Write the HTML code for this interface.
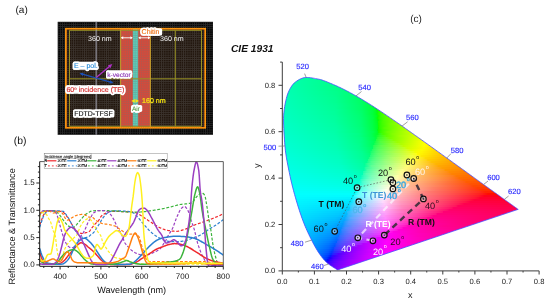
<!DOCTYPE html>
<html><head><meta charset="utf-8"><title>figure</title>
<style>html,body{margin:0;padding:0;background:#fff}body{width:550px;height:304px;overflow:hidden}svg{display:block;font-family:'Liberation Sans', sans-serif}text{text-rendering:geometricPrecision}</style></head>
<body>
<svg width="550" height="304" viewBox="0 0 550 304">
<rect width="550" height="304" fill="#fff"/>
<g opacity="0.999">
<defs><linearGradient id="r0"><stop offset="0" stop-color="#00ffa4"/><stop offset="1" stop-color="#00ff9b"/></linearGradient><linearGradient id="r1"><stop offset="0" stop-color="#00ffa7"/><stop offset="1" stop-color="#00ff93"/></linearGradient><linearGradient id="r2"><stop offset="0" stop-color="#00ffaa"/><stop offset="1" stop-color="#00ff8f"/></linearGradient><linearGradient id="r3"><stop offset="0" stop-color="#00ffac"/><stop offset="1" stop-color="#00ff8b"/></linearGradient><linearGradient id="r4"><stop offset="0" stop-color="#00ffae"/><stop offset="1" stop-color="#00ff86"/></linearGradient><linearGradient id="r5"><stop offset="0" stop-color="#00ffb0"/><stop offset="0.92" stop-color="#00ff87"/><stop offset="1" stop-color="#00ff81"/></linearGradient><linearGradient id="r6"><stop offset="0" stop-color="#00ffb1"/><stop offset="0.86" stop-color="#00ff88"/><stop offset="1" stop-color="#00ff7c"/></linearGradient><linearGradient id="r7"><stop offset="0" stop-color="#00ffb2"/><stop offset="0.78" stop-color="#00ff8c"/><stop offset="1" stop-color="#00ff77"/></linearGradient><linearGradient id="r8"><stop offset="0" stop-color="#00ffb4"/><stop offset="0.76" stop-color="#00ff8b"/><stop offset="1" stop-color="#00ff71"/></linearGradient><linearGradient id="r9"><stop offset="0" stop-color="#00ffb5"/><stop offset="0.69" stop-color="#00ff8f"/><stop offset="1" stop-color="#00ff6a"/></linearGradient><linearGradient id="r10"><stop offset="0" stop-color="#00ffb6"/><stop offset="0.66" stop-color="#00ff91"/><stop offset="0.99" stop-color="#00ff65"/><stop offset="1" stop-color="#00ff62"/></linearGradient><linearGradient id="r11"><stop offset="0" stop-color="#00ffb8"/><stop offset="0.65" stop-color="#00ff90"/><stop offset="0.95" stop-color="#00ff66"/><stop offset="1" stop-color="#00ff5a"/></linearGradient><linearGradient id="r12"><stop offset="0" stop-color="#00ffb9"/><stop offset="0.61" stop-color="#00ff92"/><stop offset="0.9" stop-color="#00ff69"/><stop offset="1" stop-color="#00ff4f"/></linearGradient><linearGradient id="r13"><stop offset="0" stop-color="#00ffba"/><stop offset="0.6" stop-color="#00ff93"/><stop offset="0.89" stop-color="#00ff67"/><stop offset="1" stop-color="#00ff42"/></linearGradient><linearGradient id="r14"><stop offset="0" stop-color="#00ffbb"/><stop offset="0.58" stop-color="#00ff95"/><stop offset="0.86" stop-color="#00ff68"/><stop offset="0.98" stop-color="#00ff3d"/><stop offset="1" stop-color="#00ff2f"/></linearGradient><linearGradient id="r15"><stop offset="0" stop-color="#00ffbc"/><stop offset="0.55" stop-color="#00ff97"/><stop offset="0.83" stop-color="#00ff69"/><stop offset="0.95" stop-color="#00ff3e"/><stop offset="0.99" stop-color="#00ff1c"/><stop offset="1" stop-color="#08ff00"/></linearGradient><linearGradient id="r16"><stop offset="0" stop-color="#00ffbe"/><stop offset="0.56" stop-color="#00ff96"/><stop offset="0.81" stop-color="#00ff68"/><stop offset="0.93" stop-color="#00ff39"/><stop offset="0.96" stop-color="#00ff1d"/><stop offset="0.97" stop-color="#00ff05"/><stop offset="0.98" stop-color="#1dff00"/><stop offset="1" stop-color="#32ff00"/></linearGradient><linearGradient id="r17"><stop offset="0" stop-color="#00ffbf"/><stop offset="0.52" stop-color="#00ff9a"/><stop offset="0.78" stop-color="#00ff6c"/><stop offset="0.89" stop-color="#00ff41"/><stop offset="0.93" stop-color="#00ff20"/><stop offset="0.94" stop-color="#00ff0c"/><stop offset="0.95" stop-color="#1bff00"/><stop offset="1" stop-color="#48ff00"/></linearGradient><linearGradient id="r18"><stop offset="0" stop-color="#00ffc0"/><stop offset="0.51" stop-color="#00ff9a"/><stop offset="0.76" stop-color="#00ff6e"/><stop offset="0.87" stop-color="#00ff3d"/><stop offset="0.9" stop-color="#00ff23"/><stop offset="0.91" stop-color="#00ff12"/><stop offset="0.92" stop-color="#18ff00"/><stop offset="0.96" stop-color="#41ff00"/><stop offset="1" stop-color="#58ff00"/></linearGradient><linearGradient id="r19"><stop offset="0" stop-color="#00ffc1"/><stop offset="0.49" stop-color="#00ff9d"/><stop offset="0.73" stop-color="#00ff72"/><stop offset="0.84" stop-color="#00ff45"/><stop offset="0.88" stop-color="#00ff26"/><stop offset="0.89" stop-color="#00ff17"/><stop offset="0.9" stop-color="#14ff00"/><stop offset="0.93" stop-color="#40ff00"/><stop offset="1" stop-color="#67ff00"/></linearGradient><linearGradient id="r20"><stop offset="0" stop-color="#00ffc2"/><stop offset="0.49" stop-color="#00ff9d"/><stop offset="0.72" stop-color="#00ff71"/><stop offset="0.83" stop-color="#00ff41"/><stop offset="0.86" stop-color="#00ff1c"/><stop offset="0.87" stop-color="#0dff00"/><stop offset="0.89" stop-color="#2eff00"/><stop offset="0.96" stop-color="#62ff00"/><stop offset="1" stop-color="#74ff00"/></linearGradient><linearGradient id="r21"><stop offset="0" stop-color="#00ffc3"/><stop offset="0.46" stop-color="#00ffa0"/><stop offset="0.7" stop-color="#00ff73"/><stop offset="0.8" stop-color="#00ff44"/><stop offset="0.84" stop-color="#00ff20"/><stop offset="0.85" stop-color="#00ff06"/><stop offset="0.86" stop-color="#1fff00"/><stop offset="0.9" stop-color="#4cff00"/><stop offset="1" stop-color="#80ff00"/></linearGradient><linearGradient id="r22"><stop offset="0" stop-color="#00ffc4"/><stop offset="0.45" stop-color="#00ffa1"/><stop offset="0.68" stop-color="#00ff75"/><stop offset="0.78" stop-color="#00ff46"/><stop offset="0.82" stop-color="#00ff23"/><stop offset="0.83" stop-color="#00ff11"/><stop offset="0.83" stop-color="#1bff00"/><stop offset="0.87" stop-color="#45ff00"/><stop offset="0.98" stop-color="#85ff00"/><stop offset="1" stop-color="#8cff00"/></linearGradient><linearGradient id="r23"><stop offset="0" stop-color="#00ffc6"/><stop offset="0.44" stop-color="#00ffa3"/><stop offset="0.66" stop-color="#00ff77"/><stop offset="0.76" stop-color="#00ff48"/><stop offset="0.8" stop-color="#00ff27"/><stop offset="0.81" stop-color="#00ff17"/><stop offset="0.81" stop-color="#16ff00"/><stop offset="0.84" stop-color="#3cff00"/><stop offset="0.92" stop-color="#76ff00"/><stop offset="1" stop-color="#98ff00"/></linearGradient><linearGradient id="r24"><stop offset="0" stop-color="#00ffc7"/><stop offset="0.45" stop-color="#00ffa2"/><stop offset="0.65" stop-color="#00ff76"/><stop offset="0.74" stop-color="#00ff4a"/><stop offset="0.78" stop-color="#00ff2a"/><stop offset="0.79" stop-color="#00ff1c"/><stop offset="0.79" stop-color="#10ff00"/><stop offset="0.81" stop-color="#31ff00"/><stop offset="0.88" stop-color="#68ff00"/><stop offset="1" stop-color="#a3ff00"/></linearGradient><linearGradient id="r25"><stop offset="0" stop-color="#00ffc8"/><stop offset="0.43" stop-color="#00ffa5"/><stop offset="0.64" stop-color="#00ff78"/><stop offset="0.73" stop-color="#00ff47"/><stop offset="0.77" stop-color="#00ff21"/><stop offset="0.77" stop-color="#00ff02"/><stop offset="0.78" stop-color="#21ff00"/><stop offset="0.82" stop-color="#51ff00"/><stop offset="0.94" stop-color="#93ff00"/><stop offset="1" stop-color="#aeff00"/></linearGradient><linearGradient id="r26"><stop offset="0" stop-color="#00ffc9"/><stop offset="0.43" stop-color="#00ffa5"/><stop offset="0.62" stop-color="#00ff7b"/><stop offset="0.71" stop-color="#00ff4b"/><stop offset="0.75" stop-color="#00ff28"/><stop offset="0.75" stop-color="#00ff17"/><stop offset="0.76" stop-color="#18ff00"/><stop offset="0.79" stop-color="#3fff00"/><stop offset="0.87" stop-color="#7bff00"/><stop offset="1" stop-color="#b9ff00"/></linearGradient><linearGradient id="r27"><stop offset="0" stop-color="#00ffca"/><stop offset="0.4" stop-color="#00ffa9"/><stop offset="0.6" stop-color="#00ff7d"/><stop offset="0.7" stop-color="#00ff4e"/><stop offset="0.73" stop-color="#00ff2c"/><stop offset="0.74" stop-color="#00ff1d"/><stop offset="0.74" stop-color="#13ff08"/><stop offset="0.76" stop-color="#33ff00"/><stop offset="0.81" stop-color="#67ff00"/><stop offset="0.95" stop-color="#b2ff00"/><stop offset="1" stop-color="#c4ff00"/></linearGradient><linearGradient id="r28"><stop offset="0" stop-color="#00ffcb"/><stop offset="0.39" stop-color="#00ffab"/><stop offset="0.58" stop-color="#00ff84"/><stop offset="0.67" stop-color="#00ff56"/><stop offset="0.71" stop-color="#00ff30"/><stop offset="0.72" stop-color="#07ff23"/><stop offset="0.73" stop-color="#1fff1f"/><stop offset="0.75" stop-color="#3eff0e"/><stop offset="0.76" stop-color="#45ff00"/><stop offset="0.83" stop-color="#81ff00"/><stop offset="0.99" stop-color="#ccff00"/><stop offset="1" stop-color="#cfff00"/></linearGradient><linearGradient id="r29"><stop offset="0" stop-color="#00ffcd"/><stop offset="0.39" stop-color="#00ffac"/><stop offset="0.57" stop-color="#00ff82"/><stop offset="0.66" stop-color="#00ff55"/><stop offset="0.69" stop-color="#00ff36"/><stop offset="0.72" stop-color="#30ff29"/><stop offset="0.76" stop-color="#5bff0d"/><stop offset="0.77" stop-color="#60ff00"/><stop offset="0.87" stop-color="#a3ff00"/><stop offset="1" stop-color="#daff00"/></linearGradient><linearGradient id="r30"><stop offset="0" stop-color="#00ffce"/><stop offset="0.39" stop-color="#00ffac"/><stop offset="0.57" stop-color="#00ff82"/><stop offset="0.66" stop-color="#00ff51"/><stop offset="0.67" stop-color="#00ff43"/><stop offset="0.68" stop-color="#09ff3a"/><stop offset="0.69" stop-color="#2dff36"/><stop offset="0.75" stop-color="#64ff1d"/><stop offset="0.78" stop-color="#78ff00"/><stop offset="0.93" stop-color="#c8ff00"/><stop offset="1" stop-color="#e6ff00"/></linearGradient><linearGradient id="r31"><stop offset="0" stop-color="#00ffcf"/><stop offset="0.38" stop-color="#00ffae"/><stop offset="0.56" stop-color="#00ff84"/><stop offset="0.64" stop-color="#00ff54"/><stop offset="0.66" stop-color="#00ff46"/><stop offset="0.66" stop-color="#1bff42"/><stop offset="0.69" stop-color="#45ff3a"/><stop offset="0.77" stop-color="#80ff17"/><stop offset="0.79" stop-color="#88ff00"/><stop offset="0.93" stop-color="#d4ff00"/><stop offset="1" stop-color="#f1ff00"/></linearGradient><linearGradient id="r32"><stop offset="0" stop-color="#00ffd0"/><stop offset="0.37" stop-color="#00ffb1"/><stop offset="0.54" stop-color="#00ff87"/><stop offset="0.63" stop-color="#00ff59"/><stop offset="0.64" stop-color="#09ff4c"/><stop offset="0.65" stop-color="#21ff4a"/><stop offset="0.68" stop-color="#4fff41"/><stop offset="0.77" stop-color="#8fff1c"/><stop offset="0.8" stop-color="#9bff00"/><stop offset="0.96" stop-color="#efff00"/><stop offset="1" stop-color="#fdff00"/></linearGradient><linearGradient id="r33"><stop offset="0" stop-color="#00ffd2"/><stop offset="0.36" stop-color="#00ffb2"/><stop offset="0.53" stop-color="#00ff8a"/><stop offset="0.61" stop-color="#00ff5c"/><stop offset="0.62" stop-color="#00ff55"/><stop offset="0.63" stop-color="#1cff53"/><stop offset="0.66" stop-color="#46ff4c"/><stop offset="0.74" stop-color="#8bff31"/><stop offset="0.79" stop-color="#a7ff14"/><stop offset="0.81" stop-color="#aeff00"/><stop offset="0.97" stop-color="#ffff00"/><stop offset="1" stop-color="#fff500"/></linearGradient><linearGradient id="r34"><stop offset="0" stop-color="#00ffd3"/><stop offset="0.35" stop-color="#00ffb4"/><stop offset="0.51" stop-color="#00ff8f"/><stop offset="0.59" stop-color="#00ff64"/><stop offset="0.6" stop-color="#00ff5e"/><stop offset="0.61" stop-color="#27ff59"/><stop offset="0.66" stop-color="#5fff4f"/><stop offset="0.78" stop-color="#aeff23"/><stop offset="0.8" stop-color="#b9ff11"/><stop offset="0.81" stop-color="#bdff00"/><stop offset="0.95" stop-color="#fffe00"/><stop offset="1" stop-color="#ffea00"/></linearGradient><linearGradient id="r35"><stop offset="0" stop-color="#00ffd4"/><stop offset="0.35" stop-color="#00ffb5"/><stop offset="0.51" stop-color="#00ff8d"/><stop offset="0.59" stop-color="#00ff64"/><stop offset="0.59" stop-color="#1cff61"/><stop offset="0.62" stop-color="#47ff5c"/><stop offset="0.71" stop-color="#8eff47"/><stop offset="0.8" stop-color="#c4ff1e"/><stop offset="0.82" stop-color="#cfff00"/><stop offset="0.93" stop-color="#fffa00"/><stop offset="1" stop-color="#ffdf00"/></linearGradient><linearGradient id="r36"><stop offset="0" stop-color="#00ffd6"/><stop offset="0.35" stop-color="#00ffb6"/><stop offset="0.5" stop-color="#00ff90"/><stop offset="0.57" stop-color="#00ff6c"/><stop offset="0.58" stop-color="#28ff67"/><stop offset="0.62" stop-color="#5aff60"/><stop offset="0.73" stop-color="#a7ff46"/><stop offset="0.8" stop-color="#d3ff22"/><stop offset="0.83" stop-color="#e1ff00"/><stop offset="0.9" stop-color="#fffb00"/><stop offset="1" stop-color="#ffd500"/></linearGradient><linearGradient id="r37"><stop offset="0" stop-color="#00ffd7"/><stop offset="0.35" stop-color="#00ffb8"/><stop offset="0.5" stop-color="#00ff91"/><stop offset="0.55" stop-color="#00ff71"/><stop offset="0.56" stop-color="#1dff6f"/><stop offset="0.59" stop-color="#49ff6a"/><stop offset="0.67" stop-color="#91ff59"/><stop offset="0.79" stop-color="#dbff2e"/><stop offset="0.83" stop-color="#ecff14"/><stop offset="0.84" stop-color="#f3ff00"/><stop offset="0.88" stop-color="#fff700"/><stop offset="1" stop-color="#ffcc00"/></linearGradient><linearGradient id="r38"><stop offset="0" stop-color="#00ffd9"/><stop offset="0.34" stop-color="#00ffba"/><stop offset="0.49" stop-color="#00ff94"/><stop offset="0.54" stop-color="#00ff78"/><stop offset="0.55" stop-color="#29ff75"/><stop offset="0.59" stop-color="#5dff6e"/><stop offset="0.7" stop-color="#aeff57"/><stop offset="0.81" stop-color="#f1ff2a"/><stop offset="0.84" stop-color="#ffff11"/><stop offset="0.84" stop-color="#fffb00"/><stop offset="0.99" stop-color="#ffc600"/><stop offset="1" stop-color="#ffc300"/></linearGradient><linearGradient id="r39"><stop offset="0" stop-color="#00ffda"/><stop offset="0.34" stop-color="#00ffbc"/><stop offset="0.48" stop-color="#00ff95"/><stop offset="0.53" stop-color="#00ff7d"/><stop offset="0.53" stop-color="#1fff7c"/><stop offset="0.56" stop-color="#4bff78"/><stop offset="0.64" stop-color="#94ff69"/><stop offset="0.79" stop-color="#f2ff3c"/><stop offset="0.83" stop-color="#fff724"/><stop offset="0.85" stop-color="#ffea00"/><stop offset="1" stop-color="#ffba00"/></linearGradient><linearGradient id="r40"><stop offset="0" stop-color="#00ffdc"/><stop offset="0.33" stop-color="#00ffbe"/><stop offset="0.47" stop-color="#00ff98"/><stop offset="0.51" stop-color="#00ff84"/><stop offset="0.52" stop-color="#2cff81"/><stop offset="0.56" stop-color="#5fff7c"/><stop offset="0.66" stop-color="#b3ff68"/><stop offset="0.79" stop-color="#fffc3e"/><stop offset="0.85" stop-color="#ffe013"/><stop offset="0.86" stop-color="#ffda00"/><stop offset="1" stop-color="#ffb100"/></linearGradient><linearGradient id="r41"><stop offset="0" stop-color="#00ffdd"/><stop offset="0.33" stop-color="#00ffc0"/><stop offset="0.46" stop-color="#00ff9c"/><stop offset="0.5" stop-color="#00ff89"/><stop offset="0.5" stop-color="#22ff88"/><stop offset="0.53" stop-color="#4dff85"/><stop offset="0.6" stop-color="#93ff79"/><stop offset="0.76" stop-color="#fffe4f"/><stop offset="0.85" stop-color="#ffd318"/><stop offset="0.86" stop-color="#ffce00"/><stop offset="1" stop-color="#ffa900"/></linearGradient><linearGradient id="r42"><stop offset="0" stop-color="#00ffdf"/><stop offset="0.32" stop-color="#00ffc2"/><stop offset="0.45" stop-color="#00ff9f"/><stop offset="0.48" stop-color="#00ff90"/><stop offset="0.49" stop-color="#1fff8f"/><stop offset="0.51" stop-color="#4dff8c"/><stop offset="0.59" stop-color="#99ff80"/><stop offset="0.74" stop-color="#fffc5a"/><stop offset="0.85" stop-color="#ffc81b"/><stop offset="0.87" stop-color="#ffc100"/><stop offset="1" stop-color="#ffa100"/></linearGradient><linearGradient id="r43"><stop offset="0" stop-color="#00ffe0"/><stop offset="0.31" stop-color="#00ffc5"/><stop offset="0.45" stop-color="#00ffa1"/><stop offset="0.46" stop-color="#00ff98"/><stop offset="0.48" stop-color="#34ff94"/><stop offset="0.53" stop-color="#72ff8e"/><stop offset="0.65" stop-color="#d0ff7a"/><stop offset="0.72" stop-color="#fffa65"/><stop offset="0.86" stop-color="#ffbb19"/><stop offset="0.88" stop-color="#ffb500"/><stop offset="1" stop-color="#ff9900"/></linearGradient><linearGradient id="r44"><stop offset="0" stop-color="#00ffe2"/><stop offset="0.32" stop-color="#00ffc6"/><stop offset="0.44" stop-color="#00ffa3"/><stop offset="0.45" stop-color="#00ff9d"/><stop offset="0.47" stop-color="#2bff9b"/><stop offset="0.49" stop-color="#5cff97"/><stop offset="0.58" stop-color="#aeff8b"/><stop offset="0.7" stop-color="#fffd72"/><stop offset="0.83" stop-color="#ffbd32"/><stop offset="0.87" stop-color="#ffac10"/><stop offset="0.88" stop-color="#ffa900"/><stop offset="1" stop-color="#ff9200"/></linearGradient><linearGradient id="r45"><stop offset="0" stop-color="#00ffe3"/><stop offset="0.31" stop-color="#00ffc9"/><stop offset="0.43" stop-color="#00ffa7"/><stop offset="0.44" stop-color="#00ffa4"/><stop offset="0.45" stop-color="#2affa1"/><stop offset="0.49" stop-color="#63ff9d"/><stop offset="0.58" stop-color="#bdff90"/><stop offset="0.68" stop-color="#fffa7b"/><stop offset="0.82" stop-color="#ffb638"/><stop offset="0.87" stop-color="#ffa314"/><stop offset="0.89" stop-color="#ff9f00"/><stop offset="1" stop-color="#ff8a00"/></linearGradient><linearGradient id="r46"><stop offset="0" stop-color="#00ffe5"/><stop offset="0.31" stop-color="#00ffcc"/><stop offset="0.42" stop-color="#00ffac"/><stop offset="0.43" stop-color="#00ffa9"/><stop offset="0.44" stop-color="#1effa8"/><stop offset="0.45" stop-color="#46ffa6"/><stop offset="0.51" stop-color="#8bffa0"/><stop offset="0.65" stop-color="#fdff89"/><stop offset="0.78" stop-color="#ffbb4a"/><stop offset="0.88" stop-color="#ff9a17"/><stop offset="0.89" stop-color="#ff9500"/><stop offset="1" stop-color="#ff8300"/></linearGradient><linearGradient id="r47"><stop offset="0" stop-color="#00ffe7"/><stop offset="0.31" stop-color="#00ffcd"/><stop offset="0.42" stop-color="#00ffb0"/><stop offset="0.42" stop-color="#1dffae"/><stop offset="0.44" stop-color="#46ffad"/><stop offset="0.49" stop-color="#8cffa7"/><stop offset="0.63" stop-color="#fffe92"/><stop offset="0.75" stop-color="#ffbd57"/><stop offset="0.88" stop-color="#ff9019"/><stop offset="0.9" stop-color="#ff8b00"/><stop offset="1" stop-color="#ff7b00"/></linearGradient><linearGradient id="r48"><stop offset="0" stop-color="#00ffe9"/><stop offset="0.31" stop-color="#00ffd0"/><stop offset="0.41" stop-color="#00ffb5"/><stop offset="0.41" stop-color="#24ffb5"/><stop offset="0.43" stop-color="#53ffb3"/><stop offset="0.5" stop-color="#a0ffac"/><stop offset="0.62" stop-color="#fffd9a"/><stop offset="0.73" stop-color="#ffbb5f"/><stop offset="0.88" stop-color="#ff8618"/><stop offset="0.9" stop-color="#ff8200"/><stop offset="1" stop-color="#ff7400"/></linearGradient><linearGradient id="r49"><stop offset="0" stop-color="#00ffeb"/><stop offset="0.3" stop-color="#00ffd3"/><stop offset="0.39" stop-color="#00ffbd"/><stop offset="0.41" stop-color="#39ffbb"/><stop offset="0.45" stop-color="#7cffb7"/><stop offset="0.59" stop-color="#feffa6"/><stop offset="0.71" stop-color="#ffbb69"/><stop offset="0.89" stop-color="#ff7e1a"/><stop offset="0.91" stop-color="#ff7800"/><stop offset="1" stop-color="#ff6c00"/></linearGradient><linearGradient id="r50"><stop offset="0" stop-color="#00ffec"/><stop offset="0.3" stop-color="#00ffd6"/><stop offset="0.38" stop-color="#00ffc4"/><stop offset="0.4" stop-color="#38ffc1"/><stop offset="0.43" stop-color="#6fffbf"/><stop offset="0.52" stop-color="#ceffb6"/><stop offset="0.58" stop-color="#fffdad"/><stop offset="0.68" stop-color="#ffbd75"/><stop offset="0.87" stop-color="#ff7b28"/><stop offset="0.9" stop-color="#ff710f"/><stop offset="0.91" stop-color="#ff6f00"/><stop offset="1" stop-color="#ff6500"/></linearGradient><linearGradient id="r51"><stop offset="0" stop-color="#00ffee"/><stop offset="0.31" stop-color="#00ffd9"/><stop offset="0.37" stop-color="#00ffca"/><stop offset="0.38" stop-color="#30ffc8"/><stop offset="0.41" stop-color="#6cffc6"/><stop offset="0.5" stop-color="#c9ffbf"/><stop offset="0.56" stop-color="#fffbb5"/><stop offset="0.67" stop-color="#ffb979"/><stop offset="0.86" stop-color="#ff752e"/><stop offset="0.91" stop-color="#ff670d"/><stop offset="0.92" stop-color="#ff6600"/><stop offset="1" stop-color="#ff5d00"/></linearGradient><linearGradient id="r52"><stop offset="0" stop-color="#00fff0"/><stop offset="0.3" stop-color="#00ffdd"/><stop offset="0.36" stop-color="#00ffd0"/><stop offset="0.37" stop-color="#24ffd0"/><stop offset="0.38" stop-color="#4dffcf"/><stop offset="0.43" stop-color="#98ffcb"/><stop offset="0.54" stop-color="#ffffc1"/><stop offset="0.63" stop-color="#ffbe88"/><stop offset="0.82" stop-color="#ff773d"/><stop offset="0.91" stop-color="#ff5f11"/><stop offset="0.92" stop-color="#ff5d00"/><stop offset="1" stop-color="#ff5500"/></linearGradient><linearGradient id="r53"><stop offset="0" stop-color="#00fff2"/><stop offset="0.3" stop-color="#00ffe0"/><stop offset="0.35" stop-color="#00ffd7"/><stop offset="0.36" stop-color="#25ffd7"/><stop offset="0.38" stop-color="#58ffd5"/><stop offset="0.43" stop-color="#a5ffd2"/><stop offset="0.53" stop-color="#fffbc7"/><stop offset="0.62" stop-color="#ffb88b"/><stop offset="0.8" stop-color="#ff7444"/><stop offset="0.91" stop-color="#ff5613"/><stop offset="0.93" stop-color="#ff5300"/><stop offset="1" stop-color="#ff4d00"/></linearGradient><linearGradient id="r54"><stop offset="0" stop-color="#00fff5"/><stop offset="0.32" stop-color="#00ffe2"/><stop offset="0.34" stop-color="#00ffdf"/><stop offset="0.35" stop-color="#3cffdd"/><stop offset="0.38" stop-color="#76ffdc"/><stop offset="0.47" stop-color="#e1ffd7"/><stop offset="0.51" stop-color="#fff9cf"/><stop offset="0.61" stop-color="#ffb38f"/><stop offset="0.8" stop-color="#ff6e47"/><stop offset="0.91" stop-color="#ff4e16"/><stop offset="0.93" stop-color="#ff4900"/><stop offset="1" stop-color="#ff4400"/></linearGradient><linearGradient id="r55"><stop offset="0" stop-color="#00fff7"/><stop offset="0.32" stop-color="#00ffe7"/><stop offset="0.33" stop-color="#00ffe6"/><stop offset="0.33" stop-color="#1fffe5"/><stop offset="0.35" stop-color="#4effe5"/><stop offset="0.39" stop-color="#96ffe3"/><stop offset="0.49" stop-color="#fffddc"/><stop offset="0.57" stop-color="#ffbfa2"/><stop offset="0.72" stop-color="#ff7e63"/><stop offset="0.91" stop-color="#ff4418"/><stop offset="0.94" stop-color="#ff3f00"/><stop offset="1" stop-color="#ff3b00"/></linearGradient><linearGradient id="r56"><stop offset="0" stop-color="#00fff9"/><stop offset="0.32" stop-color="#00ffed"/><stop offset="0.33" stop-color="#28ffed"/><stop offset="0.34" stop-color="#53ffec"/><stop offset="0.39" stop-color="#9bffeb"/><stop offset="0.47" stop-color="#feffe8"/><stop offset="0.56" stop-color="#ffbca8"/><stop offset="0.72" stop-color="#ff7663"/><stop offset="0.91" stop-color="#ff3a1a"/><stop offset="0.95" stop-color="#ff3300"/><stop offset="1" stop-color="#ff3000"/></linearGradient><linearGradient id="r57"><stop offset="0" stop-color="#00fffc"/><stop offset="0.31" stop-color="#00fff5"/><stop offset="0.31" stop-color="#06fff4"/><stop offset="0.32" stop-color="#2afff4"/><stop offset="0.33" stop-color="#5ffff4"/><stop offset="0.39" stop-color="#b2fff3"/><stop offset="0.46" stop-color="#fffcef"/><stop offset="0.54" stop-color="#ffbcb0"/><stop offset="0.67" stop-color="#ff7b71"/><stop offset="0.92" stop-color="#ff2e1b"/><stop offset="0.95" stop-color="#ff2500"/><stop offset="1" stop-color="#ff2300"/></linearGradient><linearGradient id="r58"><stop offset="0" stop-color="#00fffe"/><stop offset="0.3" stop-color="#00fffc"/><stop offset="0.31" stop-color="#33fffc"/><stop offset="0.33" stop-color="#6efffc"/><stop offset="0.4" stop-color="#d0fffc"/><stop offset="0.44" stop-color="#fffffc"/><stop offset="0.51" stop-color="#ffbfbd"/><stop offset="0.64" stop-color="#ff807e"/><stop offset="0.92" stop-color="#ff1e1a"/><stop offset="0.94" stop-color="#ff120b"/><stop offset="0.95" stop-color="#ff0e00"/><stop offset="1" stop-color="#ff0d00"/></linearGradient><linearGradient id="r59"><stop offset="0" stop-color="#00fdff"/><stop offset="0.29" stop-color="#00faff"/><stop offset="0.29" stop-color="#26f9ff"/><stop offset="0.31" stop-color="#5ef9ff"/><stop offset="0.37" stop-color="#b2f9ff"/><stop offset="0.43" stop-color="#fff8ff"/><stop offset="0.5" stop-color="#ffb9c0"/><stop offset="0.63" stop-color="#ff797f"/><stop offset="0.89" stop-color="#ff1928"/><stop offset="0.92" stop-color="#ff001f"/><stop offset="1" stop-color="#ff001d"/></linearGradient><linearGradient id="r60"><stop offset="0" stop-color="#00fbff"/><stop offset="0.28" stop-color="#00f2ff"/><stop offset="0.28" stop-color="#11f2ff"/><stop offset="0.29" stop-color="#2df2ff"/><stop offset="0.31" stop-color="#60f1ff"/><stop offset="0.36" stop-color="#b2f0ff"/><stop offset="0.43" stop-color="#ffebfc"/><stop offset="0.5" stop-color="#ffadbd"/><stop offset="0.64" stop-color="#ff6e7d"/><stop offset="0.86" stop-color="#ff1835"/><stop offset="0.89" stop-color="#ff002e"/><stop offset="1" stop-color="#ff002a"/></linearGradient><linearGradient id="r61"><stop offset="0" stop-color="#00f8ff"/><stop offset="0.27" stop-color="#00eaff"/><stop offset="0.28" stop-color="#34eaff"/><stop offset="0.31" stop-color="#74e9ff"/><stop offset="0.38" stop-color="#d4e6ff"/><stop offset="0.42" stop-color="#ffdffa"/><stop offset="0.5" stop-color="#ffa4bc"/><stop offset="0.65" stop-color="#ff5f77"/><stop offset="0.82" stop-color="#ff1941"/><stop offset="0.85" stop-color="#ff003a"/><stop offset="1" stop-color="#ff0033"/></linearGradient><linearGradient id="r62"><stop offset="0" stop-color="#00f5ff"/><stop offset="0.26" stop-color="#00e4ff"/><stop offset="0.26" stop-color="#00e3ff"/><stop offset="0.27" stop-color="#22e2ff"/><stop offset="0.28" stop-color="#4fe2ff"/><stop offset="0.33" stop-color="#9ddfff"/><stop offset="0.41" stop-color="#ffd9fe"/><stop offset="0.49" stop-color="#ff9dbe"/><stop offset="0.63" stop-color="#ff5c7d"/><stop offset="0.79" stop-color="#ff164a"/><stop offset="0.82" stop-color="#ff0045"/><stop offset="1" stop-color="#ff003a"/></linearGradient><linearGradient id="r63"><stop offset="0" stop-color="#00f3ff"/><stop offset="0.24" stop-color="#00dfff"/><stop offset="0.25" stop-color="#00dcff"/><stop offset="0.25" stop-color="#0edbff"/><stop offset="0.26" stop-color="#2adbff"/><stop offset="0.28" stop-color="#5bdaff"/><stop offset="0.33" stop-color="#afd6ff"/><stop offset="0.41" stop-color="#ffcdfc"/><stop offset="0.49" stop-color="#ff94be"/><stop offset="0.63" stop-color="#ff547e"/><stop offset="0.75" stop-color="#ff1b56"/><stop offset="0.78" stop-color="#ff004f"/><stop offset="1" stop-color="#ff0040"/></linearGradient><linearGradient id="r64"><stop offset="0" stop-color="#00f0ff"/><stop offset="0.22" stop-color="#00daff"/><stop offset="0.24" stop-color="#00d5ff"/><stop offset="0.25" stop-color="#31d4ff"/><stop offset="0.28" stop-color="#66d2ff"/><stop offset="0.34" stop-color="#bfcdff"/><stop offset="0.4" stop-color="#ffc6fe"/><stop offset="0.48" stop-color="#ff8bbd"/><stop offset="0.64" stop-color="#ff4479"/><stop offset="0.73" stop-color="#ff155d"/><stop offset="0.74" stop-color="#ff0059"/><stop offset="1" stop-color="#ff0046"/></linearGradient><linearGradient id="r65"><stop offset="0" stop-color="#00edff"/><stop offset="0.21" stop-color="#00d6ff"/><stop offset="0.24" stop-color="#00cdff"/><stop offset="0.24" stop-color="#26cdff"/><stop offset="0.26" stop-color="#58cbff"/><stop offset="0.31" stop-color="#a9c6ff"/><stop offset="0.4" stop-color="#ffbafb"/><stop offset="0.48" stop-color="#ff82bd"/><stop offset="0.63" stop-color="#ff3a7a"/><stop offset="0.7" stop-color="#ff1265"/><stop offset="0.71" stop-color="#ff0062"/><stop offset="1" stop-color="#ff004a"/></linearGradient><linearGradient id="r66"><stop offset="0" stop-color="#00eaff"/><stop offset="0.2" stop-color="#00d2ff"/><stop offset="0.23" stop-color="#00c7ff"/><stop offset="0.24" stop-color="#2ec6ff"/><stop offset="0.26" stop-color="#63c4ff"/><stop offset="0.33" stop-color="#c3bcff"/><stop offset="0.39" stop-color="#ffb2fd"/><stop offset="0.47" stop-color="#ff7bbf"/><stop offset="0.63" stop-color="#ff2f7b"/><stop offset="0.68" stop-color="#ff0e6d"/><stop offset="0.69" stop-color="#ff006b"/><stop offset="1" stop-color="#ff004f"/></linearGradient><linearGradient id="r67"><stop offset="0" stop-color="#00e7ff"/><stop offset="0.19" stop-color="#00cdff"/><stop offset="0.23" stop-color="#00c0ff"/><stop offset="0.23" stop-color="#20bfff"/><stop offset="0.25" stop-color="#4abeff"/><stop offset="0.3" stop-color="#98b8ff"/><stop offset="0.4" stop-color="#ffa8fc"/><stop offset="0.5" stop-color="#ff6ebb"/><stop offset="0.66" stop-color="#ff1b7a"/><stop offset="0.68" stop-color="#ff0c76"/><stop offset="0.68" stop-color="#ff0075"/><stop offset="1" stop-color="#ff0055"/></linearGradient><linearGradient id="r68"><stop offset="0" stop-color="#00e3ff"/><stop offset="0.19" stop-color="#00c9ff"/><stop offset="0.23" stop-color="#00bbff"/><stop offset="0.24" stop-color="#38b8ff"/><stop offset="0.28" stop-color="#75b4ff"/><stop offset="0.37" stop-color="#dda7ff"/><stop offset="0.42" stop-color="#ff9cf9"/><stop offset="0.51" stop-color="#ff64ba"/><stop offset="0.66" stop-color="#ff1882"/><stop offset="0.67" stop-color="#ff007e"/><stop offset="1" stop-color="#ff005b"/></linearGradient><linearGradient id="r69"><stop offset="0" stop-color="#00e0ff"/><stop offset="0.19" stop-color="#00c4ff"/><stop offset="0.23" stop-color="#00b4ff"/><stop offset="0.24" stop-color="#2eb2ff"/><stop offset="0.27" stop-color="#60afff"/><stop offset="0.34" stop-color="#b1a6ff"/><stop offset="0.42" stop-color="#ff95fc"/><stop offset="0.53" stop-color="#ff5dbd"/><stop offset="0.65" stop-color="#ff1b8d"/><stop offset="0.67" stop-color="#ff0087"/><stop offset="1" stop-color="#ff0061"/><stop offset="1" stop-color="#ff0061"/></linearGradient><linearGradient id="r70"><stop offset="0" stop-color="#00ddff"/><stop offset="0.18" stop-color="#00c0ff"/><stop offset="0.23" stop-color="#00aeff"/><stop offset="0.23" stop-color="#0cacff"/><stop offset="0.24" stop-color="#27acff"/><stop offset="0.26" stop-color="#5ca9ff"/><stop offset="0.34" stop-color="#b29eff"/><stop offset="0.44" stop-color="#ff8cfd"/><stop offset="0.55" stop-color="#ff4fba"/><stop offset="0.65" stop-color="#ff1394"/><stop offset="0.66" stop-color="#ff0091"/><stop offset="0.95" stop-color="#ff006b"/><stop offset="1" stop-color="#ff0067"/></linearGradient><linearGradient id="r71"><stop offset="0" stop-color="#00d9ff"/><stop offset="0.18" stop-color="#00bcff"/><stop offset="0.23" stop-color="#00a7ff"/><stop offset="0.24" stop-color="#1ea5ff"/><stop offset="0.26" stop-color="#4fa3ff"/><stop offset="0.32" stop-color="#9a9aff"/><stop offset="0.45" stop-color="#ff83fe"/><stop offset="0.56" stop-color="#ff45bc"/><stop offset="0.65" stop-color="#ff149e"/><stop offset="0.66" stop-color="#ff009b"/><stop offset="0.93" stop-color="#ff0073"/><stop offset="1" stop-color="#ff006d"/></linearGradient><linearGradient id="r72"><stop offset="0" stop-color="#00d6ff"/><stop offset="0.19" stop-color="#00b3ff"/><stop offset="0.23" stop-color="#00a2ff"/><stop offset="0.23" stop-color="#079fff"/><stop offset="0.24" stop-color="#249fff"/><stop offset="0.26" stop-color="#519cff"/><stop offset="0.33" stop-color="#9f92ff"/><stop offset="0.46" stop-color="#ff78fd"/><stop offset="0.58" stop-color="#ff38bd"/><stop offset="0.64" stop-color="#ff12a8"/><stop offset="0.65" stop-color="#ff00a5"/><stop offset="0.92" stop-color="#ff007a"/><stop offset="1" stop-color="#ff0073"/></linearGradient><linearGradient id="r73"><stop offset="0" stop-color="#00d2ff"/><stop offset="0.17" stop-color="#00b2ff"/><stop offset="0.23" stop-color="#009aff"/><stop offset="0.24" stop-color="#1d99ff"/><stop offset="0.26" stop-color="#4d96ff"/><stop offset="0.34" stop-color="#9b8bff"/><stop offset="0.48" stop-color="#ff6afa"/><stop offset="0.62" stop-color="#ff1eb8"/><stop offset="0.64" stop-color="#ff00b0"/><stop offset="0.91" stop-color="#ff0082"/><stop offset="1" stop-color="#ff0079"/></linearGradient><linearGradient id="r74"><stop offset="0" stop-color="#00ceff"/><stop offset="0.17" stop-color="#00acff"/><stop offset="0.23" stop-color="#0095ff"/><stop offset="0.25" stop-color="#3591ff"/><stop offset="0.3" stop-color="#738aff"/><stop offset="0.42" stop-color="#d474ff"/><stop offset="0.49" stop-color="#ff5ffb"/><stop offset="0.61" stop-color="#ff1ac2"/><stop offset="0.63" stop-color="#ff00bc"/><stop offset="0.84" stop-color="#ff0091"/><stop offset="1" stop-color="#ff0080"/></linearGradient><linearGradient id="r75"><stop offset="0" stop-color="#00caff"/><stop offset="0.17" stop-color="#00a8ff"/><stop offset="0.23" stop-color="#008dff"/><stop offset="0.24" stop-color="#228cff"/><stop offset="0.26" stop-color="#4e88ff"/><stop offset="0.34" stop-color="#947dff"/><stop offset="0.51" stop-color="#ff53fc"/><stop offset="0.61" stop-color="#ff15cd"/><stop offset="0.62" stop-color="#ff00c8"/><stop offset="0.83" stop-color="#ff009b"/><stop offset="1" stop-color="#ff0086"/></linearGradient><linearGradient id="r76"><stop offset="0" stop-color="#00c6ff"/><stop offset="0.17" stop-color="#00a2ff"/><stop offset="0.23" stop-color="#0088ff"/><stop offset="0.24" stop-color="#2c85ff"/><stop offset="0.28" stop-color="#607fff"/><stop offset="0.39" stop-color="#b56cff"/><stop offset="0.53" stop-color="#ff46fc"/><stop offset="0.6" stop-color="#ff15da"/><stop offset="0.61" stop-color="#ff00d5"/><stop offset="0.81" stop-color="#ff00a6"/><stop offset="1" stop-color="#ff008d"/></linearGradient><linearGradient id="r77"><stop offset="0" stop-color="#00c1ff"/><stop offset="0.17" stop-color="#009cff"/><stop offset="0.23" stop-color="#0083ff"/><stop offset="0.25" stop-color="#347eff"/><stop offset="0.3" stop-color="#7076ff"/><stop offset="0.46" stop-color="#d156ff"/><stop offset="0.54" stop-color="#ff36fd"/><stop offset="0.59" stop-color="#ff0ce6"/><stop offset="0.6" stop-color="#ff00e4"/><stop offset="0.78" stop-color="#ff00b3"/><stop offset="1" stop-color="#ff0094"/></linearGradient><linearGradient id="r78"><stop offset="0" stop-color="#00bcff"/><stop offset="0.17" stop-color="#0096ff"/><stop offset="0.23" stop-color="#007aff"/><stop offset="0.24" stop-color="#1f79ff"/><stop offset="0.27" stop-color="#4a75ff"/><stop offset="0.35" stop-color="#8f66ff"/><stop offset="0.52" stop-color="#e93aff"/><stop offset="0.57" stop-color="#ff1cfc"/><stop offset="0.58" stop-color="#ff03f5"/><stop offset="0.75" stop-color="#ff00c2"/><stop offset="1" stop-color="#ff009b"/></linearGradient><linearGradient id="r79"><stop offset="0" stop-color="#00b7ff"/><stop offset="0.17" stop-color="#0091ff"/><stop offset="0.23" stop-color="#0075ff"/><stop offset="0.24" stop-color="#2a71ff"/><stop offset="0.29" stop-color="#5d6bff"/><stop offset="0.42" stop-color="#ae52ff"/><stop offset="0.54" stop-color="#e926ff"/><stop offset="0.56" stop-color="#f413ff"/><stop offset="0.57" stop-color="#f700ff"/><stop offset="0.63" stop-color="#ff00ed"/><stop offset="0.83" stop-color="#ff00ba"/><stop offset="1" stop-color="#ff00a3"/></linearGradient><linearGradient id="r80"><stop offset="0" stop-color="#00b2ff"/><stop offset="0.16" stop-color="#008dff"/><stop offset="0.22" stop-color="#0070ff"/><stop offset="0.25" stop-color="#336aff"/><stop offset="0.31" stop-color="#6c60ff"/><stop offset="0.49" stop-color="#ca34ff"/><stop offset="0.54" stop-color="#e212ff"/><stop offset="0.55" stop-color="#e600ff"/><stop offset="0.62" stop-color="#ff00fa"/><stop offset="0.82" stop-color="#ff00c6"/><stop offset="1" stop-color="#ff00aa"/></linearGradient><linearGradient id="r81"><stop offset="0" stop-color="#00adff"/><stop offset="0.17" stop-color="#0083ff"/><stop offset="0.22" stop-color="#006aff"/><stop offset="0.23" stop-color="#0c65ff"/><stop offset="0.25" stop-color="#3063ff"/><stop offset="0.31" stop-color="#6a58ff"/><stop offset="0.48" stop-color="#bf2cff"/><stop offset="0.53" stop-color="#d112ff"/><stop offset="0.53" stop-color="#d500ff"/><stop offset="0.65" stop-color="#ff00fa"/><stop offset="0.89" stop-color="#ff00c2"/><stop offset="1" stop-color="#ff00b3"/></linearGradient><linearGradient id="r82"><stop offset="0" stop-color="#00a7ff"/><stop offset="0.16" stop-color="#007eff"/><stop offset="0.23" stop-color="#005fff"/><stop offset="0.23" stop-color="#1f5dff"/><stop offset="0.28" stop-color="#4f56ff"/><stop offset="0.41" stop-color="#9a3aff"/><stop offset="0.5" stop-color="#bd18ff"/><stop offset="0.51" stop-color="#c400ff"/><stop offset="0.68" stop-color="#ff00fe"/><stop offset="0.89" stop-color="#ff00cb"/><stop offset="1" stop-color="#ff00bb"/></linearGradient><linearGradient id="r83"><stop offset="0" stop-color="#00a1ff"/><stop offset="0.16" stop-color="#0076ff"/><stop offset="0.22" stop-color="#0059ff"/><stop offset="0.23" stop-color="#1c56ff"/><stop offset="0.27" stop-color="#4650ff"/><stop offset="0.38" stop-color="#8739ff"/><stop offset="0.47" stop-color="#ac18ff"/><stop offset="0.49" stop-color="#b300ff"/><stop offset="0.71" stop-color="#ff00fe"/><stop offset="0.98" stop-color="#ff00c7"/><stop offset="1" stop-color="#ff00c5"/></linearGradient><linearGradient id="r84"><stop offset="0" stop-color="#009aff"/><stop offset="0.16" stop-color="#006dff"/><stop offset="0.22" stop-color="#0052ff"/><stop offset="0.24" stop-color="#284dff"/><stop offset="0.3" stop-color="#5942ff"/><stop offset="0.43" stop-color="#961cff"/><stop offset="0.45" stop-color="#9e0fff"/><stop offset="0.46" stop-color="#a200ff"/><stop offset="0.72" stop-color="#f800ff"/><stop offset="0.82" stop-color="#ff00ed"/><stop offset="1" stop-color="#ff00cf"/></linearGradient><linearGradient id="r85"><stop offset="0" stop-color="#0092ff"/><stop offset="0.16" stop-color="#0068ff"/><stop offset="0.21" stop-color="#004bff"/><stop offset="0.23" stop-color="#2645ff"/><stop offset="0.3" stop-color="#5738ff"/><stop offset="0.41" stop-color="#8815ff"/><stop offset="0.43" stop-color="#9000ff"/><stop offset="0.68" stop-color="#e100ff"/><stop offset="0.82" stop-color="#ff00f9"/><stop offset="1" stop-color="#ff00d9"/></linearGradient><linearGradient id="r86"><stop offset="0" stop-color="#008aff"/><stop offset="0.16" stop-color="#005dff"/><stop offset="0.21" stop-color="#0042ff"/><stop offset="0.23" stop-color="#283bff"/><stop offset="0.3" stop-color="#572cff"/><stop offset="0.38" stop-color="#7611ff"/><stop offset="0.4" stop-color="#8000ff"/><stop offset="0.65" stop-color="#cf00ff"/><stop offset="0.87" stop-color="#ff00fc"/><stop offset="1" stop-color="#ff00e5"/></linearGradient><linearGradient id="r87"><stop offset="0" stop-color="#0081ff"/><stop offset="0.15" stop-color="#0057ff"/><stop offset="0.2" stop-color="#0039ff"/><stop offset="0.23" stop-color="#2730ff"/><stop offset="0.31" stop-color="#561cff"/><stop offset="0.33" stop-color="#6210ff"/><stop offset="0.35" stop-color="#6700ff"/><stop offset="0.55" stop-color="#ac00ff"/><stop offset="0.92" stop-color="#ff00ff"/><stop offset="1" stop-color="#ff00f1"/></linearGradient><linearGradient id="r88"><stop offset="0" stop-color="#0077ff"/><stop offset="0.15" stop-color="#0049ff"/><stop offset="0.19" stop-color="#002dff"/><stop offset="0.22" stop-color="#2723ff"/><stop offset="0.28" stop-color="#490dff"/><stop offset="0.29" stop-color="#5000ff"/><stop offset="0.47" stop-color="#9100ff"/><stop offset="0.82" stop-color="#e100ff"/><stop offset="1" stop-color="#ff00ff"/></linearGradient><linearGradient id="r89"><stop offset="0" stop-color="#006bff"/><stop offset="0.13" stop-color="#0040ff"/><stop offset="0.18" stop-color="#001dff"/><stop offset="0.21" stop-color="#280aff"/><stop offset="0.25" stop-color="#3e00ff"/><stop offset="0.39" stop-color="#7800ff"/><stop offset="0.74" stop-color="#c600ff"/><stop offset="1" stop-color="#f100ff"/></linearGradient><linearGradient id="r90"><stop offset="0" stop-color="#005cff"/><stop offset="0.11" stop-color="#0034ff"/><stop offset="0.15" stop-color="#0017ff"/><stop offset="0.17" stop-color="#1900ff"/><stop offset="0.23" stop-color="#4000ff"/><stop offset="0.42" stop-color="#7d00ff"/><stop offset="0.83" stop-color="#ca00ff"/><stop offset="1" stop-color="#e200ff"/></linearGradient><linearGradient id="r91"><stop offset="0" stop-color="#0049ff"/><stop offset="0.09" stop-color="#0023ff"/><stop offset="0.11" stop-color="#0009ff"/><stop offset="0.13" stop-color="#2000ff"/><stop offset="0.24" stop-color="#5200ff"/><stop offset="0.56" stop-color="#9600ff"/><stop offset="1" stop-color="#d400ff"/></linearGradient><linearGradient id="r92"><stop offset="0" stop-color="#0029ff"/><stop offset="0.03" stop-color="#0019ff"/><stop offset="0.05" stop-color="#1500ff"/><stop offset="0.13" stop-color="#3d00ff"/><stop offset="0.39" stop-color="#7800ff"/><stop offset="0.97" stop-color="#c300ff"/><stop offset="1" stop-color="#c600ff"/></linearGradient><linearGradient id="r93"><stop offset="0" stop-color="#3200ff"/><stop offset="0.24" stop-color="#6400ff"/><stop offset="0.86" stop-color="#ab00ff"/><stop offset="1" stop-color="#b700ff"/></linearGradient><linearGradient id="r94"><stop offset="0" stop-color="#5400ff"/><stop offset="0.7" stop-color="#9400ff"/><stop offset="1" stop-color="#a800ff"/></linearGradient><linearGradient id="r95"><stop offset="0" stop-color="#6c00ff"/><stop offset="1" stop-color="#9800ff"/></linearGradient><linearGradient id="r96"><stop offset="0" stop-color="#6f00ff"/><stop offset="1" stop-color="#8d00ff"/></linearGradient><clipPath id="loc"><polygon points="338.19,269.74 338.18,269.74 338.18,269.75 338.18,269.75 338.17,269.75 338.17,269.75 338.16,269.76 338.16,269.76 338.15,269.76 338.14,269.76 338.14,269.77 338.13,269.77 338.12,269.77 338.11,269.77 338.11,269.77 338.1,269.78 338.09,269.78 338.08,269.78 338.07,269.78 338.06,269.78 338.05,269.78 338.04,269.78 338.03,269.78 338.02,269.78 338.01,269.78 338,269.78 337.99,269.79 337.98,269.79 337.97,269.79 337.95,269.79 337.94,269.79 337.93,269.79 337.92,269.79 337.91,269.79 337.9,269.79 337.88,269.79 337.87,269.78 337.86,269.78 337.84,269.78 337.83,269.78 337.81,269.78 337.8,269.78 337.78,269.78 337.76,269.78 337.75,269.77 337.73,269.77 337.71,269.77 337.69,269.77 337.67,269.77 337.65,269.76 337.63,269.76 337.61,269.76 337.59,269.76 337.57,269.75 337.54,269.75 337.52,269.75 337.49,269.74 337.47,269.74 337.44,269.74 337.42,269.73 337.39,269.73 337.36,269.72 337.33,269.72 337.3,269.71 337.27,269.7 337.23,269.69 337.19,269.67 337.15,269.65 337.1,269.63 337.05,269.6 337,269.58 336.94,269.55 336.89,269.51 336.83,269.48 336.77,269.44 336.71,269.41 336.65,269.37 336.58,269.34 336.51,269.3 336.45,269.26 336.38,269.22 336.3,269.17 336.22,269.12 336.14,269.07 336.05,269.01 335.96,268.96 335.87,268.89 335.78,268.83 335.68,268.77 335.58,268.7 335.47,268.63 335.36,268.56 335.25,268.49 335.14,268.41 335.02,268.34 334.9,268.26 334.77,268.18 334.63,268.09 334.49,268.01 334.35,267.92 334.19,267.82 334.04,267.72 333.87,267.62 333.71,267.52 333.53,267.41 333.36,267.3 333.17,267.18 332.99,267.06 332.8,266.94 332.6,266.81 332.4,266.68 332.19,266.55 331.97,266.4 331.74,266.25 331.5,266.1 331.25,265.94 331,265.77 330.74,265.59 330.47,265.41 330.2,265.22 329.92,265.03 329.63,264.83 329.34,264.62 329.05,264.4 328.75,264.18 328.45,263.95 328.14,263.71 327.81,263.45 327.48,263.17 327.13,262.87 326.77,262.55 326.4,262.21 326.01,261.85 325.61,261.46 325.19,261.04 324.75,260.57 324.3,260.07 323.82,259.53 323.33,258.96 322.83,258.35 322.32,257.72 321.79,257.05 321.24,256.32 320.67,255.55 320.09,254.72 319.49,253.84 318.87,252.92 318.23,251.94 317.58,250.91 316.9,249.82 316.2,248.64 315.48,247.39 314.74,246.05 313.97,244.64 313.19,243.16 312.38,241.62 311.56,240.01 310.7,238.32 309.8,236.51 308.88,234.6 307.93,232.59 306.97,230.49 306.01,228.31 305.05,226.05 304.1,223.71 303.15,221.24 302.18,218.64 301.21,215.92 300.24,213.09 299.28,210.17 298.32,207.17 297.37,204.11 296.43,200.98 295.49,197.72 294.53,194.32 293.58,190.82 292.65,187.25 291.75,183.63 290.89,179.98 290.09,176.34 289.34,172.7 288.58,168.99 287.82,165.22 287.09,161.41 286.42,157.61 285.83,153.83 285.33,150.1 284.97,146.44 284.69,142.84 284.43,139.24 284.19,135.65 283.98,132.11 283.8,128.62 283.66,125.22 283.58,121.92 283.55,118.74 283.64,115.62 283.88,112.53 284.23,109.49 284.67,106.53 285.18,103.7 285.75,101.02 286.34,98.52 286.93,96.23 287.65,93.99 288.52,91.79 289.51,89.68 290.6,87.71 291.75,85.91 292.95,84.34 294.16,83.06 295.38,82.05 296.69,81.1 298.07,80.2 299.52,79.37 301.02,78.65 302.56,78.07 304.11,77.66 305.67,77.47 307.22,77.48 308.82,77.58 310.44,77.74 312.1,77.97 313.76,78.23 315.44,78.53 317.11,78.86 318.78,79.19 320.44,79.56 322.11,80.05 323.8,80.62 325.48,81.25 327.16,81.93 328.83,82.62 330.48,83.32 332.11,83.99 333.72,84.66 335.32,85.36 336.9,86.06 338.47,86.79 340.03,87.53 341.59,88.27 343.14,89.03 344.68,89.8 346.21,90.57 347.73,91.36 349.24,92.16 350.75,92.98 352.25,93.8 353.75,94.64 355.25,95.48 356.75,96.33 358.25,97.19 359.74,98.07 361.24,98.96 362.73,99.85 364.21,100.76 365.7,101.67 367.18,102.59 368.66,103.51 370.14,104.45 371.62,105.39 373.09,106.34 374.56,107.29 376.03,108.26 377.5,109.22 378.98,110.2 380.45,111.17 381.92,112.15 383.39,113.14 384.85,114.13 386.32,115.13 387.79,116.13 389.26,117.14 390.73,118.15 392.21,119.16 393.68,120.17 395.16,121.2 396.63,122.22 398.11,123.25 399.58,124.28 401.05,125.31 402.52,126.34 403.99,127.37 405.46,128.41 406.93,129.45 408.39,130.49 409.86,131.53 411.32,132.57 412.78,133.61 414.25,134.65 415.71,135.69 417.17,136.73 418.63,137.77 420.09,138.81 421.55,139.85 423,140.88 424.45,141.92 425.89,142.95 427.33,143.98 428.77,145.02 430.2,146.05 431.63,147.07 433.06,148.1 434.47,149.12 435.88,150.13 437.29,151.15 438.69,152.16 440.09,153.16 441.48,154.17 442.87,155.17 444.25,156.16 445.62,157.15 446.98,158.13 448.34,159.11 449.69,160.08 451.03,161.05 452.37,162.01 453.69,162.97 455.01,163.91 456.31,164.85 457.6,165.78 458.89,166.71 460.17,167.62 461.44,168.53 462.69,169.43 463.94,170.33 465.17,171.21 466.38,172.08 467.57,172.94 468.76,173.8 469.93,174.65 471.09,175.49 472.24,176.31 473.36,177.13 474.47,177.93 475.55,178.71 476.61,179.47 477.64,180.22 478.66,180.95 479.67,181.67 480.65,182.38 481.62,183.08 482.57,183.76 483.51,184.44 484.43,185.1 485.35,185.76 486.25,186.41 487.14,187.05 488.01,187.68 488.86,188.29 489.68,188.88 490.48,189.45 491.27,190.02 492.04,190.57 492.8,191.11 493.54,191.64 494.26,192.15 494.95,192.64 495.61,193.11 496.24,193.57 496.85,194.01 497.45,194.44 498.05,194.87 498.63,195.29 499.2,195.71 499.77,196.11 500.31,196.51 500.85,196.9 501.37,197.27 501.87,197.64 502.36,198 502.84,198.34 503.3,198.67 503.74,198.99 504.17,199.3 504.58,199.59 504.98,199.88 505.37,200.16 505.74,200.43 506.11,200.7 506.47,200.95 506.82,201.21 507.16,201.45 507.49,201.69 507.81,201.92 508.13,202.14 508.43,202.36 508.73,202.58 509.02,202.79 509.3,202.99 509.58,203.19 509.85,203.38 510.11,203.57 510.37,203.76 510.63,203.94 510.87,204.12 511.12,204.3 511.36,204.47 511.59,204.64 511.81,204.8 512.03,204.96 512.24,205.11 512.45,205.26 512.65,205.41 512.84,205.54 513.02,205.68 513.2,205.8 513.37,205.93 513.54,206.05 513.71,206.16 513.87,206.28 514.03,206.39 514.18,206.5 514.33,206.61 514.47,206.71 514.61,206.81 514.75,206.9 514.88,207 515,207.09 515.12,207.17 515.23,207.25 515.34,207.33 515.45,207.4 515.55,207.48 515.65,207.55 515.75,207.62 515.84,207.69 515.93,207.75 516.02,207.82 516.11,207.88 516.19,207.94 516.27,208 516.34,208.05 516.41,208.1 516.48,208.15 516.54,208.19 516.6,208.24 516.65,208.27 516.7,208.31 516.75,208.35 516.8,208.38 516.84,208.42 516.89,208.45 516.94,208.48 516.98,208.51 517.02,208.54 517.06,208.57 517.1,208.6 517.14,208.63 517.18,208.66 517.22,208.69 517.26,208.71 517.29,208.74 517.33,208.76 517.36,208.79 517.39,208.81 517.42,208.83 517.46,208.86 517.48,208.88 517.51,208.9 517.54,208.92 517.57,208.94 517.59,208.96 517.62,208.97 517.64,208.99 517.66,209.01 517.68,209.02 517.71,209.04 517.73,209.05 517.74,209.07 517.76,209.08 517.78,209.09 517.8,209.11 517.82,209.12 517.84,209.13 517.86,209.15 517.87,209.16 517.89,209.17 517.91,209.18 517.93,209.2 517.94,209.21 517.96,209.22 517.97,209.23 517.99,209.24 518,209.25 518.02,209.26 518.03,209.27 518.04,209.28 518.06,209.29 518.07,209.3 518.08,209.31 518.09,209.31 518.1,209.32 518.11,209.33 518.11,209.33 518.12,209.34 518.13,209.34 518.13,209.35 518.14,209.35 518.14,209.35"/></clipPath></defs>
<g clip-path="url(#loc)"><rect x="301.32" y="77" width="12.49" height="2.6" fill="url(#r0)"/><rect x="296.91" y="79" width="26.54" height="2.6" fill="url(#r1)"/><rect x="293.95" y="81" width="34.88" height="2.6" fill="url(#r2)"/><rect x="291.77" y="83" width="41.85" height="2.6" fill="url(#r3)"/><rect x="290.19" y="85" width="48.06" height="2.6" fill="url(#r4)"/><rect x="288.94" y="87" width="53.58" height="2.6" fill="url(#r5)"/><rect x="287.86" y="89" width="58.72" height="2.6" fill="url(#r6)"/><rect x="286.94" y="91" width="63.49" height="2.6" fill="url(#r7)"/><rect x="286.15" y="93" width="67.96" height="2.6" fill="url(#r8)"/><rect x="285.51" y="95" width="72.16" height="2.6" fill="url(#r9)"/><rect x="284.97" y="97" width="76.15" height="2.6" fill="url(#r10)"/><rect x="284.49" y="99" width="79.98" height="2.6" fill="url(#r11)"/><rect x="284.04" y="101" width="83.69" height="2.6" fill="url(#r12)"/><rect x="283.63" y="103" width="87.3" height="2.6" fill="url(#r13)"/><rect x="283.27" y="105" width="90.8" height="2.6" fill="url(#r14)"/><rect x="282.95" y="107" width="94.19" height="2.6" fill="url(#r15)"/><rect x="282.67" y="109" width="97.51" height="2.6" fill="url(#r16)"/><rect x="282.44" y="111" width="100.75" height="2.6" fill="url(#r17)"/><rect x="282.27" y="113" width="103.89" height="2.6" fill="url(#r18)"/><rect x="282.13" y="115" width="106.97" height="2.6" fill="url(#r19)"/><rect x="282.07" y="117" width="109.95" height="2.6" fill="url(#r20)"/><rect x="282.06" y="119" width="112.87" height="2.6" fill="url(#r21)"/><rect x="282.08" y="121" width="115.73" height="2.6" fill="url(#r22)"/><rect x="282.13" y="123" width="118.55" height="2.6" fill="url(#r23)"/><rect x="282.19" y="125" width="121.35" height="2.6" fill="url(#r24)"/><rect x="282.27" y="127" width="124.11" height="2.6" fill="url(#r25)"/><rect x="282.37" y="129" width="126.84" height="2.6" fill="url(#r26)"/><rect x="282.47" y="131" width="129.55" height="2.6" fill="url(#r27)"/><rect x="282.59" y="133" width="132.24" height="2.6" fill="url(#r28)"/><rect x="282.71" y="135" width="134.93" height="2.6" fill="url(#r29)"/><rect x="282.85" y="137" width="137.61" height="2.6" fill="url(#r30)"/><rect x="282.99" y="139" width="140.28" height="2.6" fill="url(#r31)"/><rect x="283.13" y="141" width="142.93" height="2.6" fill="url(#r32)"/><rect x="283.28" y="143" width="145.57" height="2.6" fill="url(#r33)"/><rect x="283.43" y="145" width="148.2" height="2.6" fill="url(#r34)"/><rect x="283.62" y="147" width="150.8" height="2.6" fill="url(#r35)"/><rect x="283.82" y="149" width="153.37" height="2.6" fill="url(#r36)"/><rect x="284.08" y="151" width="155.89" height="2.6" fill="url(#r37)"/><rect x="284.35" y="153" width="158.4" height="2.6" fill="url(#r38)"/><rect x="284.67" y="155" width="160.86" height="2.6" fill="url(#r39)"/><rect x="284.99" y="157" width="163.31" height="2.6" fill="url(#r40)"/><rect x="285.34" y="159" width="165.73" height="2.6" fill="url(#r41)"/><rect x="285.7" y="161" width="168.15" height="2.6" fill="url(#r42)"/><rect x="286.09" y="163" width="170.54" height="2.6" fill="url(#r43)"/><rect x="286.48" y="165" width="172.93" height="2.6" fill="url(#r44)"/><rect x="286.88" y="167" width="175.31" height="2.6" fill="url(#r45)"/><rect x="287.28" y="169" width="177.7" height="2.6" fill="url(#r46)"/><rect x="287.69" y="171" width="180.07" height="2.6" fill="url(#r47)"/><rect x="288.11" y="173" width="182.43" height="2.6" fill="url(#r48)"/><rect x="288.52" y="175" width="184.78" height="2.6" fill="url(#r49)"/><rect x="288.95" y="177" width="187.11" height="2.6" fill="url(#r50)"/><rect x="289.39" y="179" width="189.45" height="2.6" fill="url(#r51)"/><rect x="289.86" y="181" width="191.76" height="2.6" fill="url(#r52)"/><rect x="290.34" y="183" width="194.06" height="2.6" fill="url(#r53)"/><rect x="290.84" y="185" width="196.34" height="2.6" fill="url(#r54)"/><rect x="291.34" y="187" width="198.61" height="2.6" fill="url(#r55)"/><rect x="291.86" y="189" width="200.88" height="2.6" fill="url(#r56)"/><rect x="292.4" y="191" width="203.15" height="2.6" fill="url(#r57)"/><rect x="292.94" y="193" width="205.4" height="2.6" fill="url(#r58)"/><rect x="293.5" y="195" width="207.61" height="2.6" fill="url(#r59)"/><rect x="294.07" y="197" width="209.8" height="2.6" fill="url(#r60)"/><rect x="294.65" y="199" width="211.99" height="2.6" fill="url(#r61)"/><rect x="295.24" y="201" width="214.19" height="2.6" fill="url(#r62)"/><rect x="295.84" y="203" width="216.37" height="2.6" fill="url(#r63)"/><rect x="296.45" y="205" width="218.52" height="2.6" fill="url(#r64)"/><rect x="297.08" y="207" width="220.69" height="2.6" fill="url(#r65)"/><rect x="297.72" y="209" width="219.98" height="2.6" fill="url(#r66)"/><rect x="298.38" y="211" width="213.36" height="2.6" fill="url(#r67)"/><rect x="299.05" y="213" width="206.73" height="2.6" fill="url(#r68)"/><rect x="299.74" y="215" width="200.08" height="2.6" fill="url(#r69)"/><rect x="300.45" y="217" width="193.41" height="2.6" fill="url(#r70)"/><rect x="301.19" y="219" width="186.72" height="2.6" fill="url(#r71)"/><rect x="301.94" y="221" width="180.01" height="2.6" fill="url(#r72)"/><rect x="302.72" y="223" width="173.26" height="2.6" fill="url(#r73)"/><rect x="303.53" y="225" width="166.49" height="2.6" fill="url(#r74)"/><rect x="304.38" y="227" width="159.69" height="2.6" fill="url(#r75)"/><rect x="305.26" y="229" width="152.85" height="2.6" fill="url(#r76)"/><rect x="306.16" y="231" width="145.98" height="2.6" fill="url(#r77)"/><rect x="307.1" y="233" width="139.09" height="2.6" fill="url(#r78)"/><rect x="308.06" y="235" width="132.17" height="2.6" fill="url(#r79)"/><rect x="309.04" y="237" width="125.23" height="2.6" fill="url(#r80)"/><rect x="310.05" y="239" width="118.26" height="2.6" fill="url(#r81)"/><rect x="311.08" y="241" width="111.27" height="2.6" fill="url(#r82)"/><rect x="312.13" y="243" width="104.26" height="2.6" fill="url(#r83)"/><rect x="313.21" y="245" width="97.22" height="2.6" fill="url(#r84)"/><rect x="314.33" y="247" width="90.14" height="2.6" fill="url(#r85)"/><rect x="315.51" y="249" width="83" height="2.6" fill="url(#r86)"/><rect x="316.77" y="251" width="75.78" height="2.6" fill="url(#r87)"/><rect x="318.09" y="253" width="68.49" height="2.6" fill="url(#r88)"/><rect x="319.5" y="255" width="61.13" height="2.6" fill="url(#r89)"/><rect x="321.05" y="257" width="53.62" height="2.6" fill="url(#r90)"/><rect x="322.74" y="259" width="45.97" height="2.6" fill="url(#r91)"/><rect x="324.67" y="261" width="38.08" height="2.6" fill="url(#r92)"/><rect x="327.01" y="263" width="29.78" height="2.6" fill="url(#r93)"/><rect x="329.85" y="265" width="20.98" height="2.6" fill="url(#r94)"/><rect x="332.98" y="267" width="11.89" height="2.6" fill="url(#r95)"/><rect x="332.49" y="269" width="7.69" height="2.6" fill="url(#r96)"/></g>
<polygon points="338.19,269.74 338.18,269.74 338.18,269.75 338.18,269.75 338.17,269.75 338.17,269.75 338.16,269.76 338.16,269.76 338.15,269.76 338.14,269.76 338.14,269.77 338.13,269.77 338.12,269.77 338.11,269.77 338.11,269.77 338.1,269.78 338.09,269.78 338.08,269.78 338.07,269.78 338.06,269.78 338.05,269.78 338.04,269.78 338.03,269.78 338.02,269.78 338.01,269.78 338,269.78 337.99,269.79 337.98,269.79 337.97,269.79 337.95,269.79 337.94,269.79 337.93,269.79 337.92,269.79 337.91,269.79 337.9,269.79 337.88,269.79 337.87,269.78 337.86,269.78 337.84,269.78 337.83,269.78 337.81,269.78 337.8,269.78 337.78,269.78 337.76,269.78 337.75,269.77 337.73,269.77 337.71,269.77 337.69,269.77 337.67,269.77 337.65,269.76 337.63,269.76 337.61,269.76 337.59,269.76 337.57,269.75 337.54,269.75 337.52,269.75 337.49,269.74 337.47,269.74 337.44,269.74 337.42,269.73 337.39,269.73 337.36,269.72 337.33,269.72 337.3,269.71 337.27,269.7 337.23,269.69 337.19,269.67 337.15,269.65 337.1,269.63 337.05,269.6 337,269.58 336.94,269.55 336.89,269.51 336.83,269.48 336.77,269.44 336.71,269.41 336.65,269.37 336.58,269.34 336.51,269.3 336.45,269.26 336.38,269.22 336.3,269.17 336.22,269.12 336.14,269.07 336.05,269.01 335.96,268.96 335.87,268.89 335.78,268.83 335.68,268.77 335.58,268.7 335.47,268.63 335.36,268.56 335.25,268.49 335.14,268.41 335.02,268.34 334.9,268.26 334.77,268.18 334.63,268.09 334.49,268.01 334.35,267.92 334.19,267.82 334.04,267.72 333.87,267.62 333.71,267.52 333.53,267.41 333.36,267.3 333.17,267.18 332.99,267.06 332.8,266.94 332.6,266.81 332.4,266.68 332.19,266.55 331.97,266.4 331.74,266.25 331.5,266.1 331.25,265.94 331,265.77 330.74,265.59 330.47,265.41 330.2,265.22 329.92,265.03 329.63,264.83 329.34,264.62 329.05,264.4 328.75,264.18 328.45,263.95 328.14,263.71 327.81,263.45 327.48,263.17 327.13,262.87 326.77,262.55 326.4,262.21 326.01,261.85 325.61,261.46 325.19,261.04 324.75,260.57 324.3,260.07 323.82,259.53 323.33,258.96 322.83,258.35 322.32,257.72 321.79,257.05 321.24,256.32 320.67,255.55 320.09,254.72 319.49,253.84 318.87,252.92 318.23,251.94 317.58,250.91 316.9,249.82 316.2,248.64 315.48,247.39 314.74,246.05 313.97,244.64 313.19,243.16 312.38,241.62 311.56,240.01 310.7,238.32 309.8,236.51 308.88,234.6 307.93,232.59 306.97,230.49 306.01,228.31 305.05,226.05 304.1,223.71 303.15,221.24 302.18,218.64 301.21,215.92 300.24,213.09 299.28,210.17 298.32,207.17 297.37,204.11 296.43,200.98 295.49,197.72 294.53,194.32 293.58,190.82 292.65,187.25 291.75,183.63 290.89,179.98 290.09,176.34 289.34,172.7 288.58,168.99 287.82,165.22 287.09,161.41 286.42,157.61 285.83,153.83 285.33,150.1 284.97,146.44 284.69,142.84 284.43,139.24 284.19,135.65 283.98,132.11 283.8,128.62 283.66,125.22 283.58,121.92 283.55,118.74 283.64,115.62 283.88,112.53 284.23,109.49 284.67,106.53 285.18,103.7 285.75,101.02 286.34,98.52 286.93,96.23 287.65,93.99 288.52,91.79 289.51,89.68 290.6,87.71 291.75,85.91 292.95,84.34 294.16,83.06 295.38,82.05 296.69,81.1 298.07,80.2 299.52,79.37 301.02,78.65 302.56,78.07 304.11,77.66 305.67,77.47 307.22,77.48 308.82,77.58 310.44,77.74 312.1,77.97 313.76,78.23 315.44,78.53 317.11,78.86 318.78,79.19 320.44,79.56 322.11,80.05 323.8,80.62 325.48,81.25 327.16,81.93 328.83,82.62 330.48,83.32 332.11,83.99 333.72,84.66 335.32,85.36 336.9,86.06 338.47,86.79 340.03,87.53 341.59,88.27 343.14,89.03 344.68,89.8 346.21,90.57 347.73,91.36 349.24,92.16 350.75,92.98 352.25,93.8 353.75,94.64 355.25,95.48 356.75,96.33 358.25,97.19 359.74,98.07 361.24,98.96 362.73,99.85 364.21,100.76 365.7,101.67 367.18,102.59 368.66,103.51 370.14,104.45 371.62,105.39 373.09,106.34 374.56,107.29 376.03,108.26 377.5,109.22 378.98,110.2 380.45,111.17 381.92,112.15 383.39,113.14 384.85,114.13 386.32,115.13 387.79,116.13 389.26,117.14 390.73,118.15 392.21,119.16 393.68,120.17 395.16,121.2 396.63,122.22 398.11,123.25 399.58,124.28 401.05,125.31 402.52,126.34 403.99,127.37 405.46,128.41 406.93,129.45 408.39,130.49 409.86,131.53 411.32,132.57 412.78,133.61 414.25,134.65 415.71,135.69 417.17,136.73 418.63,137.77 420.09,138.81 421.55,139.85 423,140.88 424.45,141.92 425.89,142.95 427.33,143.98 428.77,145.02 430.2,146.05 431.63,147.07 433.06,148.1 434.47,149.12 435.88,150.13 437.29,151.15 438.69,152.16 440.09,153.16 441.48,154.17 442.87,155.17 444.25,156.16 445.62,157.15 446.98,158.13 448.34,159.11 449.69,160.08 451.03,161.05 452.37,162.01 453.69,162.97 455.01,163.91 456.31,164.85 457.6,165.78 458.89,166.71 460.17,167.62 461.44,168.53 462.69,169.43 463.94,170.33 465.17,171.21 466.38,172.08 467.57,172.94 468.76,173.8 469.93,174.65 471.09,175.49 472.24,176.31 473.36,177.13 474.47,177.93 475.55,178.71 476.61,179.47 477.64,180.22 478.66,180.95 479.67,181.67 480.65,182.38 481.62,183.08 482.57,183.76 483.51,184.44 484.43,185.1 485.35,185.76 486.25,186.41 487.14,187.05 488.01,187.68 488.86,188.29 489.68,188.88 490.48,189.45 491.27,190.02 492.04,190.57 492.8,191.11 493.54,191.64 494.26,192.15 494.95,192.64 495.61,193.11 496.24,193.57 496.85,194.01 497.45,194.44 498.05,194.87 498.63,195.29 499.2,195.71 499.77,196.11 500.31,196.51 500.85,196.9 501.37,197.27 501.87,197.64 502.36,198 502.84,198.34 503.3,198.67 503.74,198.99 504.17,199.3 504.58,199.59 504.98,199.88 505.37,200.16 505.74,200.43 506.11,200.7 506.47,200.95 506.82,201.21 507.16,201.45 507.49,201.69 507.81,201.92 508.13,202.14 508.43,202.36 508.73,202.58 509.02,202.79 509.3,202.99 509.58,203.19 509.85,203.38 510.11,203.57 510.37,203.76 510.63,203.94 510.87,204.12 511.12,204.3 511.36,204.47 511.59,204.64 511.81,204.8 512.03,204.96 512.24,205.11 512.45,205.26 512.65,205.41 512.84,205.54 513.02,205.68 513.2,205.8 513.37,205.93 513.54,206.05 513.71,206.16 513.87,206.28 514.03,206.39 514.18,206.5 514.33,206.61 514.47,206.71 514.61,206.81 514.75,206.9 514.88,207 515,207.09 515.12,207.17 515.23,207.25 515.34,207.33 515.45,207.4 515.55,207.48 515.65,207.55 515.75,207.62 515.84,207.69 515.93,207.75 516.02,207.82 516.11,207.88 516.19,207.94 516.27,208 516.34,208.05 516.41,208.1 516.48,208.15 516.54,208.19 516.6,208.24 516.65,208.27 516.7,208.31 516.75,208.35 516.8,208.38 516.84,208.42 516.89,208.45 516.94,208.48 516.98,208.51 517.02,208.54 517.06,208.57 517.1,208.6 517.14,208.63 517.18,208.66 517.22,208.69 517.26,208.71 517.29,208.74 517.33,208.76 517.36,208.79 517.39,208.81 517.42,208.83 517.46,208.86 517.48,208.88 517.51,208.9 517.54,208.92 517.57,208.94 517.59,208.96 517.62,208.97 517.64,208.99 517.66,209.01 517.68,209.02 517.71,209.04 517.73,209.05 517.74,209.07 517.76,209.08 517.78,209.09 517.8,209.11 517.82,209.12 517.84,209.13 517.86,209.15 517.87,209.16 517.89,209.17 517.91,209.18 517.93,209.2 517.94,209.21 517.96,209.22 517.97,209.23 517.99,209.24 518,209.25 518.02,209.26 518.03,209.27 518.04,209.28 518.06,209.29 518.07,209.3 518.08,209.31 518.09,209.31 518.1,209.32 518.11,209.33 518.11,209.33 518.12,209.34 518.13,209.34 518.13,209.35 518.14,209.35 518.14,209.35" fill="none" stroke="#4a4aff" stroke-width="0.8"/>
<path d="M282.3 62.1 V270.9 H539.1" fill="none" stroke="#3c3c3c" stroke-width="1"/>
<path d="M282.3 270.9v3.6M298.35 270.9v1.6M314.4 270.9v3.6M330.45 270.9v1.6M346.5 270.9v3.6M362.55 270.9v1.6M378.6 270.9v3.6M394.65 270.9v1.6M410.7 270.9v3.6M426.75 270.9v1.6M442.8 270.9v3.6M458.85 270.9v1.6M474.9 270.9v3.6M490.95 270.9v1.6M507 270.9v3.6M523.05 270.9v1.6M539.1 270.9v3.6M282.3 270.9h-3.8M282.3 247.7h-2.2M282.3 224.5h-3.8M282.3 201.3h-2.2M282.3 178.1h-3.8M282.3 154.9h-2.2M282.3 131.7h-3.8M282.3 108.5h-2.2M282.3 85.3h-3.8M282.3 62.1h-2.2" stroke="#3c3c3c" stroke-width="1" fill="none"/>
<text x="282.3" y="284.1" font-size="7.6" text-anchor="middle" fill="#222">0.0</text>
<text x="314.4" y="284.1" font-size="7.6" text-anchor="middle" fill="#222">0.1</text>
<text x="346.5" y="284.1" font-size="7.6" text-anchor="middle" fill="#222">0.2</text>
<text x="378.6" y="284.1" font-size="7.6" text-anchor="middle" fill="#222">0.3</text>
<text x="410.7" y="284.1" font-size="7.6" text-anchor="middle" fill="#222">0.4</text>
<text x="442.8" y="284.1" font-size="7.6" text-anchor="middle" fill="#222">0.5</text>
<text x="474.9" y="284.1" font-size="7.6" text-anchor="middle" fill="#222">0.6</text>
<text x="507" y="284.1" font-size="7.6" text-anchor="middle" fill="#222">0.7</text>
<text x="539.1" y="284.1" font-size="7.6" text-anchor="middle" fill="#222">0.8</text>
<text x="275.3" y="273.1" font-size="7.6" text-anchor="end" fill="#222">0.0</text>
<text x="275.3" y="226.7" font-size="7.6" text-anchor="end" fill="#222">0.2</text>
<text x="275.3" y="180.3" font-size="7.6" text-anchor="end" fill="#222">0.4</text>
<text x="275.3" y="133.9" font-size="7.6" text-anchor="end" fill="#222">0.6</text>
<text x="275.3" y="87.5" font-size="7.6" text-anchor="end" fill="#222">0.8</text>
<text x="410.2" y="298" font-size="9" text-anchor="middle" fill="#222">x</text>
<text transform="translate(259.8 165.8) rotate(-90)" font-size="9" text-anchor="middle" fill="#222">y</text>
<text x="231" y="51.6" font-size="10.2" font-weight="bold" font-style="italic" fill="#111">CIE 1931</text>
<text x="410.2" y="21.6" font-size="10" fill="#222">(c)</text>
<text x="302.6" y="69.2" font-size="7.6" text-anchor="middle" fill="#2a2aff" stroke="#2a2aff" stroke-width="0.15">520</text>
<path d="M306.15 77.46L304.6 73.6" stroke="#777" stroke-width="0.7"/>
<text x="364.6" y="89.6" font-size="7.6" text-anchor="middle" fill="#2a2aff" stroke="#2a2aff" stroke-width="0.15">540</text>
<path d="M356 95.9L361.5 91.5" stroke="#777" stroke-width="0.7"/>
<text x="412.4" y="120" font-size="7.6" text-anchor="middle" fill="#2a2aff" stroke="#2a2aff" stroke-width="0.15">560</text>
<path d="M402.07 126.02L407.6 121.8" stroke="#777" stroke-width="0.7"/>
<text x="457.1" y="152.8" font-size="7.6" text-anchor="middle" fill="#2a2aff" stroke="#2a2aff" stroke-width="0.15">580</text>
<path d="M446.81 158.01L451 153.6" stroke="#777" stroke-width="0.7"/>
<text x="493.5" y="179.6" font-size="7.6" text-anchor="middle" fill="#2a2aff" stroke="#2a2aff" stroke-width="0.15">600</text>
<path d="M483.57 184.48L488 181" stroke="#777" stroke-width="0.7"/>
<text x="514.3" y="194" font-size="7.6" text-anchor="middle" fill="#2a2aff" stroke="#2a2aff" stroke-width="0.15">620</text>
<path d="M504.27 199.37L508.6 196" stroke="#777" stroke-width="0.7"/>
<text x="269.8" y="149.7" font-size="7.6" text-anchor="middle" fill="#2a2aff" stroke="#2a2aff" stroke-width="0.15">500</text>
<path d="M284.93 145.99L278.5 146.2" stroke="#777" stroke-width="0.7"/>
<text x="297.2" y="246" font-size="7.6" text-anchor="middle" fill="#2a2aff" stroke="#2a2aff" stroke-width="0.15">480</text>
<path d="M311.61 240.11L305 242.2" stroke="#777" stroke-width="0.7"/>
<text x="317.4" y="268.6" font-size="7.6" text-anchor="middle" fill="#2a2aff" stroke="#2a2aff" stroke-width="0.15">460</text>
<path d="M328.52 264.01L323.8 265.6" stroke="#777" stroke-width="0.7"/>
<polyline points="390.9,179.7 357.1,187.7 334.7,231.3" fill="none" stroke="#4a4a4a" stroke-width="0.8" stroke-dasharray="1.6 1.7" opacity="0.75"/>
<polyline points="413.7,178.5 357.8,237.8 372.9,240.8" fill="none" stroke="#fbf4fd" stroke-width="2.2" stroke-dasharray="6 4.4" stroke-dashoffset="3.3" opacity="0.72"/>
<polyline points="413.7,178.5 423.4,198.9 384.3,235.1" fill="none" stroke="#382c38" stroke-width="2.4" stroke-dasharray="6 4.4" stroke-dashoffset="3.6" opacity="0.9"/>
<circle cx="390.9" cy="179.7" r="2.8" fill="#fff" fill-opacity="0.4" stroke="#111" stroke-width="1.2"/><circle cx="390.9" cy="179.7" r="0.7" fill="#111"/>
<circle cx="357.1" cy="187.7" r="2.8" fill="#fff" fill-opacity="0.4" stroke="#111" stroke-width="1.2"/><circle cx="357.1" cy="187.7" r="0.7" fill="#111"/>
<circle cx="334.7" cy="231.3" r="2.8" fill="#fff" fill-opacity="0.4" stroke="#111" stroke-width="1.2"/><circle cx="334.7" cy="231.3" r="0.7" fill="#111"/>
<circle cx="392.9" cy="182.7" r="2.8" fill="#fff" fill-opacity="0.4" stroke="#111" stroke-width="1.2"/><circle cx="392.9" cy="182.7" r="0.7" fill="#111"/>
<circle cx="392.9" cy="188.9" r="2.8" fill="#fff" fill-opacity="0.4" stroke="#111" stroke-width="1.2"/><circle cx="392.9" cy="188.9" r="0.7" fill="#111"/>
<circle cx="358.8" cy="201.7" r="2.8" fill="#fff" fill-opacity="0.4" stroke="#111" stroke-width="1.2"/><circle cx="358.8" cy="201.7" r="0.7" fill="#111"/>
<circle cx="413.7" cy="178.5" r="2.8" fill="#fff" fill-opacity="0.4" stroke="#111" stroke-width="1.2"/><circle cx="413.7" cy="178.5" r="0.7" fill="#111"/>
<circle cx="423.4" cy="198.9" r="2.8" fill="#fff" fill-opacity="0.4" stroke="#111" stroke-width="1.2"/><circle cx="423.4" cy="198.9" r="0.7" fill="#111"/>
<circle cx="384.3" cy="235.1" r="2.8" fill="#fff" fill-opacity="0.4" stroke="#111" stroke-width="1.2"/><circle cx="384.3" cy="235.1" r="0.7" fill="#111"/>
<circle cx="406.9" cy="175" r="2.8" fill="#fff" fill-opacity="0.4" stroke="#111" stroke-width="1.2"/><circle cx="406.9" cy="175" r="0.7" fill="#111"/>
<circle cx="357.8" cy="237.8" r="2.8" fill="#fff" fill-opacity="0.4" stroke="#111" stroke-width="1.2"/><circle cx="357.8" cy="237.8" r="0.7" fill="#111"/>
<circle cx="372.9" cy="240.8" r="2.8" fill="#fff" fill-opacity="0.4" stroke="#111" stroke-width="1.2"/><circle cx="372.9" cy="240.8" r="0.7" fill="#111"/>
<text x="343" y="184" font-size="9.2" fill="#111">40<tspan dx="0.6" dy="-6.2" font-size="5.4">o</tspan></text>
<text x="378" y="176" font-size="9.2" fill="#111">20<tspan dx="0.6" dy="-6.2" font-size="5.4">o</tspan></text>
<text x="405.5" y="165.2" font-size="9.2" fill="#111">60<tspan dx="0.6" dy="-6.2" font-size="5.4">o</tspan></text>
<text x="425" y="208.8" font-size="9.2" fill="#2a0a1a">40<tspan dx="0.6" dy="-6.2" font-size="5.4">o</tspan></text>
<text x="390.3" y="244.7" font-size="9.2" fill="#2a0a1a">20<tspan dx="0.6" dy="-6.2" font-size="5.4">o</tspan></text>
<text x="313.6" y="232.3" font-size="9.2" fill="#111">60<tspan dx="0.6" dy="-6.2" font-size="5.4">o</tspan></text>
<text x="415" y="175.2" font-size="9.2" fill="#fff4ee">60<tspan dx="0.6" dy="-6.2" font-size="5.4">o</tspan></text>
<text x="341.2" y="252.3" font-size="9.2" fill="#ffffff">40<tspan dx="0.6" dy="-6.2" font-size="5.4">o</tspan></text>
<text x="373" y="254.6" font-size="9.2" fill="#ffffff">20<tspan dx="0.6" dy="-6.2" font-size="5.4">o</tspan></text>
<text x="396" y="187.6" font-size="9.2" fill="#2aa5e6" stroke="#2aa5e6" stroke-width="0.3">20<tspan dx="0.6" dy="-6.2" font-size="5.4">o</tspan></text>
<text x="387" y="198.5" font-size="9.2" fill="#2aa5e6" stroke="#2aa5e6" stroke-width="0.3">40<tspan dx="0.6" dy="-6.2" font-size="5.4">o</tspan></text>
<text x="352.5" y="212.9" font-size="9.2" fill="#4fb6ec" stroke="#4fb6ec" stroke-width="0.3">60<tspan dx="0.6" dy="-6.2" font-size="5.4">o</tspan></text>
<text x="362" y="198" font-size="8.6" font-weight="bold" fill="#3a93d6">T (TE)</text>
<text x="318.5" y="206.8" font-size="8.6" font-weight="bold" fill="#111">T (TM)</text>
<text x="365.4" y="226.5" font-size="8.6" font-weight="bold" fill="#fff">R (TE)</text>
<text x="408.1" y="224.7" font-size="8.6" font-weight="bold" fill="#111">R (TM)</text>
<clipPath id="bclip"><rect x="39.7" y="161.6" width="183.6" height="104.7"/></clipPath>
<g clip-path="url(#bclip)"><path d="M39.7 225.04L40.11 223.91L40.52 222.79L40.92 221.7L41.33 220.63L41.74 219.58L42.15 218.5L42.56 217.39L42.96 216.32L43.37 215.38L43.78 214.67L44.19 214.09L44.6 213.53L45 212.99L45.41 212.49L45.82 212.03L46.23 211.64L46.64 211.31L47.04 211.06L47.45 210.9L47.86 210.85L48.27 210.85L48.68 210.86L49.08 210.87L49.49 210.88L49.9 210.9L50.31 210.92L50.72 210.94L51.12 210.96L51.53 210.99L51.94 211.01L52.35 211.04L52.76 211.06L53.16 211.08L53.57 211.1L53.98 211.12L54.39 211.13L54.8 211.15L55.2 211.16L55.61 211.17L56.02 211.18L56.43 211.19L56.84 211.19L57.24 211.2L57.65 211.21L58.06 211.22L58.47 211.23L58.88 211.24L59.28 211.25L59.69 211.26L60.1 211.28L60.51 211.29L60.92 211.31L61.32 211.34L61.73 211.36L62.14 211.39L62.55 211.51L62.96 211.79L63.36 212.17L63.77 212.64L64.18 213.14L64.59 213.65L65 214.12L65.4 214.57L65.81 215.04L66.22 215.53L66.63 216.04L67.04 216.57L67.44 217.12L67.85 217.71L68.26 218.32L68.67 218.96L69.08 219.61L69.48 220.29L69.89 220.96L70.3 221.64L70.71 222.31L71.12 223L71.52 223.71L71.93 224.43L72.34 225.15L72.75 225.86L73.16 226.55L73.56 227.19L73.97 227.77L74.38 228.31L74.79 228.83L75.2 229.33L75.6 229.8L76.01 230.24L76.42 230.66L76.83 231.05L77.24 231.44L77.64 231.83L78.05 232.2L78.46 232.53L78.87 232.79L79.28 232.96L79.68 233.07L80.09 233.17L80.5 233.27L80.91 233.35L81.32 233.41L81.72 233.46L82.13 233.49L82.54 233.5L82.95 233.48L83.36 233.42L83.76 233.33L84.17 233.21L84.58 233.08L84.99 232.95L85.4 232.81L85.8 232.69L86.21 232.57L86.62 232.47L87.03 232.36L87.44 232.24L87.84 232.12L88.25 231.97L88.66 231.8L89.07 231.59L89.48 231.28L89.88 230.82L90.29 230.25L90.7 229.61L91.11 228.96L91.52 228.33L91.92 227.77L92.33 227.26L92.74 226.76L93.15 226.27L93.56 225.78L93.96 225.3L94.37 224.84L94.78 224.39L95.19 223.95L95.6 223.54L96 223.16L96.41 222.8L96.82 222.44L97.23 222.07L97.64 221.66L98.04 221.22L98.45 220.7L98.86 220.09L99.27 219.42L99.68 218.72L100.08 218.01L100.49 217.34L100.9 216.72L101.31 216.18L101.72 215.76L102.12 215.42L102.53 215.1L102.94 214.8L103.35 214.52L103.76 214.27L104.16 214.03L104.57 213.81L104.98 213.6L105.39 213.4L105.8 213.21L106.2 213.03L106.61 212.85L107.02 212.66L107.43 212.48L107.84 212.29L108.24 212.11L108.65 211.95L109.06 211.79L109.47 211.66L109.88 211.55L110.28 211.46L110.69 211.41L111.1 211.39L111.51 211.39L111.92 211.39L112.32 211.39L112.73 211.4L113.14 211.4L113.55 211.4L113.96 211.41L114.36 211.41L114.77 211.41L115.18 211.42L115.59 211.42L116 211.43L116.4 211.44L116.81 211.44L117.22 211.45L117.63 211.46L118.04 211.47L118.44 211.47L118.85 211.48L119.26 211.49L119.67 211.5L120.08 211.51L120.48 211.52L120.89 211.53L121.3 211.54L121.71 211.55L122.12 211.56L122.52 211.58L122.93 211.59L123.34 211.6L123.75 211.61L124.16 211.63L124.56 211.64L124.97 211.65L125.38 211.66L125.79 211.68L126.2 211.69L126.6 211.71L127.01 211.73L127.42 211.75L127.83 211.77L128.24 211.8L128.64 211.82L129.05 211.85L129.46 211.88L129.87 211.91L130.28 211.95L130.68 211.98L131.09 212.02L131.5 212.06L131.91 212.11L132.32 212.15L132.72 212.2L133.13 212.25L133.54 212.31L133.95 212.36L134.36 212.42L134.76 212.48L135.17 212.56L135.58 212.67L135.99 212.8L136.4 212.96L136.8 213.14L137.21 213.34L137.62 213.55L138.03 213.78L138.44 214.01L138.84 214.26L139.25 214.51L139.66 214.76L140.07 215.02L140.48 215.27L140.88 215.52L141.29 215.76L141.7 216L142.11 216.26L142.52 216.53L142.92 216.8L143.33 217.08L143.74 217.36L144.15 217.65L144.56 217.93L144.96 218.21L145.37 218.49L145.78 218.76L146.19 219.04L146.6 219.32L147 219.59L147.41 219.87L147.82 220.15L148.23 220.42L148.64 220.7L149.04 220.98L149.45 221.25L149.86 221.53L150.27 221.8L150.68 222.07L151.08 222.33L151.49 222.6L151.9 222.86L152.31 223.12L152.72 223.38L153.12 223.65L153.53 223.92L153.94 224.19L154.35 224.46L154.76 224.73L155.16 225L155.57 225.26L155.98 225.52L156.39 225.78L156.8 226.03L157.2 226.28L157.61 226.52L158.02 226.75L158.43 226.98L158.84 227.19L159.24 227.4L159.65 227.59L160.06 227.77L160.47 227.95L160.88 228.12L161.28 228.29L161.69 228.46L162.1 228.63L162.51 228.8L162.92 228.96L163.32 229.12L163.73 229.27L164.14 229.42L164.55 229.56L164.96 229.7L165.36 229.83L165.77 229.95L166.18 230.06L166.59 230.17L167 230.27L167.4 230.36L167.81 230.43L168.22 230.5L168.63 230.56L169.04 230.63L169.44 230.69L169.85 230.75L170.26 230.81L170.67 230.86L171.08 230.92L171.48 230.97L171.89 231.02L172.3 231.07L172.71 231.11L173.12 231.15L173.52 231.19L173.93 231.22L174.34 231.25L174.75 231.28L175.16 231.3L175.56 231.31L175.97 231.32L176.38 231.32L176.79 231.31L177.2 231.29L177.6 231.25L178.01 231.2L178.42 231.14L178.83 231.07L179.24 230.98L179.64 230.89L180.05 230.79L180.46 230.68L180.87 230.56L181.28 230.44L181.68 230.32L182.09 230.19L182.5 230.06L182.91 229.93L183.32 229.8L183.72 229.67L184.13 229.54L184.54 229.41L184.95 229.28L185.36 229.14L185.76 228.98L186.17 228.82L186.58 228.65L186.99 228.47L187.4 228.28L187.8 228.09L188.21 227.9L188.62 227.7L189.03 227.5L189.44 227.3L189.84 227.09L190.25 226.89L190.66 226.69L191.07 226.5L191.48 226.3L191.88 226.11L192.29 225.93L192.7 225.76L193.11 225.59L193.52 225.43L193.92 225.27L194.33 225.11L194.74 224.95L195.15 224.8L195.56 224.65L195.96 224.5L196.37 224.35L196.78 224.2L197.19 224.06L197.6 223.91L198 223.77L198.41 223.63L198.82 223.48L199.23 223.34L199.64 223.2L200.04 223.06L200.45 222.92L200.86 222.78L201.27 222.63L201.68 222.49L202.08 222.35L202.49 222.2L202.9 222.06L203.31 221.91L203.72 221.77L204.12 221.62L204.53 221.47L204.94 221.33L205.35 221.18L205.76 221.04L206.16 220.89L206.57 220.75L206.98 220.6L207.39 220.46L207.8 220.31L208.2 220.17L208.61 220.02L209.02 219.88L209.43 219.73L209.84 219.58L210.24 219.43L210.65 219.28L211.06 219.12L211.47 218.97L211.88 218.81L212.28 218.65L212.69 218.49L213.1 218.33L213.51 218.16L213.92 218L214.32 217.83L214.73 217.66L215.14 217.49L215.55 217.32L215.96 217.14L216.36 216.97L216.77 216.79L217.18 216.61L217.59 216.44L218 216.26L218.4 216.07L218.81 215.89L219.22 215.71L219.63 215.52L220.04 215.34L220.44 215.15L220.85 214.96L221.26 214.77L221.67 214.58L222.08 214.38L222.48 214.19L222.89 213.99L223.3 213.79" stroke="#f0282d" stroke-width="1.2" stroke-dasharray="2.9 1.7" fill="none"/><path d="M39.7 227.23L40.11 225.98L40.52 224.76L40.92 223.56L41.33 222.38L41.74 221.22L42.15 220.03L42.56 218.8L42.96 217.62L43.37 216.58L43.78 215.76L44.19 215.08L44.6 214.41L45 213.77L45.41 213.17L45.82 212.62L46.23 212.14L46.64 211.74L47.04 211.42L47.45 211.21L47.86 211.12L48.27 211.09L48.68 211.06L49.08 211.04L49.49 211.01L49.9 210.99L50.31 210.97L50.72 210.95L51.12 210.94L51.53 210.92L51.94 210.91L52.35 210.9L52.76 210.89L53.16 210.88L53.57 210.87L53.98 210.86L54.39 210.86L54.8 210.85L55.2 210.85L55.61 210.85L56.02 210.85L56.43 210.85L56.84 210.85L57.24 210.86L57.65 210.87L58.06 210.88L58.47 210.9L58.88 210.92L59.28 210.94L59.69 210.97L60.1 211L60.51 211.04L60.92 211.08L61.32 211.12L61.73 211.16L62.14 211.22L62.55 211.27L62.96 211.33L63.36 211.39L63.77 211.56L64.18 211.89L64.59 212.35L65 212.9L65.4 213.49L65.81 214.1L66.22 214.67L66.63 215.23L67.04 215.84L67.44 216.47L67.85 217.13L68.26 217.81L68.67 218.49L69.08 219.19L69.48 219.92L69.89 220.67L70.3 221.43L70.71 222.2L71.12 222.97L71.52 223.74L71.93 224.5L72.34 225.26L72.75 226.04L73.16 226.83L73.56 227.62L73.97 228.39L74.38 229.13L74.79 229.84L75.2 230.5L75.6 231.13L76.01 231.76L76.42 232.37L76.83 232.95L77.24 233.51L77.64 234.02L78.05 234.47L78.46 234.87L78.87 235.23L79.28 235.58L79.68 235.9L80.09 236.21L80.5 236.48L80.91 236.71L81.32 236.91L81.72 237.05L82.13 237.17L82.54 237.28L82.95 237.39L83.36 237.47L83.76 237.54L84.17 237.58L84.58 237.6L84.99 237.59L85.4 237.56L85.8 237.51L86.21 237.44L86.62 237.36L87.03 237.27L87.44 237.16L87.84 237.05L88.25 236.89L88.66 236.64L89.07 236.32L89.48 235.97L89.88 235.59L90.29 235.22L90.7 234.87L91.11 234.55L91.52 234.24L91.92 233.94L92.33 233.62L92.74 233.3L93.15 232.94L93.56 232.56L93.96 232.14L94.37 231.65L94.78 231.08L95.19 230.45L95.6 229.78L96 229.1L96.41 228.42L96.82 227.77L97.23 227.14L97.64 226.51L98.04 225.88L98.45 225.24L98.86 224.6L99.27 223.95L99.68 223.28L100.08 222.6L100.49 221.9L100.9 221.19L101.31 220.49L101.72 219.81L102.12 219.15L102.53 218.52L102.94 217.94L103.35 217.4L103.76 216.86L104.16 216.35L104.57 215.85L104.98 215.38L105.39 214.93L105.8 214.51L106.2 214.12L106.61 213.75L107.02 213.37L107.43 213.02L107.84 212.68L108.24 212.39L108.65 212.14L109.06 211.94L109.47 211.77L109.88 211.61L110.28 211.46L110.69 211.31L111.1 211.18L111.51 211.07L111.92 210.98L112.32 210.91L112.73 210.86L113.14 210.85L113.55 210.85L113.96 210.85L114.36 210.85L114.77 210.85L115.18 210.85L115.59 210.86L116 210.86L116.4 210.87L116.81 210.87L117.22 210.88L117.63 210.88L118.04 210.89L118.44 210.9L118.85 210.91L119.26 210.92L119.67 210.93L120.08 210.94L120.48 210.95L120.89 210.96L121.3 210.97L121.71 210.98L122.12 211L122.52 211.01L122.93 211.02L123.34 211.04L123.75 211.05L124.16 211.07L124.56 211.08L124.97 211.1L125.38 211.12L125.79 211.14L126.2 211.17L126.6 211.21L127.01 211.25L127.42 211.31L127.83 211.37L128.24 211.44L128.64 211.52L129.05 211.6L129.46 211.69L129.87 211.79L130.28 211.9L130.68 212.02L131.09 212.14L131.5 212.27L131.91 212.41L132.32 212.55L132.72 212.7L133.13 212.86L133.54 213.03L133.95 213.25L134.36 213.57L134.76 213.96L135.17 214.4L135.58 214.86L135.99 215.32L136.4 215.76L136.8 216.19L137.21 216.63L137.62 217.09L138.03 217.56L138.44 218.02L138.84 218.49L139.25 218.96L139.66 219.43L140.07 219.91L140.48 220.39L140.88 220.87L141.29 221.35L141.7 221.83L142.11 222.31L142.52 222.79L142.92 223.27L143.33 223.76L143.74 224.24L144.15 224.72L144.56 225.2L144.96 225.67L145.37 226.13L145.78 226.6L146.19 227.07L146.6 227.54L147 228.01L147.41 228.47L147.82 228.93L148.23 229.38L148.64 229.82L149.04 230.25L149.45 230.66L149.86 231.05L150.27 231.43L150.68 231.8L151.08 232.16L151.49 232.52L151.9 232.88L152.31 233.22L152.72 233.56L153.12 233.89L153.53 234.21L153.94 234.53L154.35 234.83L154.76 235.13L155.16 235.42L155.57 235.69L155.98 235.96L156.39 236.22L156.8 236.47L157.2 236.72L157.61 236.96L158.02 237.19L158.43 237.42L158.84 237.64L159.24 237.86L159.65 238.07L160.06 238.27L160.47 238.47L160.88 238.67L161.28 238.86L161.69 239.05L162.1 239.24L162.51 239.43L162.92 239.62L163.32 239.82L163.73 240.01L164.14 240.2L164.55 240.39L164.96 240.56L165.36 240.72L165.77 240.86L166.18 240.98L166.59 241.08L167 241.15L167.4 241.2L167.81 241.25L168.22 241.3L168.63 241.35L169.04 241.39L169.44 241.43L169.85 241.47L170.26 241.51L170.67 241.54L171.08 241.57L171.48 241.6L171.89 241.62L172.3 241.65L172.71 241.66L173.12 241.68L173.52 241.69L173.93 241.69L174.34 241.69L174.75 241.69L175.16 241.69L175.56 241.68L175.97 241.67L176.38 241.66L176.79 241.64L177.2 241.62L177.6 241.6L178.01 241.58L178.42 241.56L178.83 241.53L179.24 241.51L179.64 241.48L180.05 241.45L180.46 241.42L180.87 241.39L181.28 241.35L181.68 241.3L182.09 241.24L182.5 241.18L182.91 241.12L183.32 241.04L183.72 240.97L184.13 240.88L184.54 240.8L184.95 240.71L185.36 240.62L185.76 240.52L186.17 240.43L186.58 240.33L186.99 240.22L187.4 240.11L187.8 239.98L188.21 239.84L188.62 239.69L189.03 239.54L189.44 239.38L189.84 239.21L190.25 239.04L190.66 238.87L191.07 238.7L191.48 238.53L191.88 238.36L192.29 238.19L192.7 238.03L193.11 237.87L193.52 237.72L193.92 237.57L194.33 237.43L194.74 237.29L195.15 237.15L195.56 237.01L195.96 236.86L196.37 236.72L196.78 236.58L197.19 236.43L197.6 236.27L198 236.12L198.41 235.95L198.82 235.78L199.23 235.6L199.64 235.42L200.04 235.22L200.45 235.01L200.86 234.79L201.27 234.56L201.68 234.32L202.08 234.08L202.49 233.82L202.9 233.56L203.31 233.3L203.72 233.02L204.12 232.75L204.53 232.47L204.94 232.18L205.35 231.9L205.76 231.61L206.16 231.32L206.57 231.02L206.98 230.69L207.39 230.36L207.8 230.03L208.2 229.71L208.61 229.41L209.02 229.14L209.43 228.88L209.84 228.63L210.24 228.38L210.65 228.15L211.06 227.92L211.47 227.69L211.88 227.47L212.28 227.25L212.69 227.03L213.1 226.8L213.51 226.57L213.92 226.34L214.32 226.1L214.73 225.85L215.14 225.59L215.55 225.32L215.96 225.05L216.36 224.78L216.77 224.5L217.18 224.22L217.59 223.93L218 223.64L218.4 223.35L218.81 223.06L219.22 222.76L219.63 222.46L220.04 222.15L220.44 221.84L220.85 221.53L221.26 221.21L221.67 220.89L222.08 220.57L222.48 220.24L222.89 219.91L223.3 219.58" stroke="#2a7fd0" stroke-width="1.2" stroke-dasharray="2.9 1.7" fill="none"/><path d="M39.7 214.67L40.11 214.12L40.52 213.61L40.92 213.13L41.33 212.69L41.74 212.29L42.15 211.94L42.56 211.59L42.96 211.24L43.37 210.98L43.78 210.85L44.19 210.81L44.6 210.77L45 210.74L45.41 210.71L45.82 210.68L46.23 210.66L46.64 210.64L47.04 210.62L47.45 210.61L47.86 210.6L48.27 210.59L48.68 210.58L49.08 210.58L49.49 210.57L49.9 210.57L50.31 210.58L50.72 210.59L51.12 210.62L51.53 210.65L51.94 210.69L52.35 210.74L52.76 210.8L53.16 210.86L53.57 210.93L53.98 211.01L54.39 211.1L54.8 211.19L55.2 211.29L55.61 211.39L56.02 211.55L56.43 211.78L56.84 212.09L57.24 212.44L57.65 212.84L58.06 213.26L58.47 213.69L58.88 214.12L59.28 214.57L59.69 215.07L60.1 215.61L60.51 216.18L60.92 216.76L61.32 217.35L61.73 217.93L62.14 218.49L62.55 219.04L62.96 219.61L63.36 220.18L63.77 220.75L64.18 221.31L64.59 221.85L65 222.37L65.4 222.86L65.81 223.33L66.22 223.81L66.63 224.28L67.04 224.73L67.44 225.15L67.85 225.53L68.26 225.86L68.67 226.13L69.08 226.37L69.48 226.61L69.89 226.84L70.3 227.05L70.71 227.25L71.12 227.42L71.52 227.57L71.93 227.68L72.34 227.75L72.75 227.77L73.16 227.7L73.56 227.5L73.97 227.21L74.38 226.86L74.79 226.49L75.2 226.13L75.6 225.76L76.01 225.33L76.42 224.86L76.83 224.36L77.24 223.84L77.64 223.32L78.05 222.8L78.46 222.31L78.87 221.83L79.28 221.35L79.68 220.86L80.09 220.37L80.5 219.89L80.91 219.41L81.32 218.95L81.72 218.49L82.13 218.04L82.54 217.58L82.95 217.12L83.36 216.67L83.76 216.23L84.17 215.8L84.58 215.4L84.99 215.02L85.4 214.67L85.8 214.34L86.21 214.04L86.62 213.74L87.03 213.46L87.44 213.2L87.84 212.95L88.25 212.71L88.66 212.48L89.07 212.26L89.48 212.02L89.88 211.79L90.29 211.56L90.7 211.35L91.11 211.16L91.52 211.01L91.92 210.9L92.33 210.85L92.74 210.82L93.15 210.79L93.56 210.77L93.96 210.75L94.37 210.73L94.78 210.71L95.19 210.69L95.6 210.67L96 210.66L96.41 210.64L96.82 210.63L97.23 210.62L97.64 210.61L98.04 210.6L98.45 210.59L98.86 210.59L99.27 210.58L99.68 210.58L100.08 210.58L100.49 210.57L100.9 210.57L101.31 210.57L101.72 210.57L102.12 210.58L102.53 210.58L102.94 210.58L103.35 210.59L103.76 210.6L104.16 210.6L104.57 210.61L104.98 210.62L105.39 210.63L105.8 210.64L106.2 210.65L106.61 210.66L107.02 210.67L107.43 210.68L107.84 210.69L108.24 210.71L108.65 210.72L109.06 210.74L109.47 210.75L109.88 210.77L110.28 210.79L110.69 210.8L111.1 210.82L111.51 210.84L111.92 210.86L112.32 210.87L112.73 210.89L113.14 210.91L113.55 210.93L113.96 210.95L114.36 210.97L114.77 210.99L115.18 211.01L115.59 211.03L116 211.05L116.4 211.08L116.81 211.1L117.22 211.12L117.63 211.14L118.04 211.17L118.44 211.21L118.85 211.25L119.26 211.29L119.67 211.33L120.08 211.38L120.48 211.43L120.89 211.48L121.3 211.53L121.71 211.58L122.12 211.63L122.52 211.68L122.93 211.73L123.34 211.77L123.75 211.81L124.16 211.85L124.56 211.89L124.97 211.91L125.38 211.94L125.79 211.96L126.2 211.98L126.6 212L127.01 212.02L127.42 212.04L127.83 212.06L128.24 212.08L128.64 212.09L129.05 212.11L129.46 212.13L129.87 212.14L130.28 212.15L130.68 212.17L131.09 212.18L131.5 212.19L131.91 212.2L132.32 212.2L132.72 212.21L133.13 212.21L133.54 212.21L133.95 212.21L134.36 212.21L134.76 212.2L135.17 212.2L135.58 212.19L135.99 212.18L136.4 212.17L136.8 212.16L137.21 212.14L137.62 212.13L138.03 212.11L138.44 212.1L138.84 212.08L139.25 212.06L139.66 212.04L140.07 212.02L140.48 212L140.88 211.98L141.29 211.96L141.7 211.94L142.11 211.91L142.52 211.88L142.92 211.85L143.33 211.81L143.74 211.76L144.15 211.71L144.56 211.66L144.96 211.6L145.37 211.55L145.78 211.49L146.19 211.42L146.6 211.36L147 211.29L147.41 211.23L147.82 211.16L148.23 211.1L148.64 211.03L149.04 210.97L149.45 210.91L149.86 210.85L150.27 210.79L150.68 210.73L151.08 210.67L151.49 210.61L151.9 210.55L152.31 210.48L152.72 210.42L153.12 210.36L153.53 210.3L153.94 210.24L154.35 210.17L154.76 210.11L155.16 210.04L155.57 209.98L155.98 209.91L156.39 209.84L156.8 209.78L157.2 209.71L157.61 209.64L158.02 209.57L158.43 209.5L158.84 209.43L159.24 209.36L159.65 209.28L160.06 209.21L160.47 209.13L160.88 209.06L161.28 208.98L161.69 208.9L162.1 208.82L162.51 208.74L162.92 208.65L163.32 208.57L163.73 208.48L164.14 208.4L164.55 208.31L164.96 208.22L165.36 208.14L165.77 208.05L166.18 207.96L166.59 207.87L167 207.77L167.4 207.68L167.81 207.59L168.22 207.5L168.63 207.4L169.04 207.31L169.44 207.21L169.85 207.12L170.26 207.02L170.67 206.93L171.08 206.83L171.48 206.72L171.89 206.61L172.3 206.5L172.71 206.39L173.12 206.28L173.52 206.16L173.93 206.04L174.34 205.93L174.75 205.81L175.16 205.7L175.56 205.58L175.97 205.47L176.38 205.36L176.79 205.25L177.2 205.14L177.6 205.04L178.01 204.95L178.42 204.85L178.83 204.76L179.24 204.68L179.64 204.6L180.05 204.53L180.46 204.47L180.87 204.41L181.28 204.35L181.68 204.3L182.09 204.26L182.5 204.21L182.91 204.17L183.32 204.13L183.72 204.09L184.13 204.06L184.54 204.02L184.95 203.98L185.36 203.94L185.76 203.9L186.17 203.86L186.58 203.82L186.99 203.77L187.4 203.72L187.8 203.66L188.21 203.6L188.62 203.54L189.03 203.46L189.44 203.38L189.84 203.3L190.25 203.2L190.66 203.08L191.07 202.91L191.48 202.71L191.88 202.47L192.29 202.19L192.7 201.89L193.11 201.56L193.52 201.14L193.92 200.57L194.33 199.92L194.74 199.24L195.15 198.59L195.56 198.01L195.96 197.51L196.37 197.03L196.78 196.56L197.19 196.1L197.6 195.67L198 195.25L198.41 194.85L198.82 194.47L199.23 194.06L199.64 193.62L200.04 193.23L200.45 192.94L200.86 192.83L201.27 192.86L201.68 192.93L202.08 193.05L202.49 193.2L202.9 193.37L203.31 193.61L203.72 193.97L204.12 194.45L204.53 195.06L204.94 195.83L205.35 197.29L205.76 199.41L206.16 201.89L206.57 204.46L206.98 206.91L207.39 209.54L207.8 212.33L208.2 215.13L208.61 217.8L209.02 220.19L209.43 222.34L209.84 224.37L210.24 226.44L210.65 228.68L211.06 231.27L211.47 234.26L211.88 237.39L212.28 240.41L212.69 243.06L213.1 245.4L213.51 247.64L213.92 249.77L214.32 251.75L214.73 253.59L215.14 255.26L215.55 256.75L215.96 258.24L216.36 259.69L216.77 261.02L217.18 262.16L217.59 263.03L218 263.53L218.4 263.83L218.81 264.09L219.22 264.33L219.63 264.52L220.04 264.68L220.44 264.8L220.85 264.87L221.26 264.9L221.67 264.9L222.08 264.9L222.48 264.9L222.89 264.9L223.3 264.9" stroke="#3cb43c" stroke-width="1.2" stroke-dasharray="2.9 1.7" fill="none"/><path d="M39.7 215.76L40.11 214.53L40.52 213.42L40.92 212.52L41.33 211.94L41.74 211.57L42.15 211.24L42.56 210.97L42.96 210.76L43.37 210.62L43.78 210.57L44.19 210.57L44.6 210.57L45 210.57L45.41 210.57L45.82 210.57L46.23 210.57L46.64 210.57L47.04 210.57L47.45 210.57L47.86 210.57L48.27 210.57L48.68 210.57L49.08 210.57L49.49 210.57L49.9 210.57L50.31 210.58L50.72 210.61L51.12 210.66L51.53 210.73L51.94 210.81L52.35 210.91L52.76 211.01L53.16 211.13L53.57 211.26L53.98 211.39L54.39 211.56L54.8 211.8L55.2 212.11L55.61 212.48L56.02 213.03L56.43 213.81L56.84 214.75L57.24 215.76L57.65 216.92L58.06 218.29L58.47 219.75L58.88 221.22L59.28 222.69L59.69 224.2L60.1 225.73L60.51 227.23L60.92 228.7L61.32 230.15L61.73 231.58L62.14 232.96L62.55 234.31L62.96 235.66L63.36 236.95L63.77 238.16L64.18 239.24L64.59 240.21L65 241.14L65.4 242L65.81 242.8L66.22 243.52L66.63 244.15L67.04 244.72L67.44 245.26L67.85 245.76L68.26 246.2L68.67 246.58L69.08 246.88L69.48 247.14L69.89 247.4L70.3 247.62L70.71 247.81L71.12 247.93L71.52 247.97L71.93 247.93L72.34 247.81L72.75 247.63L73.16 247.41L73.56 247.15L73.97 246.88L74.38 246.54L74.79 246.07L75.2 245.51L75.6 244.89L76.01 244.24L76.42 243.61L76.83 242.95L77.24 242.23L77.64 241.48L78.05 240.72L78.46 239.96L78.87 239.24L79.28 238.53L79.68 237.83L80.09 237.15L80.5 236.51L80.91 235.93L81.32 235.4L81.72 234.89L82.13 234.38L82.54 233.83L82.95 233.23L83.36 232.57L83.76 231.85L84.17 231.1L84.58 230.31L84.99 229.49L85.4 228.64L85.8 227.77L86.21 226.84L86.62 225.82L87.03 224.79L87.44 223.78L87.84 222.86L88.25 222.02L88.66 221.22L89.07 220.46L89.48 219.72L89.88 219L90.29 218.29L90.7 217.57L91.11 216.85L91.52 216.08L91.92 215.27L92.33 214.49L92.74 213.81L93.15 213.3L93.56 212.94L93.96 212.63L94.37 212.37L94.78 212.15L95.19 211.94L95.6 211.73L96 211.52L96.41 211.32L96.82 211.12L97.23 210.94L97.64 210.79L98.04 210.68L98.45 210.6L98.86 210.57L99.27 210.57L99.68 210.57L100.08 210.57L100.49 210.57L100.9 210.57L101.31 210.57L101.72 210.57L102.12 210.57L102.53 210.57L102.94 210.57L103.35 210.58L103.76 210.62L104.16 210.67L104.57 210.74L104.98 210.82L105.39 210.91L105.8 211.01L106.2 211.12L106.61 211.26L107.02 211.47L107.43 211.73L107.84 212.02L108.24 212.35L108.65 212.69L109.06 213.03L109.47 213.39L109.88 213.8L110.28 214.24L110.69 214.72L111.1 215.22L111.51 215.76L111.92 216.34L112.32 216.97L112.73 217.65L113.14 218.36L113.55 219.11L113.96 219.88L114.36 220.67L114.77 221.5L115.18 222.38L115.59 223.3L116 224.24L116.4 225.19L116.81 226.13L117.22 227.14L117.63 228.21L118.04 229.19L118.44 229.96L118.85 230.48L119.26 230.88L119.67 231.23L120.08 231.63L120.48 232.14L120.89 232.85L121.3 233.75L121.71 234.76L122.12 235.8L122.52 236.81L122.93 237.89L123.34 239.04L123.75 240.2L124.16 241.3L124.56 242.28L124.97 243.06L125.38 243.68L125.79 244.23L126.2 244.72L126.6 245.17L127.01 245.6L127.42 246.03L127.83 246.47L128.24 246.93L128.64 247.39L129.05 247.84L129.46 248.29L129.87 248.72L130.28 249.13L130.68 249.53L131.09 249.89L131.5 250.22L131.91 250.54L132.32 250.84L132.72 251.14L133.13 251.43L133.54 251.7L133.95 251.97L134.36 252.22L134.76 252.46L135.17 252.7L135.58 252.91L135.99 253.12L136.4 253.31L136.8 253.49L137.21 253.66L137.62 253.82L138.03 253.98L138.44 254.13L138.84 254.27L139.25 254.41L139.66 254.53L140.07 254.66L140.48 254.77L140.88 254.88L141.29 254.98L141.7 255.07L142.11 255.16L142.52 255.26L142.92 255.35L143.33 255.43L143.74 255.51L144.15 255.57L144.56 255.6L144.96 255.62L145.37 255.59L145.78 255.53L146.19 255.43L146.6 255.3L147 255.15L147.41 255L147.82 254.83L148.23 254.67L148.64 254.53L149.04 254.38L149.45 254.24L149.86 254.09L150.27 253.93L150.68 253.77L151.08 253.61L151.49 253.44L151.9 253.27L152.31 253.09L152.72 252.91L153.12 252.72L153.53 252.54L153.94 252.34L154.35 252.15L154.76 251.96L155.16 251.76L155.57 251.57L155.98 251.37L156.39 251.16L156.8 250.95L157.2 250.72L157.61 250.48L158.02 250.24L158.43 249.97L158.84 249.69L159.24 249.39L159.65 249.07L160.06 248.7L160.47 248.28L160.88 247.8L161.28 247.28L161.69 246.72L162.1 246.14L162.51 245.53L162.92 244.91L163.32 244.29L163.73 243.67L164.14 243.06L164.55 242.45L164.96 241.83L165.36 241.19L165.77 240.51L166.18 239.78L166.59 238.97L167 238.07L167.4 237.13L167.81 236.23L168.22 235.42L168.63 234.71L169.04 234.06L169.44 233.45L169.85 232.87L170.26 232.29L170.67 231.71L171.08 231.09L171.48 230.42L171.89 229.68L172.3 228.86L172.71 227.95L173.12 226.97L173.52 225.93L173.93 224.85L174.34 223.74L174.75 222.61L175.16 221.48L175.56 220.37L175.97 219.28L176.38 218.23L176.79 217.23L177.2 216.31L177.6 215.4L178.01 214.48L178.42 213.55L178.83 212.64L179.24 211.76L179.64 210.94L180.05 210.18L180.46 209.52L180.87 208.97L181.28 208.54L181.68 208.15L182.09 207.77L182.5 207.41L182.91 207.09L183.32 206.83L183.72 206.63L184.13 206.51L184.54 206.48L184.95 206.6L185.36 206.86L185.76 207.25L186.17 207.75L186.58 208.32L186.99 208.95L187.4 209.62L187.8 210.3L188.21 211.11L188.62 212.14L189.03 213.35L189.44 214.68L189.84 216.08L190.25 217.48L190.66 218.85L191.07 220.13L191.48 221.31L191.88 222.46L192.29 223.59L192.7 224.72L193.11 225.88L193.52 227.08L193.92 228.34L194.33 229.68L194.74 231.17L195.15 232.83L195.56 234.59L195.96 236.4L196.37 238.2L196.78 239.95L197.19 241.59L197.6 243.06L198 244.4L198.41 245.69L198.82 246.92L199.23 248.11L199.64 249.24L200.04 250.32L200.45 251.36L200.86 252.34L201.27 253.28L201.68 254.17L202.08 255.03L202.49 255.85L202.9 256.65L203.31 257.43L203.72 258.2L204.12 258.96L204.53 259.72L204.94 260.5L205.35 261.4L205.76 262.38L206.16 263.32L206.57 264.13L206.98 264.69L207.39 264.9L207.8 264.9L208.2 264.9L208.61 264.9L209.02 264.9L209.43 264.9L209.84 264.9L210.24 264.9L210.65 264.9L211.06 264.9L211.47 264.9L211.88 264.9L212.28 264.9L212.69 264.9L213.1 264.9L213.51 264.9L213.92 264.9L214.32 264.9L214.73 264.9L215.14 264.9L215.55 264.9L215.96 264.9L216.36 264.9L216.77 264.9L217.18 264.9L217.59 264.9L218 264.9L218.4 264.9L218.81 264.9L219.22 264.9L219.63 264.9L220.04 264.9L220.44 264.9L220.85 264.9L221.26 264.9L221.67 264.9L222.08 264.9L222.48 264.9L222.89 264.9L223.3 264.9" stroke="#9b3fc2" stroke-width="1.2" stroke-dasharray="2.9 1.7" fill="none"/><path d="M39.7 213.03L40.11 212.86L40.52 212.69L40.92 212.52L41.33 212.37L41.74 212.22L42.15 212.09L42.56 211.96L42.96 211.85L43.37 211.75L43.78 211.66L44.19 211.59L44.6 211.51L45 211.43L45.41 211.36L45.82 211.29L46.23 211.24L46.64 211.19L47.04 211.15L47.45 211.13L47.86 211.12L48.27 211.14L48.68 211.19L49.08 211.28L49.49 211.39L49.9 211.51L50.31 211.65L50.72 211.79L51.12 211.94L51.53 212.14L51.94 212.43L52.35 212.71L52.76 212.94L53.16 213.03L53.57 213.01L53.98 212.96L54.39 212.88L54.8 212.79L55.2 212.69L55.61 212.58L56.02 212.48L56.43 212.37L56.84 212.23L57.24 212.07L57.65 211.92L58.06 211.79L58.47 211.7L58.88 211.66L59.28 211.7L59.69 211.78L60.1 211.92L60.51 212.08L60.92 212.28L61.32 212.48L61.73 212.75L62.14 213.13L62.55 213.59L62.96 214.11L63.36 214.67L63.77 215.41L64.18 216.34L64.59 217.25L65 217.94L65.4 218.46L65.81 218.97L66.22 219.42L66.63 219.79L67.04 220.04L67.44 220.13L67.85 220.08L68.26 219.94L68.67 219.75L69.08 219.51L69.48 219.27L69.89 219.04L70.3 218.8L70.71 218.52L71.12 218.23L71.52 217.94L71.93 217.65L72.34 217.4L72.75 217.16L73.16 216.93L73.56 216.71L73.97 216.5L74.38 216.29L74.79 216.1L75.2 215.92L75.6 215.76L76.01 215.61L76.42 215.46L76.83 215.31L77.24 215.17L77.64 215.04L78.05 214.92L78.46 214.82L78.87 214.73L79.28 214.67L79.68 214.62L80.09 214.57L80.5 214.52L80.91 214.48L81.32 214.44L81.72 214.42L82.13 214.4L82.54 214.39L82.95 214.42L83.36 214.48L83.76 214.58L84.17 214.71L84.58 214.86L84.99 215.03L85.4 215.21L85.8 215.39L86.21 215.58L86.62 215.76L87.03 215.97L87.44 216.24L87.84 216.53L88.25 216.79L88.66 217.01L89.07 217.12L89.48 217.18L89.88 217.21L90.29 217.24L90.7 217.26L91.11 217.28L91.52 217.31L91.92 217.35L92.33 217.4L92.74 217.53L93.15 217.79L93.56 218.13L93.96 218.54L94.37 218.97L94.78 219.4L95.19 219.8L95.6 220.13L96 220.41L96.41 220.68L96.82 220.95L97.23 221.21L97.64 221.45L98.04 221.69L98.45 221.91L98.86 222.12L99.27 222.31L99.68 222.5L100.08 222.68L100.49 222.86L100.9 223.03L101.31 223.18L101.72 223.33L102.12 223.46L102.53 223.58L102.94 223.68L103.35 223.76L103.76 223.83L104.16 223.9L104.57 223.96L104.98 224.01L105.39 224.06L105.8 224.11L106.2 224.16L106.61 224.2L107.02 224.25L107.43 224.31L107.84 224.36L108.24 224.43L108.65 224.5L109.06 224.57L109.47 224.65L109.88 224.72L110.28 224.8L110.69 224.89L111.1 224.97L111.51 225.06L111.92 225.15L112.32 225.25L112.73 225.36L113.14 225.47L113.55 225.59L113.96 225.71L114.36 225.84L114.77 225.98L115.18 226.13L115.59 226.31L116 226.53L116.4 226.78L116.81 227.06L117.22 227.35L117.63 227.66L118.04 227.97L118.44 228.28L118.85 228.58L119.26 228.86L119.67 229.14L120.08 229.41L120.48 229.68L120.89 229.96L121.3 230.23L121.71 230.5L122.12 230.77L122.52 231.05L122.93 231.34L123.34 231.63L123.75 231.91L124.16 232.19L124.56 232.47L124.97 232.72L125.38 232.96L125.79 233.2L126.2 233.46L126.6 233.72L127.01 233.95L127.42 234.15L127.83 234.28L128.24 234.32L128.64 234.32L129.05 234.29L129.46 234.26L129.87 234.22L130.28 234.18L130.68 234.13L131.09 234.09L131.5 234.05L131.91 234.01L132.32 233.97L132.72 233.92L133.13 233.88L133.54 233.84L133.95 233.81L134.36 233.79L134.76 233.78L135.17 233.82L135.58 233.95L135.99 234.13L136.4 234.36L136.8 234.61L137.21 234.87L137.62 235.16L138.03 235.52L138.44 235.97L138.84 236.51L139.25 237.29L139.66 238.35L140.07 239.59L140.48 240.88L140.88 242.29L141.29 243.88L141.7 245.46L142.11 246.88L142.52 248.16L142.92 249.4L143.33 250.7L143.74 252.18L144.15 253.73L144.56 255.07L144.96 256.2L145.37 257.24L145.78 258.15L146.19 258.89L146.6 259.54L147 260.11L147.41 260.56L147.82 260.85L148.23 261.06L148.64 261.24L149.04 261.38L149.45 261.47L149.86 261.51L150.27 261.52L150.68 261.53L151.08 261.54L151.49 261.55L151.9 261.55L152.31 261.56L152.72 261.57L153.12 261.57L153.53 261.58L153.94 261.58L154.35 261.59L154.76 261.59L155.16 261.6L155.57 261.6L155.98 261.6L156.39 261.61L156.8 261.61L157.2 261.61L157.61 261.61L158.02 261.62L158.43 261.62L158.84 261.62L159.24 261.62L159.65 261.62L160.06 261.62L160.47 261.62L160.88 261.62L161.28 261.62L161.69 261.62L162.1 261.62L162.51 261.62L162.92 261.62L163.32 261.62L163.73 261.62L164.14 261.62L164.55 261.62L164.96 261.62L165.36 261.62L165.77 261.62L166.18 261.62L166.59 261.62L167 261.62L167.4 261.62L167.81 261.62L168.22 261.62L168.63 261.62L169.04 261.62L169.44 261.62L169.85 261.62L170.26 261.62L170.67 261.62L171.08 261.62L171.48 261.62L171.89 261.62L172.3 261.62L172.71 261.62L173.12 261.62L173.52 261.62L173.93 261.62L174.34 261.62L174.75 261.62L175.16 261.62L175.56 261.62L175.97 261.62L176.38 261.62L176.79 261.62L177.2 261.62L177.6 261.62L178.01 261.62L178.42 261.62L178.83 261.62L179.24 261.62L179.64 261.62L180.05 261.62L180.46 261.62L180.87 261.62L181.28 261.62L181.68 261.62L182.09 261.62L182.5 261.62L182.91 261.62L183.32 261.62L183.72 261.62L184.13 261.62L184.54 261.62L184.95 261.62L185.36 261.62L185.76 261.62L186.17 261.62L186.58 261.62L186.99 261.62L187.4 261.62L187.8 261.62L188.21 261.62L188.62 261.62L189.03 261.62L189.44 261.62L189.84 261.62L190.25 261.62L190.66 261.62L191.07 261.62L191.48 261.62L191.88 261.62L192.29 261.62L192.7 261.62L193.11 261.62L193.52 261.62L193.92 261.62L194.33 261.62L194.74 261.62L195.15 261.62L195.56 261.62L195.96 261.62L196.37 261.62L196.78 261.62L197.19 261.62L197.6 261.62L198 261.62L198.41 261.62L198.82 261.62L199.23 261.62L199.64 261.62L200.04 261.62L200.45 261.62L200.86 261.62L201.27 261.62L201.68 261.62L202.08 261.62L202.49 261.62L202.9 261.62L203.31 261.63L203.72 261.64L204.12 261.66L204.53 261.68L204.94 261.71L205.35 261.74L205.76 261.78L206.16 261.82L206.57 261.87L206.98 261.91L207.39 261.96L207.8 262.01L208.2 262.07L208.61 262.12L209.02 262.17L209.43 262.23L209.84 262.3L210.24 262.38L210.65 262.47L211.06 262.56L211.47 262.66L211.88 262.77L212.28 262.87L212.69 262.98L213.1 263.09L213.51 263.19L213.92 263.29L214.32 263.38L214.73 263.46L215.14 263.53L215.55 263.6L215.96 263.67L216.36 263.74L216.77 263.8L217.18 263.87L217.59 263.93L218 263.99L218.4 264.05L218.81 264.11L219.22 264.17L219.63 264.22L220.04 264.28L220.44 264.33L220.85 264.38L221.26 264.43L221.67 264.47L222.08 264.51L222.48 264.55L222.89 264.59L223.3 264.63" stroke="#ff7f0e" stroke-width="1.2" stroke-dasharray="2.9 1.7" fill="none"/><path d="M39.7 217.4L40.11 216.04L40.52 214.89L40.92 214.12L41.33 213.61L41.74 213.17L42.15 212.87L42.56 212.76L42.96 212.77L43.37 212.79L43.78 212.83L44.19 212.88L44.6 212.95L45 213.03L45.41 213.23L45.82 213.61L46.23 214.12L46.64 214.67L47.04 215.38L47.45 216.26L47.86 217.12L48.27 217.87L48.68 218.56L49.08 219.22L49.49 219.9L49.9 220.62L50.31 221.41L50.72 222.31L51.12 223.43L51.53 224.79L51.94 226.28L52.35 227.8L52.76 229.24L53.16 230.5L53.57 231.49L53.98 232.31L54.39 233.12L54.8 234.1L55.2 235.42L55.61 237.84L56.02 241.43L56.43 245.29L56.84 248.52L57.24 251.2L57.65 253.76L58.06 255.89L58.47 257.26L58.88 258.09L59.28 258.78L59.69 259.26L60.1 259.44L60.51 259.27L60.92 258.83L61.32 258.2L61.73 257.46L62.14 256.71L62.55 255.83L62.96 254.71L63.36 253.43L63.77 252.08L64.18 250.76L64.59 249.54L65 248.52L65.4 247.66L65.81 246.85L66.22 246.1L66.63 245.4L67.04 244.75L67.44 244.15L67.85 243.6L68.26 243.08L68.67 242.59L69.08 242.13L69.48 241.7L69.89 241.28L70.3 240.88L70.71 240.5L71.12 240.14L71.52 239.81L71.93 239.49L72.34 239.17L72.75 238.84L73.16 238.51L73.56 238.15L73.97 237.78L74.38 237.43L74.79 237.07L75.2 236.71L75.6 236.31L76.01 235.89L76.42 235.41L76.83 234.87L77.24 234.19L77.64 233.32L78.05 232.31L78.46 231.22L78.87 230.08L79.28 228.95L79.68 227.89L80.09 226.93L80.5 226.13L80.91 225.44L81.32 224.77L81.72 224.13L82.13 223.52L82.54 222.94L82.95 222.39L83.36 221.89L83.76 221.44L84.17 221.03L84.58 220.67L84.99 220.34L85.4 220.01L85.8 219.69L86.21 219.39L86.62 219.14L87.03 218.94L87.44 218.81L87.84 218.76L88.25 218.79L88.66 218.88L89.07 219.01L89.48 219.18L89.88 219.37L90.29 219.58L90.7 219.86L91.11 220.26L91.52 220.75L91.92 221.32L92.33 221.94L92.74 222.6L93.15 223.28L93.56 223.95L93.96 224.67L94.37 225.5L94.78 226.37L95.19 227.25L95.6 228.1L96 228.86L96.41 229.56L96.82 230.22L97.23 230.85L97.64 231.47L98.04 232.06L98.45 232.65L98.86 233.23L99.27 233.76L99.68 234.23L100.08 234.71L100.49 235.27L100.9 235.96L101.31 237.05L101.72 238.54L102.12 240.14L102.53 241.53L102.94 242.53L103.35 243.39L103.76 244.16L104.16 244.87L104.57 245.54L104.98 246.17L105.39 246.8L105.8 247.43L106.2 248.06L106.61 248.69L107.02 249.3L107.43 249.89L107.84 250.47L108.24 251.03L108.65 251.57L109.06 252.09L109.47 252.59L109.88 253.08L110.28 253.56L110.69 254.03L111.1 254.47L111.51 254.89L111.92 255.27L112.32 255.62L112.73 255.94L113.14 256.26L113.55 256.57L113.96 256.86L114.36 257.13L114.77 257.37L115.18 257.57L115.59 257.73L116 257.84L116.4 257.93L116.81 258L117.22 258.06L117.63 258.11L118.04 258.16L118.44 258.21L118.85 258.28L119.26 258.35L119.67 258.43L120.08 258.52L120.48 258.61L120.89 258.71L121.3 258.81L121.71 258.92L122.12 259.03L122.52 259.14L122.93 259.25L123.34 259.37L123.75 259.49L124.16 259.61L124.56 259.74L124.97 259.86L125.38 259.99L125.79 260.12L126.2 260.25L126.6 260.4L127.01 260.55L127.42 260.71L127.83 260.86L128.24 261.02L128.64 261.18L129.05 261.34L129.46 261.49L129.87 261.64L130.28 261.79L130.68 261.92L131.09 262.05L131.5 262.17L131.91 262.28L132.32 262.39L132.72 262.51L133.13 262.62L133.54 262.72L133.95 262.83L134.36 262.93L134.76 263.03L135.17 263.12L135.58 263.21L135.99 263.29L136.4 263.36L136.8 263.43L137.21 263.49L137.62 263.53L138.03 263.58L138.44 263.62L138.84 263.66L139.25 263.7L139.66 263.74L140.07 263.78L140.48 263.81L140.88 263.85L141.29 263.88L141.7 263.91L142.11 263.94L142.52 263.97L142.92 263.99L143.33 264.01L143.74 264.03L144.15 264.05L144.56 264.06L144.96 264.07L145.37 264.08L145.78 264.08L146.19 264.08L146.6 264.09L147 264.09L147.41 264.09L147.82 264.09L148.23 264.09L148.64 264.1L149.04 264.1L149.45 264.1L149.86 264.1L150.27 264.1L150.68 264.11L151.08 264.11L151.49 264.11L151.9 264.11L152.31 264.11L152.72 264.12L153.12 264.12L153.53 264.12L153.94 264.12L154.35 264.12L154.76 264.13L155.16 264.13L155.57 264.13L155.98 264.13L156.39 264.13L156.8 264.13L157.2 264.14L157.61 264.14L158.02 264.14L158.43 264.14L158.84 264.14L159.24 264.14L159.65 264.15L160.06 264.15L160.47 264.15L160.88 264.15L161.28 264.15L161.69 264.15L162.1 264.16L162.51 264.16L162.92 264.16L163.32 264.16L163.73 264.16L164.14 264.16L164.55 264.16L164.96 264.17L165.36 264.17L165.77 264.17L166.18 264.17L166.59 264.17L167 264.17L167.4 264.17L167.81 264.18L168.22 264.18L168.63 264.18L169.04 264.18L169.44 264.18L169.85 264.18L170.26 264.18L170.67 264.18L171.08 264.18L171.48 264.19L171.89 264.19L172.3 264.19L172.71 264.19L173.12 264.19L173.52 264.19L173.93 264.19L174.34 264.19L174.75 264.19L175.16 264.2L175.56 264.2L175.97 264.2L176.38 264.2L176.79 264.2L177.2 264.2L177.6 264.2L178.01 264.2L178.42 264.2L178.83 264.2L179.24 264.21L179.64 264.21L180.05 264.21L180.46 264.21L180.87 264.21L181.28 264.21L181.68 264.21L182.09 264.21L182.5 264.21L182.91 264.21L183.32 264.21L183.72 264.21L184.13 264.22L184.54 264.22L184.95 264.22L185.36 264.22L185.76 264.22L186.17 264.22L186.58 264.22L186.99 264.22L187.4 264.22L187.8 264.22L188.21 264.22L188.62 264.22L189.03 264.22L189.44 264.22L189.84 264.22L190.25 264.23L190.66 264.23L191.07 264.23L191.48 264.23L191.88 264.23L192.29 264.23L192.7 264.23L193.11 264.23L193.52 264.23L193.92 264.23L194.33 264.23L194.74 264.23L195.15 264.23L195.56 264.23L195.96 264.23L196.37 264.23L196.78 264.23L197.19 264.23L197.6 264.23L198 264.23L198.41 264.23L198.82 264.24L199.23 264.24L199.64 264.24L200.04 264.24L200.45 264.24L200.86 264.24L201.27 264.24L201.68 264.24L202.08 264.24L202.49 264.24L202.9 264.24L203.31 264.24L203.72 264.24L204.12 264.24L204.53 264.24L204.94 264.24L205.35 264.24L205.76 264.24L206.16 264.24L206.57 264.24L206.98 264.24L207.39 264.24L207.8 264.24L208.2 264.24L208.61 264.24L209.02 264.24L209.43 264.24L209.84 264.24L210.24 264.24L210.65 264.24L211.06 264.24L211.47 264.24L211.88 264.24L212.28 264.24L212.69 264.24L213.1 264.24L213.51 264.24L213.92 264.24L214.32 264.24L214.73 264.24L215.14 264.24L215.55 264.24L215.96 264.24L216.36 264.24L216.77 264.24L217.18 264.24L217.59 264.24L218 264.24L218.4 264.24L218.81 264.24L219.22 264.24L219.63 264.24L220.04 264.24L220.44 264.24L220.85 264.24L221.26 264.24L221.67 264.24L222.08 264.24L222.48 264.24L222.89 264.24L223.3 264.24" stroke="#fff01e" stroke-width="1.2" stroke-dasharray="2.9 1.7" fill="none"/><path d="M39.7 251.8L40.11 253.29L40.52 254.7L40.92 256.02L41.33 257.24L41.74 258.35L42.15 259.44L42.56 260.54L42.96 261.53L43.37 262.29L43.78 262.72L44.19 262.92L44.6 263.09L45 263.25L45.41 263.38L45.82 263.49L46.23 263.59L46.64 263.67L47.04 263.73L47.45 263.78L47.86 263.81L48.27 263.83L48.68 263.86L49.08 263.88L49.49 263.9L49.9 263.93L50.31 263.95L50.72 263.96L51.12 263.98L51.53 264L51.94 264.01L52.35 264.02L52.76 264.04L53.16 264.05L53.57 264.06L53.98 264.06L54.39 264.07L54.8 264.07L55.2 264.08L55.61 264.08L56.02 264.08L56.43 264.07L56.84 264.04L57.24 263.98L57.65 263.91L58.06 263.83L58.47 263.73L58.88 263.62L59.28 263.51L59.69 263.39L60.1 263.26L60.51 263.12L60.92 262.93L61.32 262.71L61.73 262.46L62.14 262.18L62.55 261.88L62.96 261.56L63.36 261.22L63.77 260.88L64.18 260.53L64.59 260.15L65 259.73L65.4 259.27L65.81 258.77L66.22 258.25L66.63 257.71L67.04 257.17L67.44 256.63L67.85 256.09L68.26 255.57L68.67 255.07L69.08 254.59L69.48 254.11L69.89 253.63L70.3 253.16L70.71 252.68L71.12 252.21L71.52 251.74L71.93 251.27L72.34 250.81L72.75 250.35L73.16 249.89L73.56 249.43L73.97 248.97L74.38 248.52L74.79 248.06L75.2 247.58L75.6 247.1L76.01 246.61L76.42 246.14L76.83 245.68L77.24 245.24L77.64 244.84L78.05 244.47L78.46 244.15L78.87 243.85L79.28 243.54L79.68 243.25L80.09 243.01L80.5 242.85L80.91 242.79L81.32 242.81L81.72 242.88L82.13 243L82.54 243.14L82.95 243.32L83.36 243.52L83.76 243.74L84.17 243.98L84.58 244.22L84.99 244.46L85.4 244.7L85.8 244.96L86.21 245.26L86.62 245.6L87.03 245.96L87.44 246.33L87.84 246.71L88.25 247.08L88.66 247.43L89.07 247.76L89.48 248.1L89.88 248.43L90.29 248.76L90.7 249.1L91.11 249.44L91.52 249.79L91.92 250.13L92.33 250.48L92.74 250.83L93.15 251.19L93.56 251.56L93.96 251.94L94.37 252.34L94.78 252.77L95.19 253.22L95.6 253.69L96 254.17L96.41 254.66L96.82 255.14L97.23 255.62L97.64 256.09L98.04 256.58L98.45 257.06L98.86 257.55L99.27 258.02L99.68 258.47L100.08 258.89L100.49 259.3L100.9 259.7L101.31 260.08L101.72 260.45L102.12 260.81L102.53 261.15L102.94 261.47L103.35 261.78L103.76 262.09L104.16 262.4L104.57 262.71L104.98 263L105.39 263.27L105.8 263.49L106.2 263.68L106.61 263.81L107.02 263.9L107.43 263.99L107.84 264.07L108.24 264.15L108.65 264.22L109.06 264.27L109.47 264.33L109.88 264.37L110.28 264.41L110.69 264.44L111.1 264.46L111.51 264.48L111.92 264.5L112.32 264.52L112.73 264.53L113.14 264.55L113.55 264.56L113.96 264.58L114.36 264.59L114.77 264.6L115.18 264.61L115.59 264.61L116 264.62L116.4 264.62L116.81 264.63L117.22 264.63L117.63 264.63L118.04 264.63L118.44 264.63L118.85 264.62L119.26 264.62L119.67 264.62L120.08 264.62L120.48 264.62L120.89 264.61L121.3 264.61L121.71 264.61L122.12 264.6L122.52 264.6L122.93 264.6L123.34 264.59L123.75 264.59L124.16 264.58L124.56 264.57L124.97 264.57L125.38 264.56L125.79 264.55L126.2 264.54L126.6 264.54L127.01 264.53L127.42 264.52L127.83 264.51L128.24 264.5L128.64 264.49L129.05 264.48L129.46 264.46L129.87 264.43L130.28 264.37L130.68 264.28L131.09 264.16L131.5 264.03L131.91 263.89L132.32 263.73L132.72 263.57L133.13 263.41L133.54 263.26L133.95 263.11L134.36 262.95L134.76 262.77L135.17 262.59L135.58 262.4L135.99 262.21L136.4 262L136.8 261.79L137.21 261.57L137.62 261.35L138.03 261.11L138.44 260.86L138.84 260.59L139.25 260.31L139.66 260.02L140.07 259.73L140.48 259.45L140.88 259.17L141.29 258.89L141.7 258.62L142.11 258.34L142.52 258.07L142.92 257.79L143.33 257.52L143.74 257.24L144.15 256.97L144.56 256.69L144.96 256.42L145.37 256.15L145.78 255.88L146.19 255.62L146.6 255.35L147 255.09L147.41 254.84L147.82 254.58L148.23 254.32L148.64 254.07L149.04 253.81L149.45 253.56L149.86 253.31L150.27 253.05L150.68 252.8L151.08 252.55L151.49 252.29L151.9 252.03L152.31 251.76L152.72 251.49L153.12 251.22L153.53 250.94L153.94 250.67L154.35 250.41L154.76 250.14L155.16 249.89L155.57 249.65L155.98 249.42L156.39 249.21L156.8 249.01L157.2 248.82L157.61 248.65L158.02 248.48L158.43 248.32L158.84 248.16L159.24 248.01L159.65 247.86L160.06 247.72L160.47 247.57L160.88 247.43L161.28 247.28L161.69 247.14L162.1 246.99L162.51 246.83L162.92 246.67L163.32 246.51L163.73 246.35L164.14 246.18L164.55 246.02L164.96 245.85L165.36 245.69L165.77 245.53L166.18 245.38L166.59 245.23L167 245.09L167.4 244.95L167.81 244.82L168.22 244.7L168.63 244.59L169.04 244.49L169.44 244.4L169.85 244.31L170.26 244.22L170.67 244.13L171.08 244.05L171.48 243.96L171.89 243.89L172.3 243.82L172.71 243.75L173.12 243.7L173.52 243.66L173.93 243.63L174.34 243.61L174.75 243.61L175.16 243.61L175.56 243.63L175.97 243.65L176.38 243.69L176.79 243.72L177.2 243.77L177.6 243.82L178.01 243.87L178.42 243.93L178.83 243.99L179.24 244.06L179.64 244.13L180.05 244.2L180.46 244.27L180.87 244.35L181.28 244.42L181.68 244.51L182.09 244.61L182.5 244.72L182.91 244.85L183.32 244.99L183.72 245.14L184.13 245.29L184.54 245.46L184.95 245.63L185.36 245.8L185.76 245.98L186.17 246.16L186.58 246.34L186.99 246.52L187.4 246.71L187.8 246.91L188.21 247.12L188.62 247.33L189.03 247.55L189.44 247.78L189.84 248.01L190.25 248.25L190.66 248.49L191.07 248.74L191.48 248.99L191.88 249.24L192.29 249.5L192.7 249.75L193.11 250.01L193.52 250.27L193.92 250.54L194.33 250.8L194.74 251.06L195.15 251.32L195.56 251.58L195.96 251.84L196.37 252.09L196.78 252.34L197.19 252.6L197.6 252.86L198 253.13L198.41 253.4L198.82 253.68L199.23 253.96L199.64 254.24L200.04 254.52L200.45 254.81L200.86 255.1L201.27 255.38L201.68 255.66L202.08 255.94L202.49 256.21L202.9 256.48L203.31 256.75L203.72 257L204.12 257.25L204.53 257.49L204.94 257.72L205.35 257.94L205.76 258.15L206.16 258.35L206.57 258.54L206.98 258.72L207.39 258.9L207.8 259.08L208.2 259.26L208.61 259.44L209.02 259.61L209.43 259.77L209.84 259.94L210.24 260.1L210.65 260.25L211.06 260.4L211.47 260.55L211.88 260.69L212.28 260.82L212.69 260.96L213.1 261.08L213.51 261.2L213.92 261.32L214.32 261.43L214.73 261.53L215.14 261.62L215.55 261.72L215.96 261.81L216.36 261.9L216.77 261.99L217.18 262.07L217.59 262.15L218 262.24L218.4 262.32L218.81 262.39L219.22 262.46L219.63 262.53L220.04 262.6L220.44 262.66L220.85 262.72L221.26 262.78L221.67 262.83L222.08 262.88L222.48 262.92L222.89 262.96L223.3 262.99" stroke="#f0282d" stroke-width="1.5" fill="none" stroke-linejoin="round"/><path d="M39.7 248.52L40.11 249.89L40.52 251.22L40.92 252.48L41.33 253.66L41.74 254.77L42.15 255.79L42.56 256.71L42.96 257.58L43.37 258.45L43.78 259.29L44.19 260.07L44.6 260.78L45 261.38L45.41 261.85L45.82 262.17L46.23 262.39L46.64 262.59L47.04 262.77L47.45 262.93L47.86 263.07L48.27 263.19L48.68 263.3L49.08 263.39L49.49 263.47L49.9 263.53L50.31 263.59L50.72 263.65L51.12 263.71L51.53 263.76L51.94 263.82L52.35 263.87L52.76 263.91L53.16 263.96L53.57 264L53.98 264.04L54.39 264.08L54.8 264.11L55.2 264.14L55.61 264.17L56.02 264.19L56.43 264.21L56.84 264.22L57.24 264.24L57.65 264.24L58.06 264.24L58.47 264.24L58.88 264.24L59.28 264.23L59.69 264.22L60.1 264.2L60.51 264.18L60.92 264.16L61.32 264.14L61.73 264.11L62.14 264.08L62.55 264.02L62.96 263.89L63.36 263.72L63.77 263.5L64.18 263.24L64.59 262.95L65 262.63L65.4 262.3L65.81 261.96L66.22 261.62L66.63 261.26L67.04 260.84L67.44 260.37L67.85 259.85L68.26 259.3L68.67 258.72L69.08 258.11L69.48 257.47L69.89 256.82L70.3 256.16L70.71 255.45L71.12 254.64L71.52 253.76L71.93 252.83L72.34 251.87L72.75 250.89L73.16 249.91L73.56 248.96L73.97 248.06L74.38 247.21L74.79 246.45L75.2 245.79L75.6 245.19L76.01 244.6L76.42 244.03L76.83 243.48L77.24 242.94L77.64 242.43L78.05 241.95L78.46 241.5L78.87 241.08L79.28 240.69L79.68 240.35L80.09 240.04L80.5 239.78L80.91 239.55L81.32 239.31L81.72 239.08L82.13 238.87L82.54 238.67L82.95 238.5L83.36 238.35L83.76 238.24L84.17 238.17L84.58 238.15L84.99 238.19L85.4 238.32L85.8 238.52L86.21 238.78L86.62 239.09L87.03 239.43L87.44 239.79L87.84 240.16L88.25 240.53L88.66 240.88L89.07 241.23L89.48 241.6L89.88 242L90.29 242.42L90.7 242.86L91.11 243.32L91.52 243.8L91.92 244.28L92.33 244.78L92.74 245.29L93.15 245.81L93.56 246.34L93.96 246.88L94.37 247.47L94.78 248.07L95.19 248.7L95.6 249.34L96 249.98L96.41 250.62L96.82 251.25L97.23 251.88L97.64 252.51L98.04 253.15L98.45 253.78L98.86 254.41L99.27 255.02L99.68 255.62L100.08 256.2L100.49 256.78L100.9 257.36L101.31 257.92L101.72 258.46L102.12 258.97L102.53 259.44L102.94 259.89L103.35 260.33L103.76 260.75L104.16 261.14L104.57 261.52L104.98 261.86L105.39 262.17L105.8 262.47L106.2 262.77L106.61 263.06L107.02 263.32L107.43 263.54L107.84 263.71L108.24 263.81L108.65 263.87L109.06 263.92L109.47 263.98L109.88 264.03L110.28 264.08L110.69 264.12L111.1 264.16L111.51 264.2L111.92 264.24L112.32 264.27L112.73 264.3L113.14 264.33L113.55 264.36L113.96 264.38L114.36 264.4L114.77 264.42L115.18 264.43L115.59 264.44L116 264.45L116.4 264.46L116.81 264.46L117.22 264.46L117.63 264.46L118.04 264.46L118.44 264.46L118.85 264.46L119.26 264.46L119.67 264.46L120.08 264.45L120.48 264.45L120.89 264.45L121.3 264.44L121.71 264.44L122.12 264.43L122.52 264.43L122.93 264.42L123.34 264.42L123.75 264.41L124.16 264.4L124.56 264.39L124.97 264.38L125.38 264.38L125.79 264.37L126.2 264.35L126.6 264.34L127.01 264.33L127.42 264.32L127.83 264.31L128.24 264.29L128.64 264.28L129.05 264.26L129.46 264.24L129.87 264.2L130.28 264.1L130.68 263.96L131.09 263.78L131.5 263.58L131.91 263.34L132.32 263.1L132.72 262.84L133.13 262.58L133.54 262.33L133.95 262.08L134.36 261.8L134.76 261.5L135.17 261.18L135.58 260.84L135.99 260.49L136.4 260.13L136.8 259.75L137.21 259.36L137.62 258.96L138.03 258.55L138.44 258.14L138.84 257.72L139.25 257.3L139.66 256.88L140.07 256.46L140.48 256.04L140.88 255.62L141.29 255.19L141.7 254.75L142.11 254.3L142.52 253.83L142.92 253.36L143.33 252.88L143.74 252.4L144.15 251.92L144.56 251.44L144.96 250.97L145.37 250.5L145.78 250.05L146.19 249.61L146.6 249.18L147 248.75L147.41 248.32L147.82 247.9L148.23 247.48L148.64 247.06L149.04 246.65L149.45 246.25L149.86 245.85L150.27 245.46L150.68 245.08L151.08 244.71L151.49 244.35L151.9 244L152.31 243.64L152.72 243.28L153.12 242.93L153.53 242.58L153.94 242.24L154.35 241.91L154.76 241.6L155.16 241.29L155.57 241.01L155.98 240.74L156.39 240.49L156.8 240.26L157.2 240.05L157.61 239.84L158.02 239.64L158.43 239.44L158.84 239.26L159.24 239.08L159.65 238.91L160.06 238.75L160.47 238.6L160.88 238.46L161.28 238.33L161.69 238.21L162.1 238.1L162.51 238L162.92 237.9L163.32 237.81L163.73 237.72L164.14 237.63L164.55 237.55L164.96 237.47L165.36 237.39L165.77 237.32L166.18 237.24L166.59 237.18L167 237.11L167.4 237.05L167.81 236.99L168.22 236.93L168.63 236.87L169.04 236.82L169.44 236.77L169.85 236.71L170.26 236.66L170.67 236.6L171.08 236.54L171.48 236.49L171.89 236.44L172.3 236.39L172.71 236.35L173.12 236.31L173.52 236.28L173.93 236.25L174.34 236.24L174.75 236.23L175.16 236.24L175.56 236.24L175.97 236.24L176.38 236.25L176.79 236.25L177.2 236.26L177.6 236.27L178.01 236.28L178.42 236.3L178.83 236.31L179.24 236.32L179.64 236.34L180.05 236.35L180.46 236.37L180.87 236.39L181.28 236.41L181.68 236.43L182.09 236.45L182.5 236.47L182.91 236.49L183.32 236.51L183.72 236.53L184.13 236.56L184.54 236.59L184.95 236.63L185.36 236.66L185.76 236.71L186.17 236.75L186.58 236.8L186.99 236.86L187.4 236.91L187.8 236.97L188.21 237.03L188.62 237.09L189.03 237.16L189.44 237.23L189.84 237.3L190.25 237.37L190.66 237.45L191.07 237.52L191.48 237.6L191.88 237.68L192.29 237.78L192.7 237.88L193.11 237.99L193.52 238.1L193.92 238.23L194.33 238.36L194.74 238.49L195.15 238.63L195.56 238.78L195.96 238.93L196.37 239.08L196.78 239.24L197.19 239.4L197.6 239.57L198 239.76L198.41 239.95L198.82 240.15L199.23 240.36L199.64 240.58L200.04 240.8L200.45 241.03L200.86 241.26L201.27 241.5L201.68 241.74L202.08 241.99L202.49 242.23L202.9 242.48L203.31 242.73L203.72 242.98L204.12 243.22L204.53 243.47L204.94 243.71L205.35 243.95L205.76 244.19L206.16 244.42L206.57 244.66L206.98 244.89L207.39 245.11L207.8 245.34L208.2 245.57L208.61 245.8L209.02 246.03L209.43 246.26L209.84 246.49L210.24 246.72L210.65 246.96L211.06 247.19L211.47 247.42L211.88 247.66L212.28 247.9L212.69 248.14L213.1 248.38L213.51 248.62L213.92 248.86L214.32 249.11L214.73 249.36L215.14 249.61L215.55 249.87L215.96 250.12L216.36 250.38L216.77 250.64L217.18 250.91L217.59 251.17L218 251.44L218.4 251.71L218.81 251.98L219.22 252.25L219.63 252.52L220.04 252.8L220.44 253.08L220.85 253.36L221.26 253.64L221.67 253.92L222.08 254.21L222.48 254.49L222.89 254.78L223.3 255.07" stroke="#2a7fd0" stroke-width="1.5" fill="none" stroke-linejoin="round"/><path d="M39.7 259.44L40.11 260.03L40.52 260.59L40.92 261.11L41.33 261.6L41.74 262.03L42.15 262.41L42.56 262.72L42.96 262.99L43.37 263.26L43.78 263.51L44.19 263.74L44.6 263.94L45 264.09L45.41 264.2L45.82 264.24L46.23 264.26L46.64 264.27L47.04 264.29L47.45 264.3L47.86 264.31L48.27 264.32L48.68 264.32L49.08 264.33L49.49 264.34L49.9 264.34L50.31 264.35L50.72 264.35L51.12 264.35L51.53 264.35L51.94 264.35L52.35 264.34L52.76 264.3L53.16 264.24L53.57 264.16L53.98 264.06L54.39 263.95L54.8 263.82L55.2 263.68L55.61 263.53L56.02 263.34L56.43 263.07L56.84 262.72L57.24 262.33L57.65 261.9L58.06 261.45L58.47 260.99L58.88 260.53L59.28 260.05L59.69 259.52L60.1 258.95L60.51 258.36L60.92 257.76L61.32 257.19L61.73 256.65L62.14 256.16L62.55 255.72L62.96 255.28L63.36 254.85L63.77 254.43L64.18 254.03L64.59 253.65L65 253.29L65.4 252.95L65.81 252.63L66.22 252.34L66.63 252.06L67.04 251.79L67.44 251.53L67.85 251.27L68.26 251.03L68.67 250.81L69.08 250.6L69.48 250.43L69.89 250.28L70.3 250.16L70.71 250.06L71.12 249.96L71.52 249.87L71.93 249.78L72.34 249.71L72.75 249.66L73.16 249.62L73.56 249.61L73.97 249.65L74.38 249.75L74.79 249.9L75.2 250.1L75.6 250.34L76.01 250.61L76.42 250.9L76.83 251.2L77.24 251.5L77.64 251.8L78.05 252.11L78.46 252.48L78.87 252.89L79.28 253.33L79.68 253.8L80.09 254.28L80.5 254.76L80.91 255.24L81.32 255.71L81.72 256.16L82.13 256.61L82.54 257.07L82.95 257.55L83.36 258.02L83.76 258.49L84.17 258.95L84.58 259.39L84.99 259.8L85.4 260.19L85.8 260.53L86.21 260.86L86.62 261.18L87.03 261.51L87.44 261.82L87.84 262.13L88.25 262.43L88.66 262.7L89.07 262.96L89.48 263.19L89.88 263.4L90.29 263.57L90.7 263.71L91.11 263.81L91.52 263.89L91.92 263.96L92.33 264.03L92.74 264.1L93.15 264.16L93.56 264.22L93.96 264.27L94.37 264.32L94.78 264.36L95.19 264.4L95.6 264.43L96 264.45L96.41 264.46L96.82 264.46L97.23 264.46L97.64 264.46L98.04 264.46L98.45 264.46L98.86 264.46L99.27 264.46L99.68 264.46L100.08 264.45L100.49 264.45L100.9 264.45L101.31 264.45L101.72 264.44L102.12 264.44L102.53 264.44L102.94 264.43L103.35 264.43L103.76 264.43L104.16 264.42L104.57 264.42L104.98 264.41L105.39 264.41L105.8 264.4L106.2 264.4L106.61 264.39L107.02 264.39L107.43 264.38L107.84 264.37L108.24 264.37L108.65 264.36L109.06 264.35L109.47 264.35L109.88 264.33L110.28 264.32L110.69 264.3L111.1 264.28L111.51 264.26L111.92 264.24L112.32 264.21L112.73 264.18L113.14 264.15L113.55 264.12L113.96 264.08L114.36 264.04L114.77 263.99L115.18 263.93L115.59 263.86L116 263.78L116.4 263.69L116.81 263.6L117.22 263.51L117.63 263.41L118.04 263.3L118.44 263.2L118.85 263.09L119.26 262.99L119.67 262.88L120.08 262.76L120.48 262.63L120.89 262.49L121.3 262.35L121.71 262.2L122.12 262.05L122.52 261.91L122.93 261.76L123.34 261.62L123.75 261.47L124.16 261.3L124.56 261.12L124.97 260.94L125.38 260.78L125.79 260.65L126.2 260.56L126.6 260.53L127.01 260.56L127.42 260.65L127.83 260.79L128.24 260.96L128.64 261.15L129.05 261.35L129.46 261.55L129.87 261.74L130.28 261.9L130.68 262.04L131.09 262.19L131.5 262.33L131.91 262.47L132.32 262.61L132.72 262.74L133.13 262.87L133.54 262.99L133.95 263.11L134.36 263.23L134.76 263.35L135.17 263.46L135.58 263.57L135.99 263.66L136.4 263.74L136.8 263.81L137.21 263.86L137.62 263.92L138.03 263.97L138.44 264.02L138.84 264.07L139.25 264.11L139.66 264.15L140.07 264.18L140.48 264.21L140.88 264.23L141.29 264.24L141.7 264.24L142.11 264.24L142.52 264.24L142.92 264.24L143.33 264.23L143.74 264.22L144.15 264.21L144.56 264.2L144.96 264.18L145.37 264.17L145.78 264.15L146.19 264.13L146.6 264.11L147 264.09L147.41 264.07L147.82 264.04L148.23 264.02L148.64 263.99L149.04 263.97L149.45 263.94L149.86 263.91L150.27 263.88L150.68 263.85L151.08 263.82L151.49 263.79L151.9 263.76L152.31 263.73L152.72 263.69L153.12 263.66L153.53 263.63L153.94 263.59L154.35 263.56L154.76 263.53L155.16 263.49L155.57 263.46L155.98 263.42L156.39 263.39L156.8 263.36L157.2 263.33L157.61 263.29L158.02 263.26L158.43 263.23L158.84 263.2L159.24 263.16L159.65 263.13L160.06 263.09L160.47 263.05L160.88 263.02L161.28 262.98L161.69 262.94L162.1 262.9L162.51 262.86L162.92 262.81L163.32 262.77L163.73 262.73L164.14 262.68L164.55 262.64L164.96 262.59L165.36 262.55L165.77 262.5L166.18 262.45L166.59 262.41L167 262.36L167.4 262.31L167.81 262.26L168.22 262.22L168.63 262.17L169.04 262.13L169.44 262.08L169.85 262.03L170.26 261.99L170.67 261.94L171.08 261.89L171.48 261.83L171.89 261.78L172.3 261.72L172.71 261.65L173.12 261.58L173.52 261.51L173.93 261.43L174.34 261.35L174.75 261.26L175.16 261.16L175.56 261.05L175.97 260.93L176.38 260.79L176.79 260.64L177.2 260.47L177.6 260.29L178.01 260.08L178.42 259.86L178.83 259.61L179.24 259.34L179.64 259.05L180.05 258.71L180.46 258.21L180.87 257.56L181.28 256.78L181.68 255.9L182.09 254.93L182.5 253.91L182.91 252.87L183.32 251.8L183.72 250.6L184.13 249.27L184.54 247.84L184.95 246.31L185.36 244.71L185.76 243.06L186.17 241.3L186.58 239.39L186.99 237.37L187.4 235.27L187.8 233.14L188.21 231.01L188.62 228.91L189.03 226.78L189.44 224.63L189.84 222.46L190.25 220.26L190.66 218.05L191.07 215.83L191.48 213.6L191.88 211.34L192.29 208.92L192.7 206.38L193.11 203.82L193.52 201.31L193.92 198.93L194.33 196.76L194.74 194.88L195.15 193.32L195.56 191.79L195.96 190.29L196.37 188.94L196.78 187.83L197.19 187.09L197.6 186.82L198 187.18L198.41 188.13L198.82 189.5L199.23 191.13L199.64 192.83L200.04 194.94L200.45 197.74L200.86 200.96L201.27 204.3L201.68 207.51L202.08 210.3L202.49 212.73L202.9 215.03L203.31 217.24L203.72 219.37L204.12 221.44L204.53 223.47L204.94 225.49L205.35 227.51L205.76 229.54L206.16 231.58L206.57 233.62L206.98 235.63L207.39 237.63L207.8 239.59L208.2 241.5L208.61 243.36L209.02 245.16L209.43 246.88L209.84 248.61L210.24 250.38L210.65 252.14L211.06 253.84L211.47 255.42L211.88 256.82L212.28 258L212.69 258.89L213.1 259.61L213.51 260.29L213.92 260.93L214.32 261.51L214.73 262.04L215.14 262.5L215.55 262.89L215.96 263.2L216.36 263.43L216.77 263.55L217.18 263.65L217.59 263.74L218 263.82L218.4 263.9L218.81 263.97L219.22 264.03L219.63 264.09L220.04 264.15L220.44 264.2L220.85 264.24L221.26 264.27L221.67 264.3L222.08 264.32L222.48 264.34L222.89 264.35L223.3 264.35" stroke="#3cb43c" stroke-width="1.5" fill="none" stroke-linejoin="round"/><path d="M39.7 263.81L40.11 263.87L40.52 263.93L40.92 263.99L41.33 264.05L41.74 264.1L42.15 264.15L42.56 264.19L42.96 264.22L43.37 264.24L43.78 264.24L44.19 264.24L44.6 264.24L45 264.24L45.41 264.24L45.82 264.24L46.23 264.24L46.64 264.24L47.04 264.24L47.45 264.24L47.86 264.24L48.27 264.24L48.68 264.24L49.08 264.24L49.49 264.24L49.9 264.24L50.31 264.24L50.72 264.24L51.12 264.24L51.53 264.24L51.94 264.24L52.35 264.22L52.76 264.15L53.16 264.04L53.57 263.89L53.98 263.71L54.39 263.49L54.8 263.25L55.2 262.99L55.61 262.72L56.02 262.32L56.43 261.75L56.84 261.05L57.24 260.26L57.65 259.44L58.06 258.55L58.47 257.54L58.88 256.43L59.28 255.23L59.69 253.98L60.1 252.63L60.51 251.15L60.92 249.58L61.32 247.95L61.73 246.31L62.14 244.7L62.55 243.01L62.96 241.21L63.36 239.43L63.77 237.82L64.18 236.51L64.59 235.42L65 234.39L65.4 233.44L65.81 232.56L66.22 231.76L66.63 231.06L67.04 230.46L67.44 229.96L67.85 229.51L68.26 229.07L68.67 228.65L69.08 228.27L69.48 227.92L69.89 227.64L70.3 227.42L70.71 227.28L71.12 227.23L71.52 227.27L71.93 227.38L72.34 227.56L72.75 227.8L73.16 228.08L73.56 228.39L73.97 228.72L74.38 229.07L74.79 229.41L75.2 229.8L75.6 230.28L76.01 230.82L76.42 231.41L76.83 232.02L77.24 232.63L77.64 233.23L78.05 233.82L78.46 234.41L78.87 235.01L79.28 235.63L79.68 236.26L80.09 236.92L80.5 237.6L80.91 238.31L81.32 239.05L81.72 239.81L82.13 240.6L82.54 241.4L82.95 242.22L83.36 243.06L83.76 243.92L84.17 244.81L84.58 245.73L84.99 246.66L85.4 247.59L85.8 248.52L86.21 249.45L86.62 250.39L87.03 251.34L87.44 252.29L87.84 253.23L88.25 254.16L88.66 255.07L89.07 255.98L89.48 256.9L89.88 257.81L90.29 258.69L90.7 259.51L91.11 260.26L91.52 260.97L91.92 261.67L92.33 262.31L92.74 262.86L93.15 263.26L93.56 263.58L93.96 263.87L94.37 264.11L94.78 264.28L95.19 264.35L95.6 264.37L96 264.39L96.41 264.4L96.82 264.41L97.23 264.42L97.64 264.43L98.04 264.44L98.45 264.45L98.86 264.45L99.27 264.46L99.68 264.46L100.08 264.46L100.49 264.46L100.9 264.46L101.31 264.46L101.72 264.46L102.12 264.46L102.53 264.46L102.94 264.46L103.35 264.46L103.76 264.46L104.16 264.46L104.57 264.46L104.98 264.46L105.39 264.45L105.8 264.4L106.2 264.32L106.61 264.21L107.02 264.09L107.43 263.96L107.84 263.81L108.24 263.61L108.65 263.32L109.06 262.95L109.47 262.54L109.88 262.09L110.28 261.62L110.69 261.11L111.1 260.52L111.51 259.86L111.92 259.15L112.32 258.4L112.73 257.63L113.14 256.85L113.55 256.07L113.96 255.31L114.36 254.54L114.77 253.74L115.18 252.92L115.59 252.1L116 251.27L116.4 250.44L116.81 249.61L117.22 248.78L117.63 247.93L118.04 247.08L118.44 246.23L118.85 245.39L119.26 244.59L119.67 243.82L120.08 243.11L120.48 242.44L120.89 241.79L121.3 241.14L121.71 240.48L122.12 239.78L122.52 239.04L122.93 238.25L123.34 237.45L123.75 236.66L124.16 235.91L124.56 235.22L124.97 234.57L125.38 233.95L125.79 233.35L126.2 232.76L126.6 232.19L127.01 231.63L127.42 231.07L127.83 230.52L128.24 229.96L128.64 229.4L129.05 228.86L129.46 228.33L129.87 227.81L130.28 227.28L130.68 226.73L131.09 226.17L131.5 225.59L131.91 224.99L132.32 224.37L132.72 223.73L133.13 223.05L133.54 222.31L133.95 221.5L134.36 220.61L134.76 219.66L135.17 218.68L135.58 217.69L135.99 216.71L136.4 215.76L136.8 214.77L137.21 213.71L137.62 212.66L138.03 211.68L138.44 210.87L138.84 210.3L139.25 209.89L139.66 209.52L140.07 209.19L140.48 208.9L140.88 208.67L141.29 208.5L141.7 208.39L142.11 208.32L142.52 208.25L142.92 208.2L143.33 208.15L143.74 208.13L144.15 208.12L144.56 208.19L144.96 208.38L145.37 208.67L145.78 209.03L146.19 209.44L146.6 209.87L147 210.3L147.41 210.75L147.82 211.28L148.23 211.87L148.64 212.52L149.04 213.21L149.45 213.94L149.86 214.69L150.27 215.46L150.68 216.23L151.08 217L151.49 217.76L151.9 218.49L152.31 219.22L152.72 219.98L153.12 220.75L153.53 221.54L153.94 222.34L154.35 223.15L154.76 223.95L155.16 224.76L155.57 225.55L155.98 226.34L156.39 227.11L156.8 227.86L157.2 228.59L157.61 229.29L158.02 229.96L158.43 230.58L158.84 231.15L159.24 231.69L159.65 232.21L160.06 232.73L160.47 233.26L160.88 233.82L161.28 234.42L161.69 235.07L162.1 235.8L162.51 236.72L162.92 237.75L163.32 238.82L163.73 239.84L164.14 240.74L164.55 241.42L164.96 241.99L165.36 242.52L165.77 242.91L166.18 243.06L166.59 243.03L167 242.95L167.4 242.83L167.81 242.67L168.22 242.5L168.63 242.32L169.04 242.14L169.44 241.97L169.85 241.78L170.26 241.56L170.67 241.32L171.08 241.05L171.48 240.79L171.89 240.53L172.3 240.29L172.71 240.09L173.12 239.93L173.52 239.82L173.93 239.78L174.34 239.84L174.75 240.01L175.16 240.27L175.56 240.59L175.97 240.96L176.38 241.36L176.79 241.76L177.2 242.15L177.6 242.51L178.01 242.9L178.42 243.35L178.83 243.85L179.24 244.35L179.64 244.82L180.05 245.23L180.46 245.55L180.87 245.75L181.28 245.79L181.68 245.73L182.09 245.61L182.5 245.44L182.91 245.24L183.32 244.95L183.72 244.49L184.13 243.88L184.54 243.15L184.95 242.32L185.36 241.34L185.76 239.97L186.17 238.26L186.58 236.28L186.99 234.1L187.4 231.82L187.8 229.49L188.21 227.1L188.62 224.55L189.03 221.78L189.44 218.72L189.84 215.3L190.25 211.44L190.66 206.58L191.07 199.68L191.48 192.8L191.88 187.83L192.29 183.58L192.7 179.72L193.11 176.31L193.52 173.38L193.92 170.99L194.33 168.85L194.74 166.76L195.15 164.87L195.56 163.33L195.96 162.3L196.37 161.92L196.78 162.25L197.19 163.16L197.6 164.57L198 166.4L198.41 168.57L198.82 170.99L199.23 175.46L199.64 182.1L200.04 188.32L200.45 192.14L200.86 194.9L201.27 197.22L201.68 199.53L202.08 202.25L202.49 205.68L202.9 209.7L203.31 214.15L203.72 218.85L204.12 223.67L204.53 228.61L204.94 234.12L205.35 239.8L205.76 245.16L206.16 249.72L206.57 253.85L206.98 257.93L207.39 261.46L207.8 263.99L208.2 265.11L208.61 265.72L209.02 266.22L209.43 266.58L209.84 266.78L210.24 266.8L210.65 266.65L211.06 266.4L211.47 266.1L211.88 265.81L212.28 265.57L212.69 265.45L213.1 265.4L213.51 265.36L213.92 265.32L214.32 265.28L214.73 265.24L215.14 265.21L215.55 265.18L215.96 265.15L216.36 265.12L216.77 265.09L217.18 265.07L217.59 265.05L218 265.02L218.4 265L218.81 264.99L219.22 264.97L219.63 264.96L220.04 264.95L220.44 264.93L220.85 264.93L221.26 264.92L221.67 264.91L222.08 264.91L222.48 264.9L222.89 264.9L223.3 264.9" stroke="#9b3fc2" stroke-width="1.5" fill="none" stroke-linejoin="round"/><path d="M39.7 260.53L40.11 260.69L40.52 260.83L40.92 260.97L41.33 261.09L41.74 261.2L42.15 261.29L42.56 261.35L42.96 261.4L43.37 261.45L43.78 261.5L44.19 261.54L44.6 261.58L45 261.6L45.41 261.62L45.82 261.62L46.23 261.59L46.64 261.5L47.04 261.36L47.45 261.19L47.86 260.99L48.27 260.78L48.68 260.56L49.08 260.35L49.49 260.15L49.9 259.99L50.31 259.83L50.72 259.65L51.12 259.47L51.53 259.29L51.94 259.14L52.35 259.01L52.76 258.92L53.16 258.89L53.57 258.95L53.98 259.09L54.39 259.29L54.8 259.53L55.2 259.79L55.61 260.04L56.02 260.26L56.43 260.48L56.84 260.73L57.24 260.99L57.65 261.23L58.06 261.43L58.47 261.57L58.88 261.62L59.28 261.58L59.69 261.47L60.1 261.29L60.51 261.07L60.92 260.81L61.32 260.53L61.73 260.12L62.14 259.5L62.55 258.74L62.96 257.9L63.36 257.06L63.77 256.27L64.18 255.62L64.59 255.02L65 254.38L65.4 253.74L65.81 253.14L66.22 252.6L66.63 252.18L67.04 251.9L67.44 251.8L67.85 251.95L68.26 252.36L68.67 252.95L69.08 253.65L69.48 254.39L69.89 255.07L70.3 255.8L70.71 256.64L71.12 257.55L71.52 258.46L71.93 259.3L72.34 260.01L72.75 260.53L73.16 260.91L73.56 261.26L73.97 261.56L74.38 261.81L74.79 262.02L75.2 262.17L75.6 262.29L76.01 262.4L76.42 262.51L76.83 262.59L77.24 262.66L77.64 262.7L78.05 262.72L78.46 262.72L78.87 262.72L79.28 262.72L79.68 262.72L80.09 262.72L80.5 262.72L80.91 262.72L81.32 262.72L81.72 262.72L82.13 262.72L82.54 262.72L82.95 262.72L83.36 262.72L83.76 262.72L84.17 262.72L84.58 262.72L84.99 262.72L85.4 262.72L85.8 262.72L86.21 262.72L86.62 262.72L87.03 262.72L87.44 262.72L87.84 262.72L88.25 262.72L88.66 262.72L89.07 262.72L89.48 262.72L89.88 262.72L90.29 262.72L90.7 262.72L91.11 262.72L91.52 262.72L91.92 262.72L92.33 262.73L92.74 262.74L93.15 262.75L93.56 262.76L93.96 262.77L94.37 262.79L94.78 262.8L95.19 262.82L95.6 262.84L96 262.85L96.41 262.87L96.82 262.89L97.23 262.9L97.64 262.92L98.04 262.93L98.45 262.95L98.86 262.96L99.27 262.97L99.68 262.98L100.08 262.98L100.49 262.99L100.9 262.99L101.31 262.99L101.72 262.99L102.12 262.99L102.53 262.99L102.94 262.99L103.35 262.99L103.76 262.99L104.16 262.99L104.57 262.99L104.98 262.99L105.39 262.99L105.8 262.99L106.2 262.99L106.61 262.99L107.02 262.99L107.43 262.99L107.84 262.99L108.24 262.99L108.65 262.99L109.06 262.99L109.47 262.98L109.88 262.97L110.28 262.95L110.69 262.92L111.1 262.88L111.51 262.83L111.92 262.78L112.32 262.72L112.73 262.65L113.14 262.58L113.55 262.5L113.96 262.42L114.36 262.33L114.77 262.24L115.18 262.15L115.59 262.05L116 261.95L116.4 261.84L116.81 261.73L117.22 261.62L117.63 261.5L118.04 261.33L118.44 261.14L118.85 260.93L119.26 260.69L119.67 260.44L120.08 260.18L120.48 259.91L120.89 259.65L121.3 259.39L121.71 259.13L122.12 258.89L122.52 258.68L122.93 258.48L123.34 258.29L123.75 258.09L124.16 257.86L124.56 257.59L124.97 257.26L125.38 256.78L125.79 256.09L126.2 255.22L126.6 254.22L127.01 253.1L127.42 251.9L127.83 250.67L128.24 249.41L128.64 248.18L129.05 247L129.46 245.89L129.87 244.72L130.28 243.48L130.68 242.21L131.09 240.94L131.5 239.7L131.91 238.53L132.32 237.46L132.72 236.52L133.13 235.74L133.54 234.96L133.95 234.21L134.36 233.57L134.76 233.13L135.17 232.96L135.58 233.15L135.99 233.65L136.4 234.35L136.8 235.16L137.21 235.96L137.62 236.8L138.03 237.76L138.44 238.82L138.84 239.98L139.25 241.19L139.66 242.46L140.07 243.75L140.48 245.05L140.88 246.34L141.29 247.69L141.7 249.18L142.11 250.73L142.52 252.3L142.92 253.82L143.33 255.24L143.74 256.5L144.15 257.56L144.56 258.58L144.96 259.59L145.37 260.56L145.78 261.44L146.19 262.19L146.6 262.78L147 263.16L147.41 263.33L147.82 263.46L148.23 263.57L148.64 263.68L149.04 263.77L149.45 263.85L149.86 263.92L150.27 263.98L150.68 264.02L151.08 264.05L151.49 264.07L151.9 264.08L152.31 264.08L152.72 264.08L153.12 264.08L153.53 264.08L153.94 264.08L154.35 264.08L154.76 264.08L155.16 264.08L155.57 264.08L155.98 264.08L156.39 264.08L156.8 264.07L157.2 264.07L157.61 264.07L158.02 264.07L158.43 264.07L158.84 264.07L159.24 264.07L159.65 264.06L160.06 264.06L160.47 264.06L160.88 264.06L161.28 264.05L161.69 264.05L162.1 264.05L162.51 264.05L162.92 264.05L163.32 264.04L163.73 264.04L164.14 264.04L164.55 264.03L164.96 264.03L165.36 264.03L165.77 264.02L166.18 264.02L166.59 264.02L167 264.01L167.4 264.01L167.81 264.01L168.22 264L168.63 264L169.04 263.99L169.44 263.99L169.85 263.99L170.26 263.98L170.67 263.98L171.08 263.97L171.48 263.97L171.89 263.96L172.3 263.96L172.71 263.95L173.12 263.95L173.52 263.94L173.93 263.94L174.34 263.93L174.75 263.93L175.16 263.92L175.56 263.92L175.97 263.91L176.38 263.91L176.79 263.9L177.2 263.89L177.6 263.89L178.01 263.88L178.42 263.88L178.83 263.87L179.24 263.86L179.64 263.86L180.05 263.85L180.46 263.84L180.87 263.84L181.28 263.83L181.68 263.82L182.09 263.82L182.5 263.81L182.91 263.8L183.32 263.79L183.72 263.77L184.13 263.75L184.54 263.72L184.95 263.7L185.36 263.67L185.76 263.63L186.17 263.6L186.58 263.56L186.99 263.53L187.4 263.49L187.8 263.45L188.21 263.41L188.62 263.37L189.03 263.33L189.44 263.29L189.84 263.26L190.25 263.22L190.66 263.19L191.07 263.15L191.48 263.12L191.88 263.09L192.29 263.07L192.7 263.04L193.11 263.03L193.52 263.01L193.92 263L194.33 262.99L194.74 262.99L195.15 262.99L195.56 263L195.96 263.01L196.37 263.02L196.78 263.04L197.19 263.06L197.6 263.09L198 263.12L198.41 263.14L198.82 263.18L199.23 263.21L199.64 263.24L200.04 263.28L200.45 263.32L200.86 263.36L201.27 263.39L201.68 263.43L202.08 263.47L202.49 263.51L202.9 263.55L203.31 263.58L203.72 263.62L204.12 263.65L204.53 263.68L204.94 263.71L205.35 263.73L205.76 263.76L206.16 263.78L206.57 263.79L206.98 263.81L207.39 263.82L207.8 263.83L208.2 263.84L208.61 263.85L209.02 263.86L209.43 263.87L209.84 263.88L210.24 263.89L210.65 263.9L211.06 263.91L211.47 263.92L211.88 263.93L212.28 263.94L212.69 263.95L213.1 263.96L213.51 263.97L213.92 263.98L214.32 263.99L214.73 263.99L215.14 264L215.55 264.01L215.96 264.01L216.36 264.02L216.77 264.03L217.18 264.03L217.59 264.04L218 264.05L218.4 264.05L218.81 264.06L219.22 264.06L219.63 264.06L220.04 264.07L220.44 264.07L220.85 264.07L221.26 264.08L221.67 264.08L222.08 264.08L222.48 264.08L222.89 264.08L223.3 264.08" stroke="#ff7f0e" stroke-width="1.5" fill="none" stroke-linejoin="round"/><path d="M39.7 258.35L40.11 259.05L40.52 259.65L40.92 260.15L41.33 260.55L41.74 260.84L42.15 261.02L42.56 261.08L42.96 261.01L43.37 260.83L43.78 260.55L44.19 260.21L44.6 259.83L45 259.44L45.41 258.9L45.82 258.13L46.23 257.23L46.64 256.31L47.04 255.48L47.45 254.85L47.86 254.53L48.27 254.41L48.68 254.34L49.08 254.29L49.49 254.24L49.9 254.19L50.31 254.11L50.72 253.98L51.12 253.37L51.53 251.97L51.94 250.03L52.35 247.75L52.76 245.35L53.16 243.06L53.57 240.59L53.98 237.86L54.39 235.42L54.8 233.47L55.2 231.73L55.61 229.96L56.02 227.94L56.43 225.81L56.84 223.84L57.24 222.31L57.65 221.08L58.06 219.9L58.47 218.9L58.88 218.2L59.28 217.94L59.69 218.09L60.1 218.48L60.51 219.07L60.92 219.8L61.32 220.62L61.73 221.47L62.14 222.31L62.55 223.27L62.96 224.47L63.36 225.79L63.77 227.15L64.18 228.46L64.59 229.61L65 230.5L65.4 231.18L65.81 231.78L66.22 232.3L66.63 232.79L67.04 233.28L67.44 233.78L67.85 234.29L68.26 234.79L68.67 235.28L69.08 235.76L69.48 236.23L69.89 236.69L70.3 237.15L70.71 237.61L71.12 238.07L71.52 238.53L71.93 238.99L72.34 239.46L72.75 239.94L73.16 240.42L73.56 240.92L73.97 241.43L74.38 241.96L74.79 242.5L75.2 243.06L75.6 243.65L76.01 244.29L76.42 244.95L76.83 245.65L77.24 246.36L77.64 247.09L78.05 247.84L78.46 248.58L78.87 249.32L79.28 250.06L79.68 250.78L80.09 251.48L80.5 252.16L80.91 252.81L81.32 253.41L81.72 253.98L82.13 254.53L82.54 255.1L82.95 255.64L83.36 256.16L83.76 256.61L84.17 256.98L84.58 257.26L84.99 257.47L85.4 257.67L85.8 257.85L86.21 258.02L86.62 258.15L87.03 258.26L87.44 258.32L87.84 258.35L88.25 258.32L88.66 258.25L89.07 258.15L89.48 258L89.88 257.84L90.29 257.65L90.7 257.46L91.11 257.26L91.52 257.04L91.92 256.78L92.33 256.47L92.74 256.09L93.15 255.63L93.56 255.07L93.96 254L94.37 252.26L94.78 250.24L95.19 248.32L95.6 246.88L96 245.77L96.41 244.83L96.82 244.42L97.23 244.55L97.64 244.88L98.04 245.34L98.45 245.85L98.86 246.34L99.27 246.91L99.68 247.62L100.08 248.32L100.49 248.85L100.9 249.07L101.31 248.93L101.72 248.57L102.12 248.06L102.53 247.47L102.94 246.88L103.35 246.23L103.76 245.43L104.16 244.54L104.57 243.63L104.98 242.75L105.39 241.97L105.8 241.25L106.2 240.54L106.61 239.84L107.02 239.17L107.43 238.52L107.84 237.9L108.24 237.33L108.65 236.8L109.06 236.32L109.47 235.88L109.88 235.45L110.28 235.05L110.69 234.67L111.1 234.31L111.51 233.96L111.92 233.63L112.32 233.3L112.73 232.99L113.14 232.69L113.55 232.37L113.96 232.02L114.36 231.68L114.77 231.35L115.18 231.06L115.59 230.82L116 230.67L116.4 230.61L116.81 230.65L117.22 230.74L117.63 230.9L118.04 231.09L118.44 231.33L118.85 231.58L119.26 231.86L119.67 232.14L120.08 232.53L120.48 233.07L120.89 233.69L121.3 234.29L121.71 234.81L122.12 235.14L122.52 235.36L122.93 235.56L123.34 235.75L123.75 235.91L124.16 236.04L124.56 236.15L124.97 236.21L125.38 236.23L125.79 235.99L126.2 235.37L126.6 234.52L127.01 233.57L127.42 232.69L127.83 231.92L128.24 231.08L128.64 229.96L129.05 227.99L129.46 225.11L129.87 221.78L130.28 218.49L130.68 215.17L131.09 211.62L131.5 208.09L131.91 204.84L132.32 202.05L132.72 199.44L133.13 196.65L133.54 193.3L133.95 189.6L134.36 186.01L134.76 183L135.17 180.48L135.58 178.15L135.99 176.2L136.4 174.81L136.8 173.78L137.21 172.96L137.62 172.63L138.03 172.86L138.44 173.47L138.84 174.33L139.25 175.44L139.66 177.43L140.07 180.07L140.48 183L140.88 186.26L141.29 190.14L141.7 194.63L142.11 200L142.52 206.66L142.92 214.47L143.33 224.13L143.74 232.14L144.15 237.27L144.56 241.31L144.96 244.68L145.37 247.56L145.78 250.08L146.19 252.4L146.6 254.57L147 256.46L147.41 258L147.82 259.44L148.23 260.69L148.64 261.56L149.04 261.94L149.45 262.2L149.86 262.41L150.27 262.57L150.68 262.67L151.08 262.72L151.49 262.73L151.9 262.73L152.31 262.74L152.72 262.75L153.12 262.76L153.53 262.77L153.94 262.78L154.35 262.78L154.76 262.79L155.16 262.8L155.57 262.8L155.98 262.81L156.39 262.82L156.8 262.82L157.2 262.83L157.61 262.83L158.02 262.84L158.43 262.85L158.84 262.85L159.24 262.86L159.65 262.86L160.06 262.86L160.47 262.87L160.88 262.87L161.28 262.88L161.69 262.88L162.1 262.88L162.51 262.89L162.92 262.89L163.32 262.89L163.73 262.9L164.14 262.9L164.55 262.9L164.96 262.9L165.36 262.91L165.77 262.91L166.18 262.91L166.59 262.91L167 262.92L167.4 262.92L167.81 262.92L168.22 262.92L168.63 262.92L169.04 262.93L169.44 262.93L169.85 262.93L170.26 262.93L170.67 262.93L171.08 262.93L171.48 262.94L171.89 262.94L172.3 262.94L172.71 262.94L173.12 262.94L173.52 262.94L173.93 262.94L174.34 262.95L174.75 262.95L175.16 262.95L175.56 262.95L175.97 262.95L176.38 262.95L176.79 262.96L177.2 262.96L177.6 262.96L178.01 262.96L178.42 262.96L178.83 262.97L179.24 262.97L179.64 262.97L180.05 262.97L180.46 262.98L180.87 262.98L181.28 262.98L181.68 262.98L182.09 262.99L182.5 262.99L182.91 262.99L183.32 263L183.72 263L184.13 263L184.54 263L184.95 263.01L185.36 263.01L185.76 263.01L186.17 263.02L186.58 263.02L186.99 263.02L187.4 263.03L187.8 263.03L188.21 263.03L188.62 263.03L189.03 263.04L189.44 263.04L189.84 263.04L190.25 263.05L190.66 263.05L191.07 263.05L191.48 263.06L191.88 263.06L192.29 263.06L192.7 263.06L193.11 263.07L193.52 263.07L193.92 263.07L194.33 263.08L194.74 263.08L195.15 263.08L195.56 263.09L195.96 263.09L196.37 263.09L196.78 263.09L197.19 263.1L197.6 263.1L198 263.1L198.41 263.11L198.82 263.11L199.23 263.11L199.64 263.11L200.04 263.12L200.45 263.12L200.86 263.12L201.27 263.12L201.68 263.13L202.08 263.13L202.49 263.13L202.9 263.14L203.31 263.14L203.72 263.14L204.12 263.14L204.53 263.15L204.94 263.15L205.35 263.15L205.76 263.15L206.16 263.16L206.57 263.16L206.98 263.16L207.39 263.17L207.8 263.17L208.2 263.17L208.61 263.17L209.02 263.18L209.43 263.18L209.84 263.18L210.24 263.18L210.65 263.19L211.06 263.19L211.47 263.19L211.88 263.19L212.28 263.2L212.69 263.2L213.1 263.2L213.51 263.2L213.92 263.21L214.32 263.21L214.73 263.21L215.14 263.21L215.55 263.22L215.96 263.22L216.36 263.22L216.77 263.22L217.18 263.23L217.59 263.23L218 263.23L218.4 263.23L218.81 263.24L219.22 263.24L219.63 263.24L220.04 263.24L220.44 263.25L220.85 263.25L221.26 263.25L221.67 263.25L222.08 263.26L222.48 263.26L222.89 263.26L223.3 263.26" stroke="#fff01e" stroke-width="1.5" fill="none" stroke-linejoin="round"/></g>
<path d="M39.7 161.6H223.3V266.3" fill="none" stroke="#4a4a4a" stroke-width="0.9"/>
<path d="M39.7 161.6V266.3H223.3" fill="none" stroke="#111" stroke-width="1"/>
<path d="M43.78 266.3v1.7M51.94 266.3v1.7M60.1 266.3v3.2M68.26 266.3v1.7M76.42 266.3v1.7M84.58 266.3v1.7M92.74 266.3v1.7M100.9 266.3v3.2M109.06 266.3v1.7M117.22 266.3v1.7M125.38 266.3v1.7M133.54 266.3v1.7M141.7 266.3v3.2M149.86 266.3v1.7M158.02 266.3v1.7M166.18 266.3v1.7M174.34 266.3v1.7M182.5 266.3v3.2M190.66 266.3v1.7M198.82 266.3v1.7M206.98 266.3v1.7M215.14 266.3v1.7M223.3 266.3v3.2M39.7 264.9h-3.4M39.7 259.44h-1.8M39.7 253.98h-1.8M39.7 248.52h-1.8M39.7 243.06h-1.8M39.7 237.6h-3.4M39.7 232.14h-1.8M39.7 226.68h-1.8M39.7 221.22h-1.8M39.7 215.76h-1.8M39.7 210.3h-3.4M39.7 204.84h-1.8M39.7 199.38h-1.8M39.7 193.92h-1.8M39.7 188.46h-1.8M39.7 183h-3.4M39.7 177.54h-1.8M39.7 172.08h-1.8M39.7 166.62h-1.8" stroke="#111" stroke-width="0.9" fill="none"/>
<text x="60.1" y="279.4" font-size="8" text-anchor="middle" fill="#111">400</text>
<text x="100.9" y="279.4" font-size="8" text-anchor="middle" fill="#111">500</text>
<text x="141.7" y="279.4" font-size="8" text-anchor="middle" fill="#111">600</text>
<text x="182.5" y="279.4" font-size="8" text-anchor="middle" fill="#111">700</text>
<text x="223.3" y="279.4" font-size="8" text-anchor="middle" fill="#111">800</text>
<text x="34.6" y="267.2" font-size="8" text-anchor="end" fill="#111">0.0</text>
<text x="34.6" y="239.9" font-size="8" text-anchor="end" fill="#111">0.5</text>
<text x="34.6" y="212.6" font-size="8" text-anchor="end" fill="#111">1.0</text>
<text x="34.6" y="185.3" font-size="8" text-anchor="end" fill="#111">1.5</text>
<text x="131.7" y="293" font-size="9.1" text-anchor="middle" fill="#111">Wavelength (nm)</text>
<text transform="translate(15.4 226.4) rotate(-90)" font-size="9.1" text-anchor="middle" fill="#111">Reflectance &amp; Transmittance</text>
<text x="13.8" y="143.5" font-size="10.4" fill="#111">(b)</text>
<text x="15.5" y="13.3" font-size="10" fill="#111">(a)</text>
<rect x="44.2" y="153.4" width="123" height="14.9" fill="#fff" stroke="#8a8a8a" stroke-width="0.5"/>
<rect x="44.5" y="153.7" width="46.6" height="4.9" fill="#fff" stroke="#8a8a8a" stroke-width="0.45"/>
<text x="45" y="157.5" font-size="4.05" fill="#000" stroke="#000" stroke-width="0.08">Incidence angle [degrees]</text>
<text x="44.6" y="162.1" font-size="3.9" fill="#000" stroke="#000" stroke-width="0.1">R</text><text x="44.6" y="167.2" font-size="3.9" fill="#000" stroke="#000" stroke-width="0.1">T</text>
<path d="M47.2 160.8h9.2" stroke="#f0282d" stroke-width="1.2"/>
<path d="M48 165.9h9.2" stroke="#f0282d" stroke-width="0.9" stroke-dasharray="1.8 2.1"/>
<text x="57.4" y="162.1" font-size="3.9" fill="#000" stroke="#000" stroke-width="0.1">20TE</text><text x="57.4" y="167.2" font-size="3.9" fill="#000" stroke="#000" stroke-width="0.1">20TE</text>
<path d="M67.2 160.8h9.2" stroke="#2a7fd0" stroke-width="1.2"/>
<path d="M68 165.9h9.2" stroke="#2a7fd0" stroke-width="0.9" stroke-dasharray="1.8 2.1"/>
<text x="77.4" y="162.1" font-size="3.9" fill="#000" stroke="#000" stroke-width="0.1">20TM</text><text x="77.4" y="167.2" font-size="3.9" fill="#000" stroke="#000" stroke-width="0.1">20TM</text>
<path d="M87.2 160.8h9.2" stroke="#3cb43c" stroke-width="1.2"/>
<path d="M88 165.9h9.2" stroke="#3cb43c" stroke-width="0.9" stroke-dasharray="1.8 2.1"/>
<text x="97.4" y="162.1" font-size="3.9" fill="#000" stroke="#000" stroke-width="0.1">40TE</text><text x="97.4" y="167.2" font-size="3.9" fill="#000" stroke="#000" stroke-width="0.1">40TE</text>
<path d="M107.2 160.8h9.2" stroke="#9b3fc2" stroke-width="1.2"/>
<path d="M108 165.9h9.2" stroke="#9b3fc2" stroke-width="0.9" stroke-dasharray="1.8 2.1"/>
<text x="117.4" y="162.1" font-size="3.9" fill="#000" stroke="#000" stroke-width="0.1">40TM</text><text x="117.4" y="167.2" font-size="3.9" fill="#000" stroke="#000" stroke-width="0.1">40TM</text>
<path d="M127.2 160.8h9.2" stroke="#ff7f0e" stroke-width="1.2"/>
<path d="M128 165.9h9.2" stroke="#ff7f0e" stroke-width="0.9" stroke-dasharray="1.8 2.1"/>
<text x="137.4" y="162.1" font-size="3.9" fill="#000" stroke="#000" stroke-width="0.1">60TE</text><text x="137.4" y="167.2" font-size="3.9" fill="#000" stroke="#000" stroke-width="0.1">60TE</text>
<path d="M147.2 160.8h9.2" stroke="#fff01e" stroke-width="1.2"/>
<path d="M148 165.9h9.2" stroke="#fff01e" stroke-width="0.9" stroke-dasharray="1.8 2.1"/>
<text x="157.4" y="162.1" font-size="3.9" fill="#000" stroke="#000" stroke-width="0.1">60TM</text><text x="157.4" y="167.2" font-size="3.9" fill="#000" stroke="#000" stroke-width="0.1">60TM</text>
<defs><pattern id="grid" width="2.2" height="2.2" patternUnits="userSpaceOnUse" x="57.7" y="21.8"><path d="M0 0.4H2.2M0.4 0V2.2" stroke="#727272" stroke-opacity="0.32" stroke-width="0.78"/></pattern><filter id="glow" x="-10%" y="-40%" width="120%" height="180%"><feGaussianBlur stdDeviation="0.6"/></filter></defs>
<rect x="57.7" y="21.8" width="155.3" height="113" fill="#030303"/>
<rect x="65.9" y="28.7" width="139.3" height="99.1" fill="#21150c"/>
<rect x="120.8" y="28.7" width="29.5" height="99.1" fill="#d94838"/>
<rect x="132.8" y="28.7" width="5.4" height="99.1" fill="#5ccdb9"/>
<rect x="57.7" y="21.8" width="155.3" height="113" fill="url(#grid)"/>
<path d="M69.5 30.3H201.5V126.3H69.5ZM69.5 78.8H201.5M175.3 30.3V126.3" fill="none" stroke="#989024" stroke-width="1"/>
<path d="M120.6 29.5V127M150.4 29.5V127" fill="none" stroke="#c09a2a" stroke-width="1.1"/>
<path d="M96.2 21.8V134.8" stroke="#a8a8b8" stroke-width="0.9"/>
<rect x="65.9" y="28.7" width="139.3" height="99.1" fill="none" stroke="#ff9a10" stroke-width="1.7"/>
<rect x="66.4" y="29.2" width="138.3" height="98.1" fill="none" stroke="#e03010" stroke-width="0.5" stroke-dasharray="0.8 1.4" opacity="0.7"/>
<path d="M81.5 73.9L111.5 82.3" stroke="#1b4fb4" stroke-width="1.25"/><path d="M79.4 73.3l4.2 -0.6l-0.9 3.2zM113.6 82.9l-4.2 0.6l0.9 -3.2z" fill="#1b4fb4"/>
<path d="M96.3 77.5L110 66.1" stroke="#b030c8" stroke-width="1.25"/><path d="M112.4 64.1l-2.1 4.1l-2.4 -2.9z" fill="#b030c8"/>
<rect x="72.6" y="61.8" width="25.6" height="8" rx="1.6" fill="#fff" filter="url(#glow)"/><text x="74" y="68.3" font-size="7" fill="#fff" stroke="#fff" stroke-width="3.4" stroke-linejoin="round" filter="url(#glow)">E – pol.</text><text x="74" y="68.3" font-size="7" fill="#fff" stroke="#fff" stroke-width="2.4" stroke-linejoin="round">E – pol.</text><text x="74" y="68.3" font-size="7" fill="#1f86d6" stroke="#1f86d6" stroke-width="0.12">E – pol.</text>
<rect x="106.2" y="70.2" width="26" height="7.6" rx="1.6" fill="#fff" filter="url(#glow)"/><text x="107.2" y="76.5" font-size="6.6" fill="#fff" stroke="#fff" stroke-width="3.4" stroke-linejoin="round" filter="url(#glow)">k-vector</text><text x="107.2" y="76.5" font-size="6.6" fill="#fff" stroke="#fff" stroke-width="2.4" stroke-linejoin="round">k-vector</text><text x="107.2" y="76.5" font-size="6.6" fill="#8a32b4" stroke="#8a32b4" stroke-width="0.12">k-vector</text>
<rect x="65.6" y="85.2" width="59.6" height="8.6" rx="1.6" fill="#fff" filter="url(#glow)"/><text x="66.4" y="92" font-size="7.1" fill="#fff" stroke="#fff" stroke-width="3.4" stroke-linejoin="round" filter="url(#glow)">60<tspan dy="-2.2" font-size="4.4">o</tspan><tspan dy="2.2"> incidence (TE)</tspan></text><text x="66.4" y="92" font-size="7.1" fill="#fff" stroke="#fff" stroke-width="2.4" stroke-linejoin="round">60<tspan dy="-2.2" font-size="4.4">o</tspan><tspan dy="2.2"> incidence (TE)</tspan></text><text x="66.4" y="92" font-size="7.1" fill="#d42828" stroke="#d42828" stroke-width="0.12">60<tspan dy="-2.2" font-size="4.4">o</tspan><tspan dy="2.2"> incidence (TE)</tspan></text>
<rect x="73.2" y="109.4" width="41.2" height="8.2" rx="1.6" fill="#fff" filter="url(#glow)"/><text x="74.2" y="116.1" font-size="7" fill="#fff" stroke="#fff" stroke-width="3.4" stroke-linejoin="round" filter="url(#glow)">FDTD-TFSF</text><text x="74.2" y="116.1" font-size="7" fill="#fff" stroke="#fff" stroke-width="2.4" stroke-linejoin="round">FDTD-TFSF</text><text x="74.2" y="116.1" font-size="7" fill="#111" stroke="#111" stroke-width="0.12">FDTD-TFSF</text>
<rect x="140.6" y="28.2" width="21.6" height="7.4" rx="1.6" fill="#fff" filter="url(#glow)"/><text x="141.6" y="34.4" font-size="7" fill="#fff" stroke="#fff" stroke-width="3.4" stroke-linejoin="round" filter="url(#glow)">Chitin</text><text x="141.6" y="34.4" font-size="7" fill="#fff" stroke="#fff" stroke-width="2.4" stroke-linejoin="round">Chitin</text><text x="141.6" y="34.4" font-size="7" fill="#f07010" stroke="#f07010" stroke-width="0.12">Chitin</text>
<rect x="131" y="104.9" width="11.2" height="7" rx="1.6" fill="#fff" filter="url(#glow)"/><text x="131.9" y="110.8" font-size="6.6" fill="#fff" stroke="#fff" stroke-width="3.4" stroke-linejoin="round" filter="url(#glow)">Air</text><text x="131.9" y="110.8" font-size="6.6" fill="#fff" stroke="#fff" stroke-width="2.4" stroke-linejoin="round">Air</text><text x="131.9" y="110.8" font-size="6.6" fill="#5aa04a" stroke="#5aa04a" stroke-width="0.12">Air</text>
<text x="88" y="40.6" font-size="7.1" fill="#f4f4f4">360 nm</text>
<text x="160" y="40.6" font-size="7.1" fill="#f4f4f4">360 nm</text>
<text x="142" y="103.3" font-size="7.1" fill="#fae810" stroke="#fae810" stroke-width="0.2">160 nm</text>
<path d="M121.6 37.8H132" stroke="#fff" stroke-width="0.9"/><path d="M120.8 37.8l2.4 -1.5v3zM132.8 37.8l-2.4 -1.5v3z" fill="#fff"/>
<path d="M139 37.8H149.6" stroke="#fff" stroke-width="0.9"/><path d="M138.2 37.8l2.4 -1.5v3zM150.4 37.8l-2.4 -1.5v3z" fill="#fff"/>
<path d="M131.3 100.9l3.5 -1.9v3.8zM139 100.9l-3.5 -1.9v3.8z" fill="#fae810"/>
</g>
</svg>
</body></html>
